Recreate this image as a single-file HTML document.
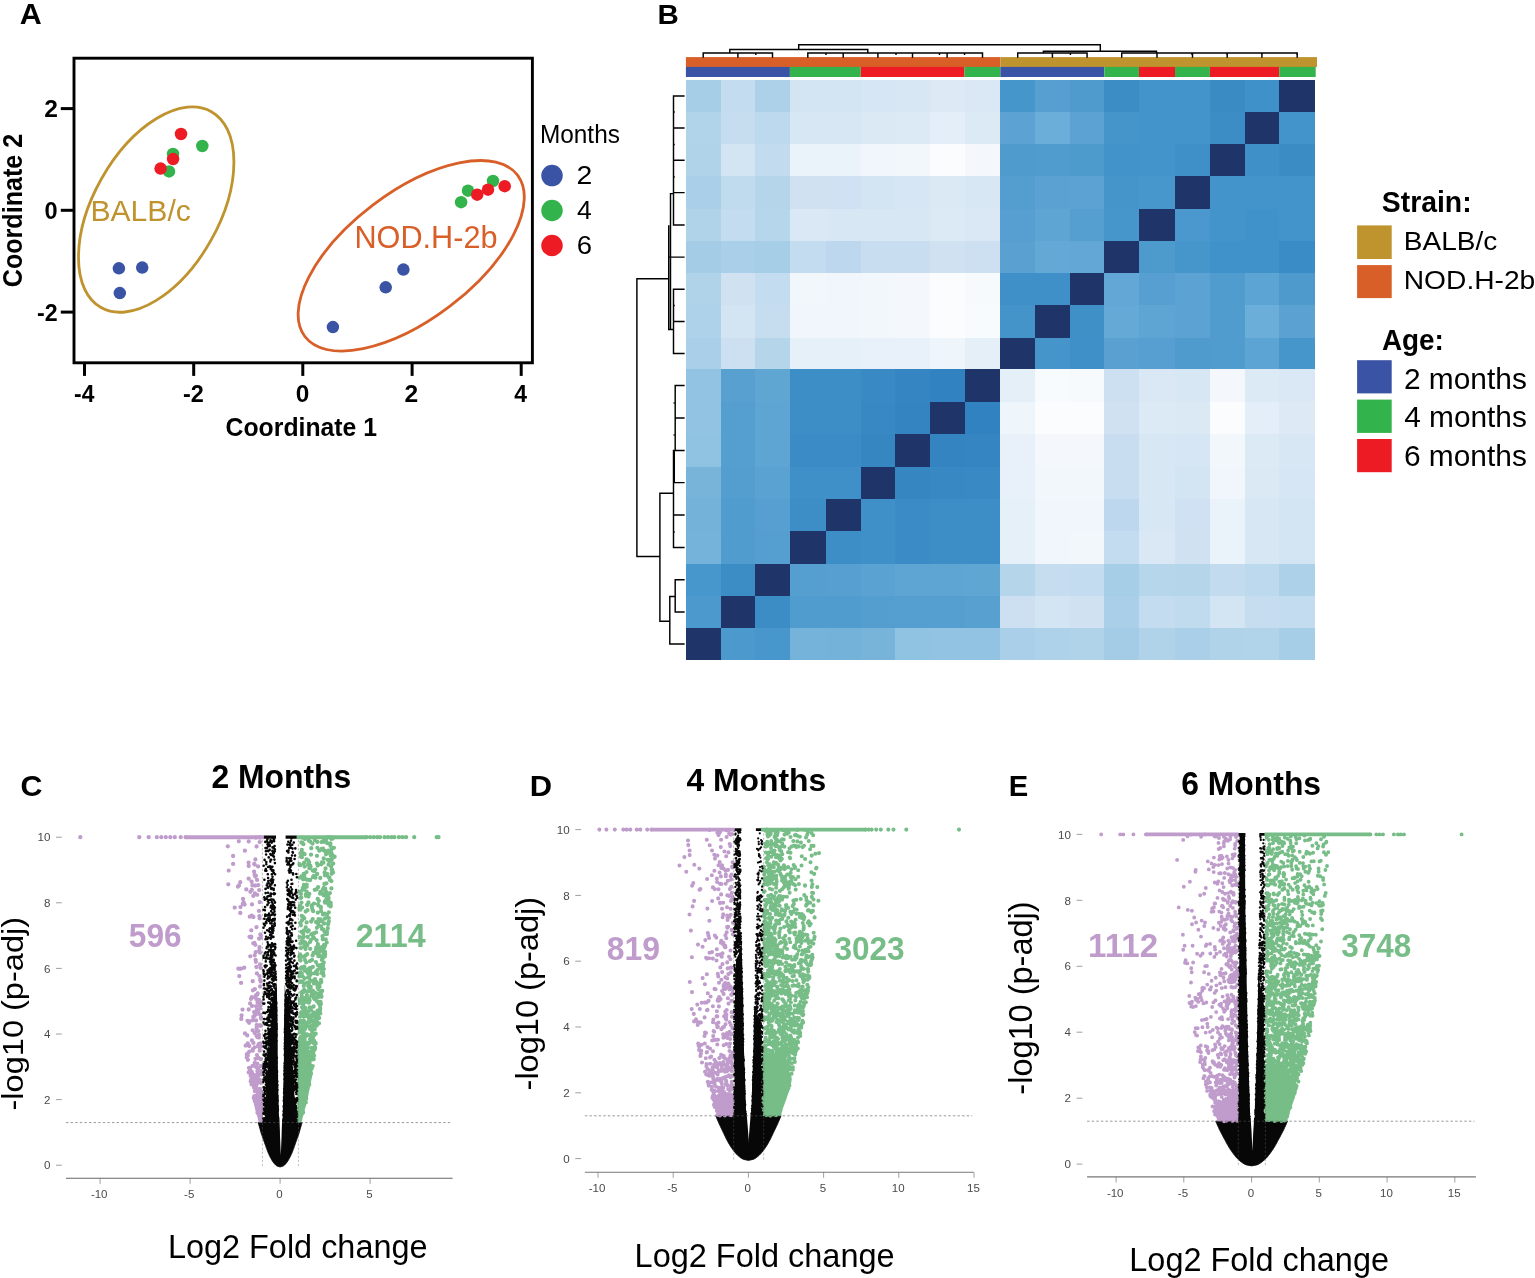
<!DOCTYPE html>
<html lang="en"><head><meta charset="utf-8"><title>Figure: MDS, sample distance heatmap and volcano plots</title>
<style>html,body{margin:0;padding:0;background:#fff}body{width:1535px;height:1278px;overflow:hidden}svg{display:block}text{font-family:"Liberation Sans",Arial,Helvetica,sans-serif;white-space:pre}</style></head><body>
<svg width="1535" height="1278" viewBox="0 0 1535 1278" role="img" aria-label="Five panel figure: MDS plot, sample distance heatmap and three volcano plots">
<rect width="1535" height="1278" fill="#fff"/>
<g id="panelA">
<text transform="translate(19.84 24.2) scale(1.0199 1)" font-size="29.86" font-weight="bold" fill="#000">A</text>
<rect x="74.0" y="58.2" width="458.4" height="304.6" fill="none" stroke="#000" stroke-width="2.9"/>
<line x1="60.8" x2="74.0" y1="108.6" y2="108.6" stroke="#000" stroke-width="3"/>
<line x1="60.8" x2="74.0" y1="210.3" y2="210.3" stroke="#000" stroke-width="3"/>
<line x1="60.8" x2="74.0" y1="312.1" y2="312.1" stroke="#000" stroke-width="3"/>
<line x1="84.5" x2="84.5" y1="362.8" y2="375.9" stroke="#000" stroke-width="3"/>
<line x1="193.7" x2="193.7" y1="362.8" y2="375.9" stroke="#000" stroke-width="3"/>
<line x1="302.8" x2="302.8" y1="362.8" y2="375.9" stroke="#000" stroke-width="3"/>
<line x1="412.1" x2="412.1" y1="362.8" y2="375.9" stroke="#000" stroke-width="3"/>
<line x1="521.2" x2="521.2" y1="362.8" y2="375.9" stroke="#000" stroke-width="3"/>
<text transform="translate(44.14 117.3) scale(1.0304 1)" font-size="23.86" font-weight="bold" fill="#000">2</text>
<text transform="translate(44.46 218.6) scale(1.0003 1)" font-size="23.57" font-weight="bold" fill="#000">0</text>
<text transform="translate(37.07 320.6) scale(0.9557 1)" font-size="24.29" font-weight="bold" fill="#000">-2</text>
<text transform="translate(74.09 401.6) scale(0.9494 1)" font-size="24.06" font-weight="bold" fill="#000">-4</text>
<text transform="translate(182.96 401.6) scale(0.9891 1)" font-size="23.71" font-weight="bold" fill="#000">-2</text>
<text transform="translate(295.82 401.6) scale(1.0298 1)" font-size="23.71" font-weight="bold" fill="#000">0</text>
<text transform="translate(404.54 401.6) scale(1.0366 1)" font-size="23.71" font-weight="bold" fill="#000">2</text>
<text transform="translate(514.36 401.6) scale(0.9556 1)" font-size="24.06" font-weight="bold" fill="#000">4</text>
<text transform="translate(225.61 435.8) scale(0.9637 1)" font-size="25.71" font-weight="bold" fill="#000">Coordinate 1</text>
<text transform="translate(22.1 287.2) rotate(-90) scale(0.9299 1)" font-size="27" font-weight="bold" fill="#000">Coordinate 2</text>
<ellipse cx="156.2" cy="209.6" rx="112.4" ry="62.8" transform="rotate(-60.6 156.2 209.6)" fill="none" stroke="#BF932E" stroke-width="2.8"/>
<ellipse cx="411.2" cy="255.8" rx="133.5" ry="63.6" transform="rotate(-37.2 411.2 255.8)" fill="none" stroke="#D95F28" stroke-width="2.8"/>
<text transform="translate(90.39 221.4) scale(1.029 1)" font-size="29.28" fill="#BF932E">BALB/c</text>
<text transform="translate(354.44 247.7) scale(0.999 1)" font-size="30.72" fill="#D95F28">NOD.H-2b</text>
<circle cx="118.9" cy="268.3" r="6.25" fill="#3A53A4"/>
<circle cx="142.2" cy="267.6" r="6.25" fill="#3A53A4"/>
<circle cx="119.8" cy="293.1" r="6.25" fill="#3A53A4"/>
<circle cx="403.4" cy="269.6" r="6.25" fill="#3A53A4"/>
<circle cx="385.7" cy="287.3" r="6.25" fill="#3A53A4"/>
<circle cx="332.9" cy="327.1" r="6.25" fill="#3A53A4"/>
<circle cx="202.3" cy="146.0" r="6.25" fill="#33B34B"/>
<circle cx="173.0" cy="153.9" r="6.25" fill="#33B34B"/>
<circle cx="169.0" cy="171.4" r="6.25" fill="#33B34B"/>
<circle cx="493.0" cy="181.0" r="6.25" fill="#33B34B"/>
<circle cx="468.0" cy="190.7" r="6.25" fill="#33B34B"/>
<circle cx="461.1" cy="202.2" r="6.25" fill="#33B34B"/>
<circle cx="181.0" cy="134.0" r="6.25" fill="#ED1C24"/>
<circle cx="173.1" cy="159.1" r="6.25" fill="#ED1C24"/>
<circle cx="160.6" cy="168.6" r="6.25" fill="#ED1C24"/>
<circle cx="504.7" cy="186.2" r="6.25" fill="#ED1C24"/>
<circle cx="488.0" cy="189.7" r="6.25" fill="#ED1C24"/>
<circle cx="477.2" cy="194.7" r="6.25" fill="#ED1C24"/>
<text transform="translate(539.95 142.5) scale(0.9509 1)" font-size="25.65" fill="#000">Months</text>
<circle cx="552" cy="175.6" r="10.75" fill="#3A53A4"/>
<circle cx="552" cy="210.5" r="10.75" fill="#33B34B"/>
<circle cx="552" cy="245.5" r="10.75" fill="#ED1C24"/>
<text transform="translate(576.38 183.8) scale(1.1087 1)" font-size="25.57" fill="#000">2</text>
<text transform="translate(577.07 218.6) scale(1.0462 1)" font-size="25.36" fill="#000">4</text>
<text transform="translate(576.82 253.7) scale(1.0765 1)" font-size="25.57" fill="#000">6</text>
</g>
<g id="panelB">
<text transform="translate(657.58 23.9) scale(1.0605 1)" font-size="27.83" font-weight="bold" fill="#000">B</text>
<g shape-rendering="crispEdges">
<rect x="685.9" y="80.2" width="34.9" height="31.7" fill="#A6CEE7"/>
<rect x="720.5" y="80.2" width="35" height="31.7" fill="#C3DCEF"/>
<rect x="755.2" y="80.2" width="35" height="31.7" fill="#ADD1E9"/>
<rect x="789.9" y="80.2" width="71.1" height="31.7" fill="#D3E4F3"/>
<rect x="860.7" y="80.2" width="34.7" height="31.7" fill="#D6E6F4"/>
<rect x="895.1" y="80.2" width="35" height="31.7" fill="#D8E7F4"/>
<rect x="929.8" y="80.2" width="35" height="31.7" fill="#DDEAF6"/>
<rect x="964.5" y="80.2" width="36.2" height="31.7" fill="#DAE8F5"/>
<rect x="1000.4" y="80.2" width="34.9" height="31.7" fill="#4596CB"/>
<rect x="1035" y="80.2" width="35.1" height="31.7" fill="#579FD0"/>
<rect x="1069.8" y="80.2" width="34.9" height="31.7" fill="#4F9BCD"/>
<rect x="1104.4" y="80.2" width="34.9" height="31.7" fill="#3C8DC6"/>
<rect x="1139" y="80.2" width="71.2" height="31.7" fill="#4294CB"/>
<rect x="1209.9" y="80.2" width="35" height="31.7" fill="#3A8BC4"/>
<rect x="1244.6" y="80.2" width="35" height="31.7" fill="#3F91C9"/>
<rect x="1279.3" y="80.2" width="36" height="31.7" fill="#1F3468"/>
<rect x="685.9" y="111.6" width="34.9" height="33.1" fill="#B2D4EA"/>
<rect x="720.5" y="111.6" width="35" height="33.1" fill="#C6DDF0"/>
<rect x="755.2" y="111.6" width="35" height="33.1" fill="#BDD9ED"/>
<rect x="789.9" y="111.6" width="71.1" height="33.1" fill="#D8E7F4"/>
<rect x="860.7" y="111.6" width="34.7" height="33.1" fill="#DBE9F5"/>
<rect x="895.1" y="111.6" width="35" height="33.1" fill="#DCEAF5"/>
<rect x="929.8" y="111.6" width="35" height="33.1" fill="#E3EEF8"/>
<rect x="964.5" y="111.6" width="36.2" height="33.1" fill="#DCEAF5"/>
<rect x="1000.4" y="111.6" width="34.9" height="33.1" fill="#5CA3D3"/>
<rect x="1035" y="111.6" width="35.1" height="33.1" fill="#6CAEDA"/>
<rect x="1069.8" y="111.6" width="34.9" height="33.1" fill="#5CA3D3"/>
<rect x="1104.4" y="111.6" width="34.9" height="33.1" fill="#4595CB"/>
<rect x="1139" y="111.6" width="71.2" height="33.1" fill="#4294CB"/>
<rect x="1209.9" y="111.6" width="35" height="33.1" fill="#3C8DC6"/>
<rect x="1244.6" y="111.6" width="35" height="33.1" fill="#1F3468"/>
<rect x="1279.3" y="111.6" width="36" height="33.1" fill="#4294CB"/>
<rect x="685.9" y="144.4" width="34.9" height="32.1" fill="#B0D3EA"/>
<rect x="720.5" y="144.4" width="35" height="32.1" fill="#D3E4F3"/>
<rect x="755.2" y="144.4" width="35" height="32.1" fill="#C2DBEF"/>
<rect x="789.9" y="144.4" width="71.1" height="32.1" fill="#EAF2FA"/>
<rect x="860.7" y="144.4" width="34.7" height="32.1" fill="#F0F6FB"/>
<rect x="895.1" y="144.4" width="35" height="32.1" fill="#F2F7FC"/>
<rect x="929.8" y="144.4" width="35" height="32.1" fill="#FAFCFE"/>
<rect x="964.5" y="144.4" width="36.2" height="32.1" fill="#F4F8FC"/>
<rect x="1000.4" y="144.4" width="34.9" height="32.1" fill="#4F9BCD"/>
<rect x="1035" y="144.4" width="35.1" height="32.1" fill="#509CCF"/>
<rect x="1069.8" y="144.4" width="34.9" height="32.1" fill="#4D9ACD"/>
<rect x="1104.4" y="144.4" width="34.9" height="32.1" fill="#4193CA"/>
<rect x="1139" y="144.4" width="36.3" height="32.1" fill="#4294CB"/>
<rect x="1175" y="144.4" width="35.2" height="32.1" fill="#3F90C8"/>
<rect x="1209.9" y="144.4" width="35" height="32.1" fill="#1F3468"/>
<rect x="1244.6" y="144.4" width="35" height="32.1" fill="#3F90C8"/>
<rect x="1279.3" y="144.4" width="36" height="32.1" fill="#3B8CC5"/>
<rect x="685.9" y="176.2" width="34.9" height="33" fill="#AACFE8"/>
<rect x="720.5" y="176.2" width="35" height="33" fill="#C0DAEE"/>
<rect x="755.2" y="176.2" width="35" height="33" fill="#B5D5EB"/>
<rect x="789.9" y="176.2" width="36" height="33" fill="#D0E2F2"/>
<rect x="825.6" y="176.2" width="35.4" height="33" fill="#CFE1F2"/>
<rect x="860.7" y="176.2" width="34.7" height="33" fill="#D3E4F3"/>
<rect x="895.1" y="176.2" width="35" height="33" fill="#D6E6F4"/>
<rect x="929.8" y="176.2" width="35" height="33" fill="#DBE9F5"/>
<rect x="964.5" y="176.2" width="36.2" height="33" fill="#D8E7F4"/>
<rect x="1000.4" y="176.2" width="34.9" height="33" fill="#539DCF"/>
<rect x="1035" y="176.2" width="35.1" height="33" fill="#5BA2D2"/>
<rect x="1069.8" y="176.2" width="34.9" height="33" fill="#5CA3D3"/>
<rect x="1104.4" y="176.2" width="34.9" height="33" fill="#4595CB"/>
<rect x="1139" y="176.2" width="36.3" height="33" fill="#4797CC"/>
<rect x="1175" y="176.2" width="35.2" height="33" fill="#1F3468"/>
<rect x="1209.9" y="176.2" width="105.4" height="33" fill="#4294CB"/>
<rect x="685.9" y="208.9" width="34.9" height="32.2" fill="#B0D3EA"/>
<rect x="720.5" y="208.9" width="35" height="32.2" fill="#C4DCEF"/>
<rect x="755.2" y="208.9" width="35" height="32.2" fill="#B6D6EC"/>
<rect x="789.9" y="208.9" width="36" height="32.2" fill="#DAE8F5"/>
<rect x="825.6" y="208.9" width="104.5" height="32.2" fill="#D8E7F4"/>
<rect x="929.8" y="208.9" width="35" height="32.2" fill="#DCEAF5"/>
<rect x="964.5" y="208.9" width="36.2" height="32.2" fill="#DAE8F5"/>
<rect x="1000.4" y="208.9" width="34.9" height="32.2" fill="#579FD0"/>
<rect x="1035" y="208.9" width="35.1" height="32.2" fill="#5EA5D4"/>
<rect x="1069.8" y="208.9" width="34.9" height="32.2" fill="#559ED0"/>
<rect x="1104.4" y="208.9" width="34.9" height="32.2" fill="#4796CB"/>
<rect x="1139" y="208.9" width="36.3" height="32.2" fill="#1F3468"/>
<rect x="1175" y="208.9" width="35.2" height="32.2" fill="#4A98CD"/>
<rect x="1209.9" y="208.9" width="35" height="32.2" fill="#4294CB"/>
<rect x="1244.6" y="208.9" width="35" height="32.2" fill="#4092CA"/>
<rect x="1279.3" y="208.9" width="36" height="32.2" fill="#4294CB"/>
<rect x="685.9" y="240.8" width="34.9" height="32.9" fill="#A4CCE6"/>
<rect x="720.5" y="240.8" width="35" height="32.9" fill="#AACFE8"/>
<rect x="755.2" y="240.8" width="35" height="32.9" fill="#A6CEE7"/>
<rect x="789.9" y="240.8" width="36" height="32.9" fill="#C4DCEF"/>
<rect x="825.6" y="240.8" width="35.4" height="32.9" fill="#BDD8EE"/>
<rect x="860.7" y="240.8" width="69.4" height="32.9" fill="#C8DEF0"/>
<rect x="929.8" y="240.8" width="35" height="32.9" fill="#D0E2F2"/>
<rect x="964.5" y="240.8" width="36.2" height="32.9" fill="#CCE0F1"/>
<rect x="1000.4" y="240.8" width="34.9" height="32.9" fill="#5AA1D1"/>
<rect x="1035" y="240.8" width="35.1" height="32.9" fill="#64A8D6"/>
<rect x="1069.8" y="240.8" width="34.9" height="32.9" fill="#62A7D5"/>
<rect x="1104.4" y="240.8" width="34.9" height="32.9" fill="#1F3468"/>
<rect x="1139" y="240.8" width="36.3" height="32.9" fill="#4D9ACD"/>
<rect x="1175" y="240.8" width="35.2" height="32.9" fill="#4696CB"/>
<rect x="1209.9" y="240.8" width="69.7" height="32.9" fill="#4092CA"/>
<rect x="1279.3" y="240.8" width="36" height="32.9" fill="#3A8CC6"/>
<rect x="685.9" y="273.4" width="34.9" height="32.1" fill="#B0D3EA"/>
<rect x="720.5" y="273.4" width="35" height="32.1" fill="#D0E2F2"/>
<rect x="755.2" y="273.4" width="35" height="32.1" fill="#C3DCEF"/>
<rect x="789.9" y="273.4" width="36" height="32.1" fill="#F2F7FC"/>
<rect x="825.6" y="273.4" width="35.4" height="32.1" fill="#F0F6FB"/>
<rect x="860.7" y="273.4" width="34.7" height="32.1" fill="#F2F7FC"/>
<rect x="895.1" y="273.4" width="35" height="32.1" fill="#F4F8FC"/>
<rect x="929.8" y="273.4" width="35" height="32.1" fill="#FAFCFE"/>
<rect x="964.5" y="273.4" width="36.2" height="32.1" fill="#F6FAFD"/>
<rect x="1000.4" y="273.4" width="69.7" height="32.1" fill="#3F90C8"/>
<rect x="1069.8" y="273.4" width="34.9" height="32.1" fill="#1F3468"/>
<rect x="1104.4" y="273.4" width="34.9" height="32.1" fill="#62A7D5"/>
<rect x="1139" y="273.4" width="36.3" height="32.1" fill="#579FD0"/>
<rect x="1175" y="273.4" width="35.2" height="32.1" fill="#5CA3D3"/>
<rect x="1209.9" y="273.4" width="35" height="32.1" fill="#519CCE"/>
<rect x="1244.6" y="273.4" width="35" height="32.1" fill="#5CA4D4"/>
<rect x="1279.3" y="273.4" width="36" height="32.1" fill="#4E9ACD"/>
<rect x="685.9" y="305.2" width="34.9" height="33" fill="#AED2E9"/>
<rect x="720.5" y="305.2" width="35" height="33" fill="#D3E4F3"/>
<rect x="755.2" y="305.2" width="35" height="33" fill="#C6DDF0"/>
<rect x="789.9" y="305.2" width="71.1" height="33" fill="#F0F6FB"/>
<rect x="860.7" y="305.2" width="34.7" height="33" fill="#F2F7FC"/>
<rect x="895.1" y="305.2" width="35" height="33" fill="#F4F8FC"/>
<rect x="929.8" y="305.2" width="35" height="33" fill="#FAFCFE"/>
<rect x="964.5" y="305.2" width="36.2" height="33" fill="#F8FBFD"/>
<rect x="1000.4" y="305.2" width="34.9" height="33" fill="#4494CA"/>
<rect x="1035" y="305.2" width="35.1" height="33" fill="#1F3468"/>
<rect x="1069.8" y="305.2" width="34.9" height="33" fill="#4090C8"/>
<rect x="1104.4" y="305.2" width="34.9" height="33" fill="#65A9D6"/>
<rect x="1139" y="305.2" width="36.3" height="33" fill="#5FA5D4"/>
<rect x="1175" y="305.2" width="35.2" height="33" fill="#5CA3D3"/>
<rect x="1209.9" y="305.2" width="35" height="33" fill="#519CCE"/>
<rect x="1244.6" y="305.2" width="35" height="33" fill="#6CAEDA"/>
<rect x="1279.3" y="305.2" width="36" height="33" fill="#5BA2D2"/>
<rect x="685.9" y="337.9" width="34.9" height="31.6" fill="#AACFE8"/>
<rect x="720.5" y="337.9" width="35" height="31.6" fill="#CCE0F1"/>
<rect x="755.2" y="337.9" width="35" height="31.6" fill="#B5D5EB"/>
<rect x="789.9" y="337.9" width="71.1" height="31.6" fill="#E6F0F9"/>
<rect x="860.7" y="337.9" width="69.4" height="31.6" fill="#E8F1F9"/>
<rect x="929.8" y="337.9" width="35" height="31.6" fill="#EEF5FB"/>
<rect x="964.5" y="337.9" width="36.2" height="31.6" fill="#E4EFF8"/>
<rect x="1000.4" y="337.9" width="34.9" height="31.6" fill="#1F3468"/>
<rect x="1035" y="337.9" width="35.1" height="31.6" fill="#4595CB"/>
<rect x="1069.8" y="337.9" width="34.9" height="31.6" fill="#3F90C8"/>
<rect x="1104.4" y="337.9" width="34.9" height="31.6" fill="#5AA1D1"/>
<rect x="1139" y="337.9" width="36.3" height="31.6" fill="#579FD0"/>
<rect x="1175" y="337.9" width="35.2" height="31.6" fill="#4F9BCD"/>
<rect x="1209.9" y="337.9" width="35" height="31.6" fill="#519CCE"/>
<rect x="1244.6" y="337.9" width="35" height="31.6" fill="#5CA4D4"/>
<rect x="1279.3" y="337.9" width="36" height="31.6" fill="#4696CB"/>
<rect x="685.9" y="369.2" width="34.9" height="32.6" fill="#92C3E2"/>
<rect x="720.5" y="369.2" width="35" height="32.6" fill="#57A0D0"/>
<rect x="755.2" y="369.2" width="35" height="32.6" fill="#60A6D3"/>
<rect x="789.9" y="369.2" width="71.1" height="32.6" fill="#3D8DC6"/>
<rect x="860.7" y="369.2" width="34.7" height="32.6" fill="#398AC4"/>
<rect x="895.1" y="369.2" width="35" height="32.6" fill="#3585C2"/>
<rect x="929.8" y="369.2" width="35" height="32.6" fill="#3182C1"/>
<rect x="964.5" y="369.2" width="36.2" height="32.6" fill="#1F3468"/>
<rect x="1000.4" y="369.2" width="34.9" height="32.6" fill="#E4EFF8"/>
<rect x="1035" y="369.2" width="35.1" height="32.6" fill="#F8FBFD"/>
<rect x="1069.8" y="369.2" width="34.9" height="32.6" fill="#F6FAFD"/>
<rect x="1104.4" y="369.2" width="34.9" height="32.6" fill="#CCE0F1"/>
<rect x="1139" y="369.2" width="36.3" height="32.6" fill="#DAE8F5"/>
<rect x="1175" y="369.2" width="35.2" height="32.6" fill="#D8E7F4"/>
<rect x="1209.9" y="369.2" width="35" height="32.6" fill="#F4F8FC"/>
<rect x="1244.6" y="369.2" width="35" height="32.6" fill="#DCEAF5"/>
<rect x="1279.3" y="369.2" width="36" height="32.6" fill="#DAE8F5"/>
<rect x="685.9" y="401.5" width="34.9" height="33.1" fill="#92C3E2"/>
<rect x="720.5" y="401.5" width="35" height="33.1" fill="#559ED0"/>
<rect x="755.2" y="401.5" width="35" height="33.1" fill="#5FA5D3"/>
<rect x="789.9" y="401.5" width="36" height="33.1" fill="#3D8DC6"/>
<rect x="825.6" y="401.5" width="35.4" height="33.1" fill="#3D8EC7"/>
<rect x="860.7" y="401.5" width="34.7" height="33.1" fill="#3888C3"/>
<rect x="895.1" y="401.5" width="35" height="33.1" fill="#3384C1"/>
<rect x="929.8" y="401.5" width="35" height="33.1" fill="#1F3468"/>
<rect x="964.5" y="401.5" width="36.2" height="33.1" fill="#3182C1"/>
<rect x="1000.4" y="401.5" width="34.9" height="33.1" fill="#EEF5FB"/>
<rect x="1035" y="401.5" width="69.7" height="33.1" fill="#FAFCFE"/>
<rect x="1104.4" y="401.5" width="34.9" height="33.1" fill="#D0E2F2"/>
<rect x="1139" y="401.5" width="36.3" height="33.1" fill="#DCEAF5"/>
<rect x="1175" y="401.5" width="35.2" height="33.1" fill="#DBE9F5"/>
<rect x="1209.9" y="401.5" width="35" height="33.1" fill="#FAFCFE"/>
<rect x="1244.6" y="401.5" width="35" height="33.1" fill="#E3EEF8"/>
<rect x="1279.3" y="401.5" width="36" height="33.1" fill="#DDEAF6"/>
<rect x="685.9" y="434.3" width="34.9" height="32.7" fill="#90C2E1"/>
<rect x="720.5" y="434.3" width="35" height="32.7" fill="#559ED0"/>
<rect x="755.2" y="434.3" width="35" height="32.7" fill="#5FA5D3"/>
<rect x="789.9" y="434.3" width="71.1" height="32.7" fill="#3B8CC6"/>
<rect x="860.7" y="434.3" width="34.7" height="32.7" fill="#3686C2"/>
<rect x="895.1" y="434.3" width="35" height="32.7" fill="#1F3468"/>
<rect x="929.8" y="434.3" width="35" height="32.7" fill="#3384C1"/>
<rect x="964.5" y="434.3" width="36.2" height="32.7" fill="#3585C2"/>
<rect x="1000.4" y="434.3" width="34.9" height="32.7" fill="#E8F1F9"/>
<rect x="1035" y="434.3" width="69.7" height="32.7" fill="#F4F8FC"/>
<rect x="1104.4" y="434.3" width="34.9" height="32.7" fill="#C8DEF0"/>
<rect x="1139" y="434.3" width="36.3" height="32.7" fill="#D8E7F4"/>
<rect x="1175" y="434.3" width="35.2" height="32.7" fill="#D6E6F4"/>
<rect x="1209.9" y="434.3" width="35" height="32.7" fill="#F2F7FC"/>
<rect x="1244.6" y="434.3" width="35" height="32.7" fill="#DCEAF5"/>
<rect x="1279.3" y="434.3" width="36" height="32.7" fill="#D8E7F4"/>
<rect x="685.9" y="466.7" width="34.9" height="32.1" fill="#78B4DA"/>
<rect x="720.5" y="466.7" width="35" height="32.1" fill="#539DCF"/>
<rect x="755.2" y="466.7" width="35" height="32.1" fill="#5AA2D1"/>
<rect x="789.9" y="466.7" width="36" height="32.1" fill="#3F90C8"/>
<rect x="825.6" y="466.7" width="35.4" height="32.1" fill="#3F8FC8"/>
<rect x="860.7" y="466.7" width="34.7" height="32.1" fill="#1F3468"/>
<rect x="895.1" y="466.7" width="35" height="32.1" fill="#3686C2"/>
<rect x="929.8" y="466.7" width="35" height="32.1" fill="#3888C3"/>
<rect x="964.5" y="466.7" width="36.2" height="32.1" fill="#398AC4"/>
<rect x="1000.4" y="466.7" width="34.9" height="32.1" fill="#E8F1F9"/>
<rect x="1035" y="466.7" width="69.7" height="32.1" fill="#F2F7FC"/>
<rect x="1104.4" y="466.7" width="34.9" height="32.1" fill="#C8DEF0"/>
<rect x="1139" y="466.7" width="36.3" height="32.1" fill="#D8E7F4"/>
<rect x="1175" y="466.7" width="35.2" height="32.1" fill="#D3E4F3"/>
<rect x="1209.9" y="466.7" width="35" height="32.1" fill="#F0F6FB"/>
<rect x="1244.6" y="466.7" width="35" height="32.1" fill="#DBE9F5"/>
<rect x="1279.3" y="466.7" width="36" height="32.1" fill="#D6E6F4"/>
<rect x="685.9" y="498.5" width="34.9" height="33" fill="#74B2D9"/>
<rect x="720.5" y="498.5" width="35" height="33" fill="#519CCE"/>
<rect x="755.2" y="498.5" width="35" height="33" fill="#579FD0"/>
<rect x="789.9" y="498.5" width="36" height="33" fill="#3D8DC6"/>
<rect x="825.6" y="498.5" width="35.4" height="33" fill="#1F3468"/>
<rect x="860.7" y="498.5" width="34.7" height="33" fill="#3F8FC8"/>
<rect x="895.1" y="498.5" width="35" height="33" fill="#3B8CC6"/>
<rect x="929.8" y="498.5" width="35" height="33" fill="#3D8EC7"/>
<rect x="964.5" y="498.5" width="36.2" height="33" fill="#3D8DC6"/>
<rect x="1000.4" y="498.5" width="34.9" height="33" fill="#E6F0F9"/>
<rect x="1035" y="498.5" width="69.7" height="33" fill="#F0F6FB"/>
<rect x="1104.4" y="498.5" width="34.9" height="33" fill="#BDD8EE"/>
<rect x="1139" y="498.5" width="36.3" height="33" fill="#D8E7F4"/>
<rect x="1175" y="498.5" width="35.2" height="33" fill="#CFE1F2"/>
<rect x="1209.9" y="498.5" width="35" height="33" fill="#EAF2FA"/>
<rect x="1244.6" y="498.5" width="35" height="33" fill="#D8E7F4"/>
<rect x="1279.3" y="498.5" width="36" height="33" fill="#D3E4F3"/>
<rect x="685.9" y="531.2" width="34.9" height="33" fill="#76B3DA"/>
<rect x="720.5" y="531.2" width="35" height="33" fill="#519CCE"/>
<rect x="755.2" y="531.2" width="35" height="33" fill="#559ED0"/>
<rect x="789.9" y="531.2" width="36" height="33" fill="#1F3468"/>
<rect x="825.6" y="531.2" width="35.4" height="33" fill="#3D8DC6"/>
<rect x="860.7" y="531.2" width="34.7" height="33" fill="#3F90C8"/>
<rect x="895.1" y="531.2" width="35" height="33" fill="#3B8CC6"/>
<rect x="929.8" y="531.2" width="70.9" height="33" fill="#3D8DC6"/>
<rect x="1000.4" y="531.2" width="34.9" height="33" fill="#E6F0F9"/>
<rect x="1035" y="531.2" width="35.1" height="33" fill="#F0F6FB"/>
<rect x="1069.8" y="531.2" width="34.9" height="33" fill="#F2F7FC"/>
<rect x="1104.4" y="531.2" width="34.9" height="33" fill="#C4DCEF"/>
<rect x="1139" y="531.2" width="36.3" height="33" fill="#DAE8F5"/>
<rect x="1175" y="531.2" width="35.2" height="33" fill="#D0E2F2"/>
<rect x="1209.9" y="531.2" width="35" height="33" fill="#EAF2FA"/>
<rect x="1244.6" y="531.2" width="35" height="33" fill="#D8E7F4"/>
<rect x="1279.3" y="531.2" width="36" height="33" fill="#D3E4F3"/>
<rect x="685.9" y="563.9" width="34.9" height="32.1" fill="#4897CC"/>
<rect x="720.5" y="563.9" width="35" height="32.1" fill="#3C8DC6"/>
<rect x="755.2" y="563.9" width="35" height="32.1" fill="#1F3468"/>
<rect x="789.9" y="563.9" width="36" height="32.1" fill="#559ED0"/>
<rect x="825.6" y="563.9" width="35.4" height="32.1" fill="#579FD0"/>
<rect x="860.7" y="563.9" width="34.7" height="32.1" fill="#5AA2D1"/>
<rect x="895.1" y="563.9" width="69.7" height="32.1" fill="#5FA5D3"/>
<rect x="964.5" y="563.9" width="36.2" height="32.1" fill="#60A6D3"/>
<rect x="1000.4" y="563.9" width="34.9" height="32.1" fill="#B5D5EB"/>
<rect x="1035" y="563.9" width="35.1" height="32.1" fill="#C6DDF0"/>
<rect x="1069.8" y="563.9" width="34.9" height="32.1" fill="#C3DCEF"/>
<rect x="1104.4" y="563.9" width="34.9" height="32.1" fill="#A6CEE7"/>
<rect x="1139" y="563.9" width="36.3" height="32.1" fill="#B6D6EC"/>
<rect x="1175" y="563.9" width="35.2" height="32.1" fill="#B5D5EB"/>
<rect x="1209.9" y="563.9" width="35" height="32.1" fill="#C2DBEF"/>
<rect x="1244.6" y="563.9" width="35" height="32.1" fill="#BDD9ED"/>
<rect x="1279.3" y="563.9" width="36" height="32.1" fill="#ADD1E9"/>
<rect x="685.9" y="595.7" width="34.9" height="32.9" fill="#4C9ACD"/>
<rect x="720.5" y="595.7" width="35" height="32.9" fill="#1F3468"/>
<rect x="755.2" y="595.7" width="35" height="32.9" fill="#3C8DC6"/>
<rect x="789.9" y="595.7" width="71.1" height="32.9" fill="#519CCE"/>
<rect x="860.7" y="595.7" width="34.7" height="32.9" fill="#539DCF"/>
<rect x="895.1" y="595.7" width="69.7" height="32.9" fill="#559ED0"/>
<rect x="964.5" y="595.7" width="36.2" height="32.9" fill="#57A0D0"/>
<rect x="1000.4" y="595.7" width="34.9" height="32.9" fill="#CCE0F1"/>
<rect x="1035" y="595.7" width="35.1" height="32.9" fill="#D3E4F3"/>
<rect x="1069.8" y="595.7" width="34.9" height="32.9" fill="#D0E2F2"/>
<rect x="1104.4" y="595.7" width="34.9" height="32.9" fill="#AACFE8"/>
<rect x="1139" y="595.7" width="36.3" height="32.9" fill="#C4DCEF"/>
<rect x="1175" y="595.7" width="35.2" height="32.9" fill="#C0DAEE"/>
<rect x="1209.9" y="595.7" width="35" height="32.9" fill="#D3E4F3"/>
<rect x="1244.6" y="595.7" width="35" height="32.9" fill="#C6DDF0"/>
<rect x="1279.3" y="595.7" width="36" height="32.9" fill="#C3DCEF"/>
<rect x="685.9" y="628.3" width="34.9" height="31.8" fill="#1F3468"/>
<rect x="720.5" y="628.3" width="35" height="31.8" fill="#4C9ACD"/>
<rect x="755.2" y="628.3" width="35" height="31.8" fill="#4897CC"/>
<rect x="789.9" y="628.3" width="36" height="31.8" fill="#76B3DA"/>
<rect x="825.6" y="628.3" width="35.4" height="31.8" fill="#74B2D9"/>
<rect x="860.7" y="628.3" width="34.7" height="31.8" fill="#78B4DA"/>
<rect x="895.1" y="628.3" width="35" height="31.8" fill="#90C2E1"/>
<rect x="929.8" y="628.3" width="70.9" height="31.8" fill="#92C3E2"/>
<rect x="1000.4" y="628.3" width="34.9" height="31.8" fill="#AACFE8"/>
<rect x="1035" y="628.3" width="35.1" height="31.8" fill="#AED2E9"/>
<rect x="1069.8" y="628.3" width="34.9" height="31.8" fill="#B0D3EA"/>
<rect x="1104.4" y="628.3" width="34.9" height="31.8" fill="#A4CCE6"/>
<rect x="1139" y="628.3" width="36.3" height="31.8" fill="#B0D3EA"/>
<rect x="1175" y="628.3" width="35.2" height="31.8" fill="#AACFE8"/>
<rect x="1209.9" y="628.3" width="35" height="31.8" fill="#B0D3EA"/>
<rect x="1244.6" y="628.3" width="35" height="31.8" fill="#B2D4EA"/>
<rect x="1279.3" y="628.3" width="36" height="31.8" fill="#A6CEE7"/>
</g>
<rect x="685.9" y="57.1" width="314.5" height="9.9" fill="#D95F28"/>
<rect x="1000.4" y="57.1" width="316.6" height="9.9" fill="#BF932E"/>
<rect x="685.9" y="66.9" width="104" height="10.1" fill="#3A53A4"/>
<rect x="789.9" y="66.9" width="70.8" height="10.1" fill="#33B34B"/>
<rect x="860.7" y="66.9" width="103.8" height="10.1" fill="#ED1C24"/>
<rect x="964.5" y="66.9" width="35.9" height="10.1" fill="#33B34B"/>
<rect x="1000.4" y="66.9" width="104" height="10.1" fill="#3A53A4"/>
<rect x="1104.4" y="66.9" width="34.6" height="10.1" fill="#33B34B"/>
<rect x="1139" y="66.9" width="36" height="10.1" fill="#ED1C24"/>
<rect x="1175" y="66.9" width="34.9" height="10.1" fill="#33B34B"/>
<rect x="1209.9" y="66.9" width="69.4" height="10.1" fill="#ED1C24"/>
<rect x="1279.3" y="66.9" width="36.4" height="10.1" fill="#33B34B"/>
<path d="M703.2 57.1V52.9M737.9 57.1V52.9M772.5 57.1V52.9M807.8 57.1V52.9M843.2 57.1V52.9M877.9 57.1V52.9M912.5 57.1V52.9M947.1 57.1V52.9M982.5 57.1V52.9M1017.7 57.1V52.9M1052.4 57.1V52.9M1087.1 57.1V52.9M1121.7 57.1V52.9M1157 57.1V52.9M1192.5 57.1V52.9M1227.2 57.1V52.9M1261.9 57.1V52.9M1297.2 57.1V52.9M703.2 52.9H772.5M807.8 52.9H982.5M1017.7 52.9H1087.1M1121.7 52.9H1297.2M755.8 52.9V54.2M826 52.9V54.2M896 52.9V54.2M939.5 52.9V54.2M964.5 52.9V54.2M1070.4 52.9V54.2M1192 52.9V54.2M1227 52.9V54.2M1262 52.9V54.2M1297 52.9V54.2M729.8 52.9V49.4M867.8 52.9V49.4M729.8 49.4H867.8M798.7 49.4V44.7M798.7 44.7H1100.3M1100.3 44.7V51.2M1043.4 51.2H1156.5M1043.4 51.2V52.9M1156.5 51.2V52.9" fill="none" stroke="#000" stroke-width="1.45" stroke-linejoin="round" stroke-linecap="square"/>
<path d="M673.5 95.9H683.9M673.5 128H683.9M673.5 160.3H683.9M673.5 192.6H683.9M673.5 224.9H683.9M673.5 95.9V224.9M668.7 257.1H683.9M673.5 289.3H683.9M673.5 321.5H683.9M673.5 353.5H683.9M673.5 289.3V353.5M670.5 193.6H673.5M670.5 193.6V329.5M670.5 329.5H673.5M668.7 225.9V329.5M668.7 329.5H670.5M636.9 278.8H668.7M636.9 278.8V556.5M636.9 556.5H659.9M659.9 493.2V621.2M659.9 493.2H673.5M675.2 385.4H683.9M675.2 417.9H683.9M675.2 450.5H683.9M675.2 385.4V450.5M673.5 482.6H683.9M673.5 514.9H683.9M673.5 547.5H683.9M673.5 450.5V547.5M674.3 450.5V482.6M659.9 621.2H669.8M669.8 596.5V644M669.8 644H683.9M669.8 596.5H675.2M675.2 579.8V612M675.2 579.8H683.9M675.2 612H683.9" fill="none" stroke="#000" stroke-width="1.45" stroke-linecap="square"/>
<path d="M673.5 112h1.2M673.5 144.5h1.2M673.5 177h1.2M673.5 305.5h1.2M673.5 403h1.2M673.5 435h1.2M673.5 532h1.2" fill="none" stroke="#000" stroke-width="1.3"/>
<text transform="translate(1381.75 212.3) scale(0.9554 1)" font-size="29.71" font-weight="bold" fill="#000">Strain:</text>
<rect x="1357.1" y="225.4" width="34.6" height="33.6" fill="#BF932E"/>
<rect x="1357.1" y="265.1" width="34.6" height="33.0" fill="#D95F28"/>
<text transform="translate(1403.76 250.1) scale(1.0634 1)" font-size="26.38" fill="#000">BALB/c</text>
<text transform="translate(1403.74 288.6) scale(1.0634 1)" font-size="26.52" fill="#000">NOD.H-2b</text>
<text transform="translate(1381.9 349.7) scale(0.9532 1)" font-size="29.28" font-weight="bold" fill="#000">Age:</text>
<rect x="1357.1" y="360.2" width="34.6" height="33.2" fill="#3A53A4"/>
<rect x="1357.1" y="399.6" width="34.6" height="33.3" fill="#33B34B"/>
<rect x="1357.1" y="439.0" width="34.6" height="33.2" fill="#ED1C24"/>
<text transform="translate(1403.9 388.8) scale(1.0063 1)" font-size="29.71" fill="#000">2 months</text>
<text transform="translate(1404.2 427.3) scale(0.9895 1)" font-size="30.14" fill="#000">4 months</text>
<text transform="translate(1403.9 465.7) scale(1.0063 1)" font-size="29.71" fill="#000">6 months</text>
</g>
<g id="panelC">
<path d="M66.0 1178.2H452.6" stroke="#666" stroke-width="1.1" fill="none"/>
<path d="M100.1 1178.2v5.6M190.1 1178.2v5.6M280.1 1178.2v5.6M370.1 1178.2v5.6M56 1165.2h5.8M56 1099.6h5.8M56 1034h5.8M56 968.4h5.8M56 902.8h5.8M56 837.2h5.8" stroke="#777" stroke-width="0.7" fill="none"/>
<text x="99.2" y="1198.1" font-size="11.5" fill="#4a4a4a" text-anchor="middle">-10</text>
<text x="189.2" y="1198.1" font-size="11.5" fill="#4a4a4a" text-anchor="middle">-5</text>
<text x="279.5" y="1198.1" font-size="11.5" fill="#4a4a4a" text-anchor="middle">0</text>
<text x="369.5" y="1198.1" font-size="11.5" fill="#4a4a4a" text-anchor="middle">5</text>
<text x="50.4" y="1169.4" font-size="11.6" fill="#4a4a4a" text-anchor="end">0</text>
<text x="50.4" y="1103.8" font-size="11.6" fill="#4a4a4a" text-anchor="end">2</text>
<text x="50.4" y="1038.2" font-size="11.6" fill="#4a4a4a" text-anchor="end">4</text>
<text x="50.4" y="972.6" font-size="11.6" fill="#4a4a4a" text-anchor="end">6</text>
<text x="50.4" y="907" font-size="11.6" fill="#4a4a4a" text-anchor="end">8</text>
<text x="50.4" y="841.4" font-size="11.6" fill="#4a4a4a" text-anchor="end">10</text>
<path d="M280.1 1167 283.3 1166 284.6 1165 285.6 1163.9 286.5 1162.9 287.2 1161.9 287.9 1160.9 288.6 1159.8 289.1 1158.8 289.7 1157.8 290.2 1156.8 290.7 1155.8 291.2 1154.7 291.6 1153.7 292.1 1152.7 292.5 1151.7 292.9 1150.6 293.3 1149.6 293.7 1148.6 294 1147.6 294.4 1146.5 294.7 1145.5 295.5 1143.4 296.2 1141.3 296.9 1139.3 297.7 1137.2 298.4 1135.1 299.1 1133 299.7 1130.9 300.3 1128.8 300.9 1126.7 301.5 1124.6 302.1 1122.6 258.1 1122.6 258.7 1124.6 259.3 1126.7 259.9 1128.8 260.5 1130.9 261.1 1133 261.8 1135.1 262.5 1137.2 263.3 1139.3 264 1141.3 264.7 1143.4 265.5 1145.5 265.8 1146.5 266.2 1147.6 266.5 1148.6 266.9 1149.6 267.3 1150.6 267.7 1151.7 268.1 1152.7 268.6 1153.7 269 1154.7 269.5 1155.8 270 1156.8 270.5 1157.8 271.1 1158.8 271.6 1159.8 272.3 1160.9 273 1161.9 273.7 1162.9 274.6 1163.9 275.6 1165 276.9 1166 280.1 1167Z" fill="#070707" stroke="#070707" stroke-width="0.8" stroke-linejoin="round"/>
<path d="M263 1122.6 263 1120.8 263 1119.1 263 1117.4 263 1115.7 263 1113.9 263 1112.2 263 1110.5 263 1108.7 263 1107 263 1105.3 263 1103.6 263 1101.8 263 1100.1 263 1098.4 263 1096.7 263 1094.9 263 1093.2 263 1091.5 263 1089.8 257.3 1089.8 256.6 1091.5 256 1093.2 255.4 1094.9 254.9 1096.7 254.5 1098.4 254.1 1100.1 253.7 1101.8 253.7 1103.6 254.2 1105.3 254.7 1107 255.1 1108.7 255.6 1110.5 256.1 1112.2 256.5 1113.9 257 1115.7 257.5 1117.4 257.9 1119.1 258.4 1120.8 258.9 1122.6Z" fill="#BF9CCB"/>
<path d="M238.8 841.3h0m9.9 0.1h0m7.3-3.8h0m3.7 4.5h0m0.2-4.6h0m-32.1 8.8h0m28.8 0.2h0m-11.7 4.2h0m-11.8 5.3h0m22.3 3.5h0m-22.3 4.4h0m15.5-1.3h0m0.1 3.4h0m5.5-2h0m0.4 0.6h0m3.5 1.8h0m-29.4 4.2h0m25.4 1.1h0m-5.5 7h0m6-3.7h0m0.7 1.6h0m0.6-0.9h0m-27.6 8.6h0m12-2.1h0m11.3-0.5h0m5.5-1.8h0m-19.2 6.8h0m1.1-1.3h0m7.3 4h0m5.5 0.5h0m0.6-4.5h0m2.9 0.1h0m3-0.4h0m0.9 5h0m-8.8 1.7h0m2.9 4.1h0m1.6-2.6h0m2.3 1.5h0m-14.2 4.1h0m0.7 3.6h0m16.1-0.3h0m-25.1 5.4h0m5.8-0.5h0m2.3-3.2h0m1.8 0.7h0m7.4-0.2h0m-11.7 8.6h0m18.7-2.1h0m-9.2 5.8h0m2-1.1h0m1.6 1.4h0m6-0.8h0m0.2 2.1h0m-8.3 12h0m5.2-3.1h0m-7 9.6h0m1.7-0.2h0m0 0.9h0m7.9 1.2h0m1.3-4.2h0m0.2 3.2h0m-7.3 5.6h0m1.1-0.5h0m0.9 2h0m4 5.4h0m0.2-3h0m-9.2 9.1h0m4.4-1h0m1-3.1h0m4.3 0.5h0m-4.4 7.1h0m0.3 2h0m-17.5 6.9h0m2.5 0h0m3.3-1h0m12.2-0.7h0m3.6-2.6h0m0.6 3.5h0m-3.7 5.5h0m-17.6 2.7h0m20.2 0h0m0.7 3.6h0m-19.1 3.2h0m11.6-1.7h0m7.4 5.3h0m0.5-4.9h0m-7.7 8.7h0m2-1.2h0m-3.9 9.8h0m0.8-1.7h0m2.8 0.1h0m1.5-2.2h0m1.2-0.4h0m0.4-1.3h0m-7.6 10.1h0m6.4-4.3h0m1 3h0m1.5-2.4h0m1.9 2.4h0m-18.4 7.4h0m6.2-0.1h0m3.3-3.5h0m4.1 0.2h0m0.7 3.5h0m2.7-4h0m0.5 2.9h0m0.2-2.4h0m-18.6 9.3h0m11.7 1.4h0m0.8-4.8h0m0.4 3.8h0m0.9-1.5h0m2.2-0.9h0m0.6-2.2h0m2.1 3.4h0m-19 4.2h0m6.2 1.9h0m1.3 0.3h0m0.3 1.7h0m3.5-2.5h0m3.5 0.2h0m4.9-2.8h0m0 0.9h0m-4.4 9.6h0m0.1-3.1h0m1.3 0.4h0m2.1-0.3h0m0.5 0.7h0m-15.6 7.5h0m7.6-3.1h0m2.2 2.9h0m2.2-2.4h0m0.1 0.1h0m1.3 0.2h0m0.5 3.9h0m-11.6 0.4h0m4.6 5h0m4.7-4.5h0m0.9 1.3h0m1.4 0.4h0m-13.3 8h0m2.2-2.3h0m1.4 2.7h0m4.2-3.1h0m4.6 3.1h0m0.6-1.5h0m0.3-0.5h0m0.3 3h0m0.2-1.2h0m0.8-2.4h0m0.6 3.3h0m-11.5 4.9h0m3.5-0.9h0m0-1.5h0m1.9-1.9h0m5 3.4h0m-13 6.9h0m0.1-3.1h0m1 0.9h0m0.3-2.3h0m7.4 5.7h0m1.5-3.6h0m1.6 2.8h0m-10.7 1.8h0m6.8 3h0m2.6 0.9h0m3.4-4.5h0m-11.7 8.7h0m1 0.2h0m0.1 1.9h0m2.4-4.1h0m3.6 1h0m2 2.2h0m0.1-1.2h0m1.1 2.6h0m1.2 0.3h0m0.5-4.9h0m-12.3 6.5h0m2 3.5h0m0.1-3.4h0m0.9-0.8h0m0.6 1.9h0m1.6 2h0m0.3-0.5h0m1.5 0.2h0m1.2-0.2h0m0.4-4h0m0.1 3h0m0.4 2.3h0m2.7-4.9h0m0.2 0.5h0m0.3 2.5h0m-10.3 6.9h0m0.4-1.6h0m1.1-2.7h0m0.9 4.3h0m0.3-2.1h0m0.3-0.7h0m2.7 2.4h0m0-2.4h0m0.5 3.9h0m1-2h0m1.8-0.6h0m0.9 2.9h0m-9 1.6h0m1.7 0.1h0m0.3-0.1h0m0.4 3.2h0m1.5 1.1h0m0.2-0.9h0m0.2-4h0m0.3 3.3h0m0.5-2.8h0m3.2 4.5h0m-5.1 2.3h0m0.4 0h0m0.6-1.5h0m0.9 1.1h0m0.5 0.4h0m1.8 0.8h0m0.4-1.4h0m1.3 2.3h0m-6.9 5.1h0m0.4-1.5h0m0.4 2.8h0m0.1 1.8h0m0-3h0m0.3 2.4h0m0.1-4.6h0m1.7 2.4h0m2 2h0m-2.3 0.9h0m0.3 2h0m0.4 2.9h0m3.3 0.1h0m0.3 0.6h0m-3.8 1.3h0m0.2-0.8h0m0.3 5.5h0m0.2-1.9h0m2.7-1.5h0m0.1-0.6h0m-0.3 8h0m0.1-2h0m0.1 4.5h0" stroke="#BF9CCB" stroke-width="4.3" stroke-linecap="round" fill="none"/>
<path d="M297.2 1122.6 297.2 1118.2 297.2 1113.9 297.2 1109.6 297.2 1105.3 297.2 1101 297.2 1096.7 297.2 1092.3 297.2 1088 297.2 1083.7 297.2 1079.4 297.2 1075.1 297.2 1070.8 297.2 1066.5 297.2 1062.1 297.2 1057.8 297.2 1053.5 297.2 1049.2 297.2 1044.9 297.2 1040.6 307.2 1040.6 308.2 1044.9 309.1 1049.2 310 1053.5 310.7 1057.8 311.4 1062.1 312 1066.5 312.5 1070.8 312.4 1075.1 311.5 1079.4 310.6 1083.7 309.8 1088 308.9 1092.3 308 1096.7 307.1 1101 306 1105.3 304.8 1109.6 303.7 1113.9 302.5 1118.2 301.3 1122.6Z" fill="#77BD87"/>
<path d="M301.4 842.5h0m0.8 0.2h0m0-5.1h0m2.6 1.4h0m4 1.5h0m1.4 1.2h0m4.6-1.7h0m2.4 1.9h0m4.3 0.2h0m2.3-1.9h0m0.2 1.7h0m2-1.8h0m1.6-2.8h0m2.7 0.1h0m0.8 1.4h0m1.6-0.3h0m-29.3 5.7h0m7.9 4h0m1.2-4.6h0m4.9 4.2h0m4.3 1.1h0m1.4-0.3h0m4.2-5.4h0m3.1 0.2h0m0 2.4h0m3.5 2h0m-33 5h0m0.3 1.9h0m0.6-4.9h0m1.1 3.4h0m1.7 1h0m6.4 0.5h0m8.3-4h0m4-0.5h0m1.5 0.8h0m1.2 3.3h0m1.8-3h0m0.3 0.6h0m0.2-1.2h0m2 3.5h0m0.8-2h0m0.3-2.6h0m0.4 4.5h0m-30.8 2.6h0m0.9 0.5h0m4.6 2.3h0m1.9 1.2h0m8.6-4.9h0m6.7 2.7h0m3.9 1.3h0m1.6 0.1h0m0.6 0.4h0m1-4.5h0m0 0h0m0.9 3.9h0m1.3-3.9h0m1 1.4h0m0.1-0.5h0m0.5 0h0m-35.2 7.4h0m0.9 1.1h0m3.5-1.7h0m0.4-0.8h0m0.4 3.9h0m3.5-2.1h0m1.1-1.9h0m1.2 3.3h0m6.6-2.6h0m0.7 2.2h0m3.5-1.2h0m0.7-2h0m1.5 0.4h0m5.2 2h0m1-2.9h0m1.6 4.6h0m2-2.8h0m-26.7 8.5h0m2.8-3.9h0m1.2-1.2h0m2.2 3.6h0m1.7 0.4h0m0.8-1.3h0m9.4 2.8h0m0.9-4h0m6.2 1.4h0m0.6 0h0m0.8 2.7h0m-33.3 5.1h0m2.1-1.6h0m1.8-2.2h0m0.5 0.8h0m0.1 1.4h0m8.7 0.9h0m0.9-1h0m1.5 1.7h0m1.8-3.7h0m3.1 4h0m4.6-2.7h0m2.2-1.5h0m1.4 3.3h0m0.8 0.6h0m2.3-3.9h0m0.4-0.8h0m-28.8 6.3h0m0.7 5.5h0m2.5-5.3h0m0.2 5.2h0m2.3-4.7h0m1.2 0h0m14.3 4h0m2-0.7h0m3.7-3.1h0m1.3 0.9h0m-28.8 8.7h0m0.3-1.9h0m1 1.5h0m2.8-2.6h0m8.1 3h0m1.8-0.5h0m1.5-2.1h0m4.8 2.5h0m0.8-1.8h0m1.5 0.8h0m6.2-0.3h0m-31.7 3.2h0m1.2 2.2h0m5 0.7h0m0 1.3h0m0.2-0.4h0m0.5-3.8h0m0.7 3.5h0m1.1 1.4h0m0.9-2.5h0m10.8-0.3h0m0.3-1.7h0m1.8 1.8h0m1.5 1.5h0m1.6-1.7h0m0.6-2.1h0m0.1 2.5h0m1.9 0h0m0.2 2h0m1.8-2.9h0m-29.2 4.9h0m0.5-0.5h0m0.3 5.1h0m6.9-0.1h0m9.3-3.6h0m1.2 1.9h0m5.9 0.9h0m0.3 1h0m1-2.8h0m0.6-1.9h0m0.1 3.3h0m1.8-3.2h0m0.1 4.8h0m0.1-1.8h0m0 0.7h0m1.9 1h0m-31.3 6.1h0m0.6-3.3h0m2.2 2h0m4.9-2.6h0m4.5 1.1h0m0.1-0.6h0m0.4 2.7h0m1.9-4.6h0m3.9 0.7h0m0.5 1.1h0m2.3 1.6h0m0.2 0.8h0m7.1-4.8h0m0.7 2.1h0m1.9 1.3h0m0.2-0.9h0m-30.5 4.2h0m5.4 1.8h0m1.8-1.3h0m5.2 0.1h0m0.5 0.9h0m4.6 1.5h0m3.3-1.5h0m1.8 3.2h0m1.8-0.7h0m2.4 1.1h0m1.7-2.5h0m-27 3.6h0m0.1 4.6h0m1.2-3.5h0m1.2 1.3h0m8.4 0.8h0m5.8 0.1h0m2.1 0.1h0m4.4-0.8h0m2.7-0.9h0m1.1 0.5h0m-28.4 4.7h0m0.5 2.5h0m5.7-2.9h0m4.6-0.9h0m4.8 0.6h0m2.3 2.5h0m0.7-3.3h0m2 5.2h0m1.2-5.1h0m1.9 2.1h0m4 0.8h0m0.2-1.1h0m0.5-1.6h0m-27.5 10.2h0m1.6-0.2h0m1-1.2h0m1.8-2.9h0m1.8 4.1h0m1.2-1.1h0m7.4 1.8h0m0.8-4.5h0m5.1 1.3h0m1.2 0.2h0m1.3 2.2h0m2.5 0h0m0.8-3.3h0m-28.1 8.9h0m3.4 0.6h0m0.2-4h0m0.3 2.8h0m4.1 0.5h0m3.5-2.6h0m1.8-0.8h0m0.2 3.8h0m0.7-4h0m0.1 4.7h0m8.5-1.9h0m2.9-2.4h0m1.6 0.3h0m-26.3 9.6h0m0.7-2.6h0m2.3 0.5h0m1.2 2.4h0m0.5-1.3h0m2.1 1.9h0m2.6-2.7h0m0.7-1.8h0m5.8 0.2h0m1.3 3.9h0m4.9-4.9h0m2.9 0.2h0m1 3.1h0m-25.8 5.5h0m3.3-1.4h0m1.3 2.3h0m1.5-3.3h0m3.2 3.1h0m5.8 0.8h0m0 0.5h0m0.3-2.8h0m1.7-0.4h0m1.5 0.5h0m0.2 1.6h0m0.4 0.3h0m2.3 1.3h0m0.2-3.6h0m1.5-2h0m0.1 2.8h0m0.4-1h0m0.5-1.4h0m-25 9h0m2.9 2.3h0m1.7-0.4h0m1.1-1h0m1.4-1.1h0m5.4 1.2h0m0.9-2.5h0m3.4 0.5h0m1.5 2.8h0m0.8-1h0m0.3 1h0m0.6-4.9h0m1.9 5h0m1.2-0.4h0m0.5-2.1h0m1-0.7h0m0.1 3.4h0m0.2-4.5h0m0.1 2.6h0m-25.7 2.4h0m1 3.1h0m0.1 0.4h0m4.5-0.4h0m1.2 2.3h0m3.8-1.3h0m2.1-1.2h0m3.9 2.2h0m5.9-2.2h0m0.6-1.5h0m0.5-0.9h0m0.7 4.9h0m-22.8 6h0m0.5-0.9h0m2.9-0.9h0m5.6 1.3h0m0.6 0.3h0m2.3-1.3h0m4.9-1.8h0m1.9 0.3h0m0.1 2.4h0m0.3-1.5h0m0.2 0.6h0m0.2-0.3h0m0.3 2.2h0m0.8-4h0m0.6 0.1h0m0.7 1.3h0m0.2-1.3h0m0.2 4.1h0m-23.4 5.4h0m0.8-2.1h0m0.6 1.7h0m0.6-0.6h0m2.8-3.4h0m1.1 0.1h0m0.1 0.9h0m1.7-0.5h0m0.6-1.4h0m0 4.3h0m0.5 0h0m0.2-0.4h0m0.1-3.6h0m1.5 3h0m0.1-3.4h0m0.4 5h0m3.4-0.7h0m1.8-1.7h0m1.2 2.4h0m0.1-3.8h0m4.1 2.7h0m1.2-0.1h0m0.5 0h0m0.6-3.7h0m-24.3 7.3h0m3-0.1h0m2.2 2.2h0m3.6-1.3h0m0.9 0.8h0m0.8-2.7h0m0.4 5.4h0m1.9 0.2h0m2.7-1.8h0m6 0.8h0m2.6-4.2h0m-23.7 6.4h0m0.6-0.8h0m0.9 0.1h0m0.7 0.3h0m0.5 0.5h0m1.2 3.7h0m0.5-2.5h0m3.1-0.8h0m0.8 3.4h0m0.2-1.6h0m0.4 2.4h0m0.1-2.9h0m1.8 3.1h0m3.2-3.6h0m1-2h0m0.2-0.1h0m1.2 2.5h0m0.1-2h0m3.2 4.9h0m0.2-3.3h0m1.5-1.4h0m-20 10.4h0m1.4-0.9h0m0.5 0.8h0m1-2.5h0m0.7 1h0m2.3 0.8h0m0 0h0m1.8-1.1h0m1.8 1.1h0m2-0.9h0m0.3 1.9h0m1.9 0.1h0m2.6-5.3h0m0 0.3h0m0.9 1.9h0m2.3 3.2h0m1.4-1.9h0m-21.1 7.8h0m0.6-2.9h0m0.2-2.5h0m1.2 5.1h0m0.7 0.2h0m1.1 0h0m0-0.4h0m0.7 0.6h0m1.3-3.7h0m2.4 3.3h0m2.1-2.9h0m0.9-1.7h0m1.6-0.1h0m0.1 4.6h0m0.3-0.6h0m0.8-0.3h0m2.4-3.4h0m0.5 3.2h0m0.4-0.2h0m2-1.4h0m0.5-1.8h0m0.4 2.6h0m0.2 0.4h0m-21.9 2.8h0m0.1 3.5h0m0.5-3.2h0m0.8 2.7h0m0.7-2.8h0m0.7 1.2h0m0.9 3.7h0m1.9-5.6h0m0 2.8h0m0.2-1.7h0m1.7 0.7h0m1.1 1.1h0m0.6 0.7h0m0.3-1.3h0m0.5-1h0m5.2-1.1h0m2.4 2.2h0m1.6 1.9h0m0.2 0.1h0m0-1.5h0m1.5 0h0m0.4 2h0m-18.9 3.3h0m0.8 0.9h0m2.3-0.3h0m4.3 0.1h0m0.4-0.5h0m0.8 2.6h0m0.3-1h0m2.7-2.6h0m4 4.2h0m1.6-0.4h0m0.8-4.5h0m0.1 4.5h0m0.1-2h0m-19.8 8.2h0m0.6-3.4h0m0.4-0.9h0m2.3 4h0m0.1-3h0m0.7-1.4h0m1 4.2h0m1.6-4.6h0m0.2 1h0m0.6 2.8h0m0.3 1.5h0m0.4-5.1h0m3 3.7h0m0.5-0.6h0m0 2.2h0m0.8-1.1h0m0.7-3.5h0m0.5 3.7h0m1.1-2.3h0m0 1.4h0m0.1 1.4h0m0.6-3.7h0m0.8 0.2h0m1.4 2.1h0m0.2-0.9h0m0.6-3h0m1.4 2.2h0m-19.8 7.5h0m1.2 1.1h0m1.6 0.7h0m0.4-2.2h0m3.7 2h0m1.6-4.1h0m0 2.9h0m0.6 0.5h0m0.1-2.1h0m0.1 1.4h0m0.2-3.1h0m0.1 3.3h0m0.5-2.6h0m0.2 2.3h0m1.8-0.1h0m3.1-1.4h0m0-2.2h0m0.7 3.2h0m0.3 1h0m0.5 0.9h0m1.9-4.4h0m-19.9 5.2h0m0.7 4h0m0.7 0h0m2.1-3.4h0m0 3.5h0m1.4 0.8h0m1.2 0.7h0m0.2-5.5h0m0.1 3.4h0m1.7-0.8h0m2.3 0.5h0m0.1 0.7h0m0.4 1.9h0m1.6-3.5h0m0 0.2h0m0.7 3h0m0.3 0.1h0m1.4-3.6h0m0.2-1.9h0m0.5 1.1h0m1.6 0.2h0m0.3 1h0m1-1.6h0m1.3-0.7h0m-19.4 8.9h0m0.2-3h0m1.1 0.8h0m1.9 2.9h0m0.8-1.3h0m0.5 2h0m2.5 0.7h0m1.1 0.4h0m4.5-2.6h0m0.3-2.5h0m1.6 4.1h0m0.2 1.2h0m0.4-5.7h0m1 4.5h0m-15.6 6.3h0m0.4-2.2h0m0.6-1.4h0m0 0.8h0m1.3-1.1h0m0.1 4.1h0m0.4-0.1h0m1.4-1.9h0m0.3 1h0m0.5-3.2h0m0.4-0.4h0m1 0.2h0m3.6-0.3h0m0 3.8h0m0.7-1h0m0.1-0.9h0m2 0.3h0m0.3 2.5h0m-13.9 6.7h0m1.4-0.4h0m0.7-0.2h0m1-0.6h0m2.4 0.9h0m1.2-3.1h0m0.2-0.2h0m1.2 3.4h0m0.4-3.1h0m0.9-1h0m0.5 1h0m3.3-1.6h0m1.5 1.5h0m0.2-2.5h0m0.8 2.3h0m0.5-0.5h0m0.2 0.6h0m-16.4 5.2h0m0.4 4.3h0m0.1-2.9h0m0.2-1.2h0m1.1-0.7h0m0.6-0.6h0m0.5 5.1h0m5.6-5.2h0m0.1 0.2h0m0.1 3.8h0m0.6 1.5h0m0.2 0h0m2.4-1h0m0.5-3.9h0m0.4 3.4h0m0.1-0.7h0m0.6 1.5h0m0.4-1.5h0m0.2-0.4h0m0.1 1.3h0m0.2-0.8h0m0.2-2.4h0m0.1 0.4h0m0.8-1.5h0m0.2 0h0m0 1.8h0m-15.6 8.2h0m0.4 1.1h0m0.4-3.8h0m0.2 4.4h0m0-0.7h0m0.1-2.8h0m0.4-1.1h0m0.2 0.3h0m0.6 2.5h0m0.8 1.8h0m0.5-0.2h0m0.1-5.1h0m1.4 0h0m0.1 0.1h0m0.3 3.7h0m0.8-0.4h0m0.1 1.1h0m2.1-4.7h0m1.6 4.7h0m1.3-1.3h0m1.4-3.4h0m1.1 1h0m0.7 1.2h0m-14.2 8.8h0m1.5-0.1h0m0.3-1.2h0m1.5 0.9h0m0-3.6h0m5.6 0.7h0m0.7 0.3h0m1.7-2.5h0m1.4 0.4h0m1.2-0.2h0m-14.5 6.9h0m0.7-1h0m0.5 1.5h0m2.9 0.6h0m4.7 1.8h0m1.9-1h0m1.1-0.8h0m0.7 1.4h0m1-2.5h0m-12.9 7.1h0m0.2-1.1h0m0.8-0.3h0m0.9 3.2h0m0.1 1.9h0m1.1-5.7h0m0 4.9h0m0.7-1.1h0m2.8 2h0m0.5-0.5h0m0.6 0.2h0m0.9-4.7h0m0.3-0.6h0m2.3 2.2h0m-10.4 4.8h0m2.9 4h0m0.1-4.4h0m0.9 0.7h0m0.5 2.1h0m0.8 2.1h0m1.3-5.2h0m1.5 4.8h0m-9.1 5.1h0m0.2-3.9h0m0.5 3.6h0m1.5-0.4h0m0.6-2.1h0m1.3 3.5h0m0.8-1.9h0m0.3 0.7h0m0.4-0.2h0m4.1-2.2h0m-8.7 6.3h0m1.7 3.5h0m1-0.8h0m0.1-2h0m0 3.1h0m0-5.2h0m0.7 4.5h0m0.1-1.9h0m0.3 1.5h0m0.5-2.5h0m-2.9 6.8h0m1 2.6h0m0.1-0.8h0m0.7-0.6h0m0.6-3.3h0m0.1 4.4h0m1.7-1.9h0m-6.7 3.4h0m0.3 0.9h0m0.7 2.8h0m2.9-0.1h0m1.9-3.1h0m0.5 0.1h0m-6.6 8.1h0m0.7-2.1h0m0.3 3.7h0m1.7 0.6h0m0.4-5.7h0m0.8 5.5h0m-3.3 1.9h0m1.4 0.1h0m-1.1 4.9h0" stroke="#77BD87" stroke-width="4.3" stroke-linecap="round" fill="none"/>
<path d="M262.7 1132.4 262.7 1128 262.7 1123.7 262.7 1119.3 296.6 1119.3 296.6 1123.7 296.6 1128 296.6 1132.4Z" fill="#070707"/>
<path d="M279.2 1122.6 279 1117.2 278.8 1111.9 278.7 1106.6 278.5 1101.3 278.4 1096 278.3 1090.7 278.2 1085.3 278.1 1080 278 1074.7 277.9 1069.4 277.8 1064.1 277.7 1058.8 277.7 1053.5 277.7 1048.1 277.7 1042.8 277.6 1037.5 277.6 1032.2 277.6 1026.9 277.5 1021.6 277.4 1016.2 277.3 1010.9 277.2 1005.6 277.1 1000.3 277 995 276.9 989.7 276.8 984.3 276.7 979 276.7 973.7 276.6 968.4 276.6 968.4 276.7 973.7 276.7 979 276.5 984.3 275.2 989.7 274 995 272.8 1000.3 272.3 1005.6 272 1010.9 271.7 1016.2 271.4 1021.6 271 1026.9 270.7 1032.2 270.4 1037.5 270.1 1042.8 269.7 1048.1 269.3 1053.5 268.8 1058.8 268.3 1064.1 267.9 1069.4 267.4 1074.7 266.9 1080 266.5 1085.3 266.2 1090.7 266 1096 265.7 1101.3 265.4 1106.6 265.1 1111.9 264.9 1117.2 264.6 1122.6Z" fill="#070707"/>
<path d="M282.4 1122.6 282.6 1117.2 282.8 1111.9 282.9 1106.6 283.1 1101.3 283.2 1096 283.3 1090.7 283.4 1085.3 283.5 1080 283.6 1074.7 283.7 1069.4 283.8 1064.1 283.9 1058.8 283.9 1053.5 283.9 1048.1 283.9 1042.8 284 1037.5 284 1032.2 284 1026.9 284.1 1021.6 284.2 1016.2 284.3 1010.9 284.4 1005.6 284.5 1000.3 284.6 995 284.7 989.7 284.8 984.3 284.9 979 284.9 973.7 285 968.4 285 968.4 284.9 973.7 284.9 979 284.8 984.3 285.3 989.7 286.6 995 287.9 1000.3 288.4 1005.6 288.8 1010.9 289.2 1016.2 289.5 1021.6 289.9 1026.9 290.3 1032.2 290.7 1037.5 291.1 1042.8 291.4 1048.1 291.8 1053.5 292.2 1058.8 292.6 1064.1 293 1069.4 293.5 1074.7 293.9 1080 294.2 1085.3 294.3 1090.7 294.4 1096 294.6 1101.3 294.7 1106.6 294.8 1111.9 295 1117.2 295.1 1122.6Z" fill="#070707"/>
<path d="M280.8 1155.4 280.6 1150.4 280.4 1145.5 280.2 1140.6 280 1135.7 279.9 1130.8 279.7 1125.8 279.5 1120.9 279.4 1116 282.2 1116 282.1 1120.9 281.9 1125.8 281.7 1130.8 281.6 1135.7 281.4 1140.6 281.2 1145.5 281 1150.4 280.8 1155.4Z" fill="#fff"/>
<path d="M265.3 841.9h0m1.7-0.5h0m0.4-2.1h0m1.2 3.6h0m1.8-1.2h0m0.1-1.5h0m1.2 2.4h0m0.3-1h0m0.7-3.8h0m1 2.2h0m0.3-0.4h0m0.1 1.7h0m14.2 0.4h0m2.7-1h0m0.5-2.5h0m2.3 4.3h0m-28.3 5.6h0m1.6-0.4h0m0.4-3.3h0m0.6-0.9h0m0.2 2.5h0m0-2h0m1.3 0.7h0m0.2 1.2h0m2.7 1.5h0m1.3 0.9h0m0.8-2.3h0m12.9-1.4h0m1.7 3.5h0m0.5-3.3h0m0.4-1.7h0m0.4 2.5h0m0.6 2.1h0m1.2-3h0m0.2 3.9h0m2.8-0.2h0m-29.4 2.9h0m0.2 3.2h0m0.9-3.7h0m0.8-0.1h0m0.6 0.4h0m1.3-1.2h0m0.7 4.2h0m0.6 0.8h0m1.4-4h0m0.6 2.2h0m0.3-1.5h0m0.5 1.6h0m1-2h0m0.1-1.9h0m12.2 1.8h0m1.3 1.4h0m0.1-1.9h0m4.1 1.4h0m0.3 0.8h0m-28.3 7.1h0m4.1-2.5h0m1.9 2.5h0m0.6-0.1h0m1.3-4.6h0m0.8 0.9h0m0.6 0.6h0m0.5 2.9h0m12.3 0.8h0m0-2.3h0m2.5 0.1h0m1.3 1.6h0m0.4-1.4h0m0.4 2.4h0m0.7-5.3h0m2.6 3.5h0m0.4-3.4h0m-31.3 10.2h0m2.6-1.6h0m0-2.1h0m3.5 4.3h0m0.5 0.6h0m0-5.4h0m0.2 4.9h0m1.9 0.3h0m2.5-3.7h0m11.7-1.7h0m0.7 3.1h0m0.9-1.5h0m0.6-0.2h0m0.4 1.7h0m0.2-3.1h0m1 5.5h0m0.8-1.6h0m1.4-1.1h0m0.7-0.8h0m-28.1 7.2h0m0.6-1.6h0m0.6 1.7h0m1.7-3.7h0m2.6 1.9h0m1.1 0.7h0m0.1 1h0m1.3 1.1h0m0.2-1.3h0m15.4 0.1h0m0.6 2.1h0m0.2-3.8h0m0.9 2.8h0m0.1 0.6h0m0.1-0.4h0m0.3-1.3h0m-23.2 3.7h0m0.3 3.8h0m3.6 1h0m0.1-4.8h0m0.7 2.5h0m1.4-3.6h0m1.2 1.1h0m17.8-0.8h0m0.2 1.1h0m0.1-0.7h0m3.1 0.2h0m0.6 3.2h0m-32.5 2.5h0m3.1 3.9h0m0.2-0.2h0m0.6-2.4h0m0.8 2.3h0m1.6-3.1h0m0.5 1h0m0.2 3.3h0m0.3-3.8h0m0.1 2.8h0m0 0h0m1-1h0m0-1.4h0m0.5-1.4h0m13.6 2.9h0m1-1.8h0m3.6-1.1h0m0 4.3h0m0.8-0.3h0m-26.8 5.2h0m0.1 0.1h0m1.2-3.8h0m0.9 2.2h0m0.5 0.4h0m1.5-1.9h0m1.5 3.1h0m0.1-1.1h0m0.8 0.5h0m1.6 0.4h0m0 1.1h0m1.2-4.7h0m12 2.1h0m0.6 3.1h0m0.1-5.4h0m0.1 5.8h0m1-1.4h0m0.4 1.2h0m1.7-3.3h0m1.2 2.2h0m4.1 0.6h0m-30.5 3h0m1.7 3.6h0m0.7-4h0m0.6 3.4h0m1.6-0.3h0m0.4-0.9h0m0.1-1.3h0m0 2.7h0m0.6-2.4h0m0.3-0.1h0m2.4 0.5h0m0.2-1.1h0m0.7 0.6h0m12.8 0.5h0m0.5 0.6h0m0.4-3.6h0m0.7 1.5h0m0.1 0.3h0m0.4 1h0m0.3-3h0m0 5.2h0m1.3-4.3h0m0.2 0.9h0m1.3 2.2h0m1.9-1.2h0m1.2-2.2h0m0.5 0.8h0m0.1 3.4h0m-32.3 1.4h0m0.4 1h0m0 1.4h0m1-0.9h0m1 0h0m1.1 2.4h0m0.9 1.5h0m0.1-2.6h0m1.8-0.3h0m0.4-0.3h0m0.7 2.7h0m0.2 0.1h0m0.1-2.7h0m1.5 0.2h0m1.1 2h0m0.2 0.6h0m0.2 0.2h0m12.2-3.5h0m0.8 1.4h0m0.2-0.8h0m0.8 2.1h0m0.8 0.3h0m1.8 0.1h0m0.2-4.7h0m0.7 4.5h0m0.6-4.1h0m1.1 4.6h0m1.5-2.9h0m1.5-2h0m-32.1 9.5h0m2.3-2.2h0m0.2-0.4h0m3.1 3h0m0.1-0.5h0m0.2-1.2h0m1 1.4h0m0.3 0.3h0m0.5-3.3h0m0.5 2.2h0m0.3 1.2h0m0.4-1.2h0m0 2.1h0m0.9-0.9h0m13 1h0m0.2-1.8h0m0.1-2.6h0m1 0.3h0m0.4 4.2h0m0.5-3.7h0m0.1-1.8h0m0.3 4.6h0m0.4 0.3h0m0.3-0.6h0m0.3-2.6h0m1.7 0.3h0m1 0.1h0m1 2.4h0m-31.7 2.1h0m1.4 0.5h0m0.4 4.2h0m3.5 0.1h0m0.2-1h0m2.1-2.4h0m0.6 3.6h0m0.5-5.7h0m0.4 3.9h0m0.4 1.1h0m1.2-4.5h0m0.3 2h0m0.5 2.9h0m12.9-5.5h0m2.1 1.5h0m0.1 3.7h0m0.2-4h0m0.9 2h0m0.2-1.3h0m1.5 3.8h0m0.3-3.3h0m0 0.5h0m1.2 2.6h0m0-1.9h0m-30.1 6.1h0m0.9-2.8h0m1.6 3.6h0m0.5-4.1h0m0.3 4.9h0m0.6-2h0m0.4 0.3h0m0 1.3h0m0.1-4.4h0m0.4 5.4h0m0.6-2.8h0m0.4-2.3h0m0.2 4.1h0m1.2 0.7h0m0.8-0.6h0m0.2 0.8h0m0.6-1.8h0m1.4-3.7h0m0 5.1h0m0.3-1.5h0m12.3-2.2h0m0-0.2h0m2.1-1.3h0m0.6 0.8h0m0.2 3.9h0m0.4-1.1h0m1 0.4h0m1 1h0m2.5-4.8h0m-30.9 8.5h0m0.8 1.5h0m1.2-3.5h0m0.4 1.2h0m3.9 0.1h0m1.4 0h0m0.5 2.7h0m1 0.3h0m1.1-2.2h0m0.1 1.8h0m0.3-2.4h0m0.1 2.1h0m11.9-2.8h0m1.3 0.7h0m0.1 0.3h0m0.2-0.4h0m0.2-1.6h0m0 2.8h0m1.1-1.3h0m1.3 3.7h0m0.6-3.7h0m1.1 2.7h0m2.8-3.1h0m-31.9 4.9h0m1.5 5h0m2.2-2.5h0m1.7 0.9h0m0.6-2.3h0m0.4 3.3h0m0.1-3.7h0m0.4 4.1h0m1.5-2.6h0m0.1 2.3h0m0.1-5h0m0.1 3.1h0m0.1-0.8h0m0.4 3.4h0m0.7-2.3h0m0-2.3h0m13.3-0.3h0m0.2 1.6h0m0.1 1.7h0m0.3 0h0m0.2-0.1h0m2 1.1h0m0-0.1h0m0.1-1.2h0m2.6-1.7h0m2.8-0.5h0m-28.9 8h0m2.3 0.7h0m1.7-2.5h0m0.2 3h0m0.4 0.7h0m0.6-1.5h0m0-2.2h0m0.1 2.3h0m0.1-1.5h0m1.9 1.1h0m13.3-3.9h0m0.5 5.5h0m0.1-4.5h0m0.6 0.3h0m0.5 2.5h0m1.9 1.6h0m0.4-2.8h0m0.8-2.4h0m0.3 2.4h0m0.1-0.6h0m-26.4 4.3h0m1.9-0.3h0m0.2 3.3h0m0.5 1.9h0m3.9-0.9h0m0.9 1.1h0m2-0.3h0m0.3 0.3h0m11.5-2.7h0m0.1-0.5h0m0 3h0m0.3 0.2h0m0.9-1h0m0.2-1.6h0m0.1 2.1h0m0.1-4.2h0m0.5-0.5h0m0.3 0.9h0m0.2 2.1h0m0.7 2.7h0m0-5h0m0.3 0.2h0m0-0.3h0m0.2 2h0m1.2 0.2h0m0.7-0.4h0m3.6-0.8h0m-29.5 7.5h0m0.4-1.4h0m1.1-1.7h0m0.2 1.2h0m0.2-0.6h0m0.4 3.9h0m0.8 0.5h0m0.7-5.2h0m0.6 4.5h0m0-2.2h0m0.7-0.6h0m0.9 3.9h0m0.4-0.3h0m0.2-4.7h0m1.6 1.6h0m0.1 2.1h0m0.5-1.9h0m10.7 0.4h0m0.2 3h0m0.2-2.8h0m1.7 1.3h0m0.1 0.6h0m0-4.4h0m0.2 4.8h0m0.6-1.7h0m1.7-1.8h0m0.1 1.5h0m0.1 2.4h0m0.8-2.9h0m0.1-1h0m0.7 2.7h0m1-0.7h0m0-0.5h0m0.3-2.8h0m0.3 1.5h0m2.2 1.1h0m-32.8 7.7h0m1.3-2.4h0m0.8-1h0m1.2 3.1h0m0.4-0.3h0m0.5-0.8h0m0.3 0.9h0m0-3.2h0m2.7 3.8h0m0-4.5h0m0.2 3.4h0m0.1-2h0m0.4 3.8h0m0.8 0.1h0m0.4-4.7h0m0.3 2.5h0m0.6-2.8h0m0.2 2.3h0m0.5-0.7h0m0.3 1.5h0m1 0.7h0m10.4 0h0m1-2.2h0m0.6 3.6h0m0.2-2.6h0m0.9-1.7h0m1.8 2.5h0m0.6-2.2h0m0.3 1h0m0.3-2.5h0m0.4 0.8h0m0.2 0.8h0m1.3 0.2h0m0.5 3.4h0m0.5-0.8h0m-31.1 2h0m2.3 3.6h0m0-2.9h0m0.1-1h0m0.4 0.1h0m1.5 0.9h0m1.8-0.1h0m0.4 0.6h0m0 2.7h0m0.3-3.9h0m0.4 2h0m0.4 0.8h0m0.1-1.3h0m0 3.4h0m0.3-5.1h0m0.5 5.2h0m0.4-1.9h0m0.3 0.9h0m0.1-2.1h0m0.2 1.5h0m0.4-0.3h0m0.4-1h0m12.2 0.7h0m1.8-2.3h0m0.4 1.1h0m0.8 3.2h0m0.7-3.5h0m0.3 0.4h0m0.5 2.4h0m0.5-0.3h0m0.6-3.1h0m1.2 4.4h0m1.6-2.3h0m-29.7 5.4h0m0.6-0.5h0m0.1 1.7h0m1.3-1.5h0m3.4 2.6h0m0.7-4.2h0m0.1 4.3h0m0.3-0.2h0m0.4-0.6h0m0.3-2.2h0m0.8 1.5h0m0.6-1.8h0m0.5 1.8h0m0.5 0.4h0m0.2-3.3h0m0 1.7h0m0-1h0m0.2 3.1h0m0-4.7h0m0.1 3.2h0m0.7-0.9h0m10.6 2.8h0m0.1-3.3h0m0.3 2.9h0m1.6 0.1h0m0-4h0m0.4 3.1h0m0.1 1.2h0m0.1-0.3h0m0.5 0.3h0m0.3-4h0m0.8 1.6h0m0.7 1.3h0m2.9-1.1h0m0.6 0h0m0.4 0.1h0m0.8-0.6h0m0.6 2.7h0m0.1-1.4h0m0.1 0.9h0m0.5-4.2h0m0.2 5.1h0m-33.8 1.8h0m0.3 0.8h0m0 2.4h0m0.2 0.6h0m2.6-0.3h0m0.4 0h0m0.6-3.3h0m0.3 2.2h0m1.1 0.4h0m0.1-4h0m0.7 2.5h0m0.6 1.2h0m0-2h0m0.2 2.1h0m0.4 1.1h0m0 0.8h0m0.7-4.4h0m0.2 4.4h0m0.6-5.8h0m0.1 3.1h0m0.8 0.4h0m0.6-2.9h0m0.8-0.4h0m0 5.4h0m0.8-0.4h0m0-2.7h0m0.1 2.1h0m10.5-1.9h0m0.8-0.8h0m0.1 2.1h0m0.8-1.1h0m0.2-0.6h0m0.2 2.6h0m0.1-4.3h0m0.3 0.7h0m0.1-0.2h0m1.1 1.2h0m0.2-1.9h0m0.1 1.4h0m0.8 0.2h0m0.4 1.4h0m0.1 1.5h0m0.1-2h0m0.4 2.3h0m1.3-3h0m0.1 2.2h0m0.9-2.6h0m0.6-0.3h0m1.4 2.6h0m1-0.5h0m-32.8 7.9h0m0-3.9h0m0.6-1.7h0m2.6 3.6h0m0.6-2.2h0m0.9 1h0m1.4-1h0m1.4 3h0m0.2-0.4h0m0.4-3.4h0m0.3 0.2h0m0.1 0.4h0m0.2 3.8h0m0.4-1.9h0m0 2.7h0m0.1-4.8h0m0.2 0h0m0.4 0.7h0m0.1 2.8h0m0.8-0.9h0m0.3-2h0m0.4 0.9h0m0.1-0.3h0m0.1 2.6h0m10-1.6h0m0.1 0h0m0.1-2.7h0m0.4 5h0m0-4.1h0m0.3 0.8h0m0.2-1.7h0m0.8 1.9h0m0-1.8h0m0.3 4.9h0m0.1 0h0m0.1-0.7h0m0.3-1.5h0m0.2-0.3h0m0-0.3h0m0.7 2.2h0m0.2-1.3h0m0.1-0.5h0m0.2-0.5h0m0.1 3h0m0.4-5.4h0m0.3 0.2h0m0.2 3.9h0m0.3-1.9h0m0.5 0.6h0m1.4-1.4h0m0 0.4h0m1.3-0.4h0m0.1 1.6h0m2 2.4h0m-32.7 3.5h0m0 1.2h0m3.1-1.7h0m0.5 1.8h0m0.9 0.6h0m0.6-3.1h0m0.6-0.7h0m0.4 3.7h0m0.4 0.8h0m0.7-0.2h0m0.8-3.8h0m1.4 1.9h0m0.3 1.3h0m0.1-1.7h0m0.1 0.6h0m0.8-0.7h0m0.3 1.5h0m0.3-1.1h0m0.1 0.3h0m10.7-1.1h0m0.2 0.4h0m0.6 1.5h0m0.4-3.4h0m0 3.6h0m0.7 1.1h0m0.6-5.2h0m0.4 2.9h0m0.1-2.7h0m0.3 3.2h0m0.8-0.2h0m0.5-3h0m0.3 4h0m1.2-2.7h0m0.3 3.7h0m1.3-1.6h0m2.1 0.8h0m0.8-4.9h0m0.2 5.2h0m-32.7 2.1h0m0.5 3.5h0m1.1-3.1h0m0.4 0.4h0m0.3 0.1h0m0.7 1.2h0m0.7-2.3h0m1 2.7h0m0.4 0.6h0m0.2-3.6h0m1.5 2h0m0 0.1h0m0.9-0.7h0m0.2 3.3h0m0.9-1.1h0m0.2 0h0m0.7 1h0m0.5-5h0m0.3 0.4h0m0.5 3.9h0m0.5-2.6h0m0.1 1.9h0m11.3 0.2h0m0.1-1h0m0.2-0.3h0m0.3 1.7h0m0.3-1.5h0m1.4 2h0m0-5.2h0m0.1 1h0m0.6 3.6h0m0.6-3.2h0m2.7 0.6h0m0.1 0.5h0m0.4-1.3h0m0.9 2.1h0m0.6-1.2h0m0.2 0.4h0m0.4-1.3h0m-32.6 8.5h0m0.8-2.4h0m2.2-0.4h0m0.1-0.4h0m0.3 0.5h0m0.3 2h0m0.1 0.8h0m0.2-2.1h0m0.8-1.4h0m1 4.1h0m0.2 1.3h0m0.2-3h0m0.1-2.1h0m0.5 0.5h0m0.9 0.8h0m0.3-1.2h0m0.6 0.8h0m0.1 3.2h0m0.3-4.8h0m1.4 5.4h0m0-5.2h0m0.2 2h0m0.2-1.3h0m0.1 2.5h0m1.3-0.9h0m0.1 1.3h0m10-2.1h0m0.1 1h0m0.5 3h0m0.7-0.9h0m0.3-0.3h0m0.6 1h0m0.1-4.4h0m0.7 3.9h0m0.1-4.3h0m0.3 2.5h0m0.1-0.2h0m0-2.9h0m0.4 1.3h0m0.5-0.3h0m0.3 3.5h0m0.6-3.5h0m1.4 1.4h0m0.1 0.2h0m1.8-1.2h0m1.1 3.9h0m0.8-0.9h0m0.8-2.5h0m-33.7 8.6h0m0.3-4.2h0m0.7 4.2h0m3.9-1h0m1.6 0.3h0m0.2 0.7h0m0.1-0.7h0m1.2 1.5h0m0.3-5.2h0m0 5.6h0m0-4.8h0m0.1 0.5h0m0.6-0.2h0m0 4h0m0.9-2.2h0m0.5 2.4h0m0.1-4.8h0m1.1 5h0m1.2-0.6h0m0.2-1.2h0m9.1 1.3h0m0.2-3.3h0m0.1 3.1h0m0-4h0m0.2 3.9h0m0.4-3.5h0m0 2.9h0m0.1-1h0m0.3-1.1h0m0.1 2.1h0m0-4.1h0m0.5 2.4h0m0.5 3.1h0m0.5-2.7h0m0 0.7h0m0.2-2.3h0m1.1-1.2h0m0.3 1.1h0m0.1 2.4h0m0.3 0.4h0m0.5 1.3h0m0-3h0m1.8 1.3h0m0-1h0m1.2 2.4h0m0.1-2.5h0m0.2 2.6h0m0.3 0.1h0m1-4.9h0m0.5 4.4h0m-27.9 7.1h0m0.2-1.2h0m0-0.1h0m0.1 1.1h0m0.2-3.6h0m1.3 3.4h0m0-0.1h0m0.9-2.6h0m0.2 2h0m0.2-3.5h0m0.5 2.6h0m0.1-1.4h0m0.8-0.9h0m0.7 0.4h0m0.4 3.2h0m0.6-4.5h0m0.2 1.1h0m0 3.6h0m0.2-2.9h0m0.4 0.5h0m0.3-1.5h0m0-0.7h0m0.2 4.9h0m0.1 0h0m0.1-5.4h0m0.3 3.4h0m0.2 0.8h0m0-2h0m0.1 3.2h0m9.2-0.4h0m0.2-4.3h0m0.1 3.8h0m0.9-1.1h0m0.1-1.5h0m0.1-1.4h0m0.5 3.1h0m0.1-1.9h0m0-0.9h0m0.6 1.1h0m0.5 3.1h0m0-0.9h0m0.2 0.6h0m0.2-1.2h0m0-2.1h0m0.9 1.9h0m0.3-3.2h0m0.2 4.2h0m0.1-0.5h0m0.1-2.3h0m0.3 0.5h0m0.6-0.7h0m0.8 1.3h0m0.3 0.4h0m1.5-2.9h0m0.6 3.4h0m0.6-2.6h0m0.6 1.2h0m0.7 1.9h0m0.3-3.2h0m-33.6 6.7h0m0.7-0.1h0m1.2 0.4h0m1.7-1.1h0m1.8 3h0m0.6-3.4h0m0.7 1.3h0m0.9 2.4h0m0.2-3.5h0m0.3-0.4h0m0.5 1.5h0m0.5 2.8h0m0-3.5h0m0 0.9h0m0.9 1.2h0m1.1 1.9h0m0-4.7h0m0.4 1.2h0m0.3 2.2h0m0.3-3.3h0m0.2 0.3h0m0 3.4h0m0.3-1.8h0m0.1-0.7h0m0.3 2.6h0m8.9 0h0m0.4 1.6h0m0.1-4.4h0m0.1 4.1h0m0-4.4h0m0.1 1.9h0m0 2.2h0m0.7-3h0m0 1.7h0m0.2 1.6h0m0.3-4.5h0m0.4 3.8h0m0.2 0.1h0m0.1-4.1h0m0.2 4.6h0m0.2-3.1h0m0.1 1.6h0m0.2 0.1h0m0.6 0h0m0 1.3h0m0.1-2.1h0m0.2-2.6h0m0 3.5h0m0-2.6h0m1.3-0.2h0m0.2 4.5h0m1.5-5.9h0m0.1 2h0m0.8 0.2h0m0.2 0.4h0m2 1h0m0.2 1.8h0m0-3.1h0m1.3 1.1h0m0-2.2h0m-33.5 10.3h0m0.7-3.5h0m2.4 0h0m0.2 0h0m0.1 3.6h0m0.7-3.9h0m0.2-1.5h0m0.5 3.2h0m0.2-1.8h0m0.2 3.1h0m0.7-2.1h0m0.3-2.4h0m0.9 4.3h0m0.1-4.4h0m0.5 4.1h0m0.2 1.5h0m1.2-4.6h0m1.9 3.7h0m0.3-3.3h0m0.2 2.6h0m0.3-3.1h0m0.1 0.5h0m0.2 0.5h0m0.1 1.2h0m0 0.3h0m0-1.4h0m0.2-1.3h0m0.2 2.3h0m0-2.5h0m0 1.4h0m9.1-0.3h0m0 0.9h0m0.3 1.8h0m0.2-1.3h0m0.9-0.7h0m0.2 3h0m0-3h0m0.1 3.1h0m0.7-4.6h0m0.5-0.4h0m1.1 0.6h0m0.8 1.8h0m0.2-1.3h0m0.3 1.8h0m0.1-0.9h0m0 0.8h0m0.1 0.8h0m0.6-2.2h0m0-0.3h0m0.1 0.7h0m0.1-0.5h0m0.1 1.1h0m0.1 1.2h0m0.3 0.3h0m0-0.7h0m0-1.2h0m0.3-0.8h0m0.1 3.2h0m0.5 0.4h0m0.1-2.9h0m0.1-2h0m0.4 0.8h0m2 2.6h0m0.3 1.6h0m0.3-1.2h0m0.2 1.6h0m0.6-1.9h0m0.3 1.6h0m-32.6 1.7h0m1.6 0.3h0m0-1.5h0m0.5 0.7h0m0.3-0.6h0m0.1 1.2h0m0.3 0.6h0m0.7 3.6h0m0.4-3.1h0m1.8-0.1h0m1.3 3h0m0.5-3.3h0m0.1-0.3h0m0.2 2.4h0m0.8-0.9h0m0 1.3h0m0.1-1.5h0m0.2 2.4h0m0.3-5.2h0m0.1 3.8h0m0-3.3h0m0.7-0.1h0m0.3-0.4h0m0.2 2.6h0m0-1.1h0m0.2-1.2h0m0.5 0.7h0m0 2h0m0.6 0.5h0m0.2-2.7h0m0 2.2h0m0.1 2.6h0m8.4-1.1h0m0.2-2.2h0m0.2 2.9h0m0.6-4.2h0m0.5 1.6h0m0-0.6h0m0.3 3.3h0m0.1-0.5h0m0.7 0.9h0m0.5-5h0m0.1 0.1h0m0.1 4.8h0m0.2-1h0m0.2-2.4h0m0.3-0.8h0m0.1-0.3h0m0.2 0.6h0m0.3 1.3h0m0.2-2.5h0m0.3 0.6h0m0.4-0.3h0m0.3 2.4h0m0.5-0.5h0m0.8-0.9h0m0 2.9h0m0.2-2.7h0m0.3-0.1h0m0.5-0.3h0m1.5 1.2h0m0.5 1.1h0m0.5 1.8h0m0.4-0.6h0m0.8-1.7h0m0.2 1.9h0m0.1-0.5h0m-31.8 5.8h0m0.1-3.1h0m0.9 3.5h0m1.7-1h0m0.4-2.5h0m0.3 0.4h0m0 3.6h0m0.3-3h0m0.2-1.9h0m0.2 4.7h0m0.4-4h0m0.4 3.5h0m0-4.7h0m0.2 0.6h0m0 1.6h0m0.3 3.3h0m1-1.4h0m0.4 0.9h0m0-4.9h0m0.4 5.2h0m0.1-1.7h0m0.1 0.7h0m0.1-3.7h0m0.1 3.7h0m0.4-4.2h0m0.1 3.7h0m0.2-3.1h0m0.1 0.9h0m0.1 1.6h0m0.2-2h0m0.5-0.7h0m0.1 2.8h0m0.1-3.4h0m0 3h0m1 0.4h0m0.2 1.2h0m0.1-2.2h0m0.2 3.1h0m0.1-0.5h0m8.4-2h0m0.1-0.4h0m0-2.6h0m0.5 3.5h0m0.3-1.2h0m0.3-1.3h0m0.2-0.8h0m0 1.8h0m0.3 0.3h0m0.5 0.5h0m0.2 0.3h0m0 0.2h0m0.6-2.1h0m0 3.6h0m0.3 0.4h0m0.4-2.1h0m0.1-2.1h0m0.1 3.1h0m0.4 0h0m0.1-3.3h0m0.1 2.8h0m0-1.4h0m0.1 2.8h0m0.3-3.8h0m0.5 3.4h0m0.2-3.3h0m0.4 0.6h0m0.5 3.7h0m0.4-4.1h0m0.6-0.7h0m0.6 4.5h0m0.8-0.1h0m0.6-0.8h0m0.8 0.3h0m0 0.1h0m1.4 0.4h0m-32.5 1h0m0.4 0.5h0m0.7 2.3h0m0.7 0.5h0m0-0.2h0m0.8-0.7h0m1.4 0.3h0m0.3-0.1h0m0.1-1.1h0m0.4 0.9h0m0.4 0.1h0m0.3 2.1h0m0-0.4h0m0.3 0h0m0 0.1h0m0.5-4.7h0m0.4 0.8h0m0-0.4h0m0.1 3.1h0m0.1 2h0m0.1-2.9h0m0.1 0.1h0m0.3 2h0m0.1-4.3h0m0.1 3.5h0m0.4 1.2h0m0.1-1.2h0m0.3-3.5h0m0.1 3.7h0m0.3-3.9h0m0.1 4h0m0.5-2.9h0m0.1 3.3h0m0.1-2.9h0m0.3 0.3h0m0.2 2.7h0m0.8-2.5h0m0.1 1.8h0m0.3 0h0m0 0.1h0m0.1 0.9h0m0.1-0.1h0m0.5-2.6h0m0.3-1.1h0m0.2-0.6h0m8.5 4.1h0m0-2.1h0m0.4 1.8h0m0-4h0m0 4.1h0m0.2-3.6h0m0.2 4.1h0m0.6-0.4h0m0.2-4.2h0m0.6 2.4h0m0.3-0.9h0m0.7 2.3h0m0.9-4.1h0m0.3 5.4h0m0.2-0.8h0m0.3-0.7h0m0.3-1.7h0m0.2 1.4h0m0.2-2.5h0m0.4 1.3h0m0-0.3h0m0.6-0.5h0m0.1 2.7h0m0.1 1.1h0m0.4-3.8h0m0.3-0.6h0m0 0.4h0m0.1 3.3h0m0.4-2.3h0m0.9 1.2h0m1.3 1.4h0m0.3-3h0m0.1-0.5h0m0.5 4h0m-32.8 1.2h0m0.4 0.8h0m0 3.8h0m0-3.2h0m0.6 3.3h0m1.2-3.8h0m0.6-1.2h0m0 4.4h0m0.1-2.3h0m1.3-0.1h0m0.3-2h0m0-0.5h0m0.2 1.8h0m0.3 0.9h0m0.3 1.4h0m0.1-2.6h0m0.2 2.6h0m0-0.8h0m0.2-2h0m0-0.9h0m0 0h0m0 4.1h0m0.5-1h0m0.3-2.1h0m0.7 0.2h0m0.1-0.4h0m0.2-1.1h0m0.1 3h0m0.3-2.9h0m0.6 5.5h0m0.3-3.9h0m0.5 3.7h0m0.6-2.8h0m0.2-1h0m0.4 2.4h0m0.2-1.7h0m0.4 1.1h0m0.2-2.3h0m0.2-0.1h0m0.1 1.8h0m0.1-1.4h0m0.1 1.2h0m0 2.4h0m0.3-2.5h0m0-1.8h0m0.1 1.7h0m0.1-2.3h0m0 5.7h0m0.3-0.7h0m0.4-5.2h0m8.5 5.1h0m0-2.9h0m0.5-0.1h0m0.2 0.6h0m0.2 2.2h0m0.4-3.5h0m0.8 0.2h0m0 1.9h0m0.1-3.4h0m0.4 2.4h0m0.2-0.5h0m0.9 1.4h0m0.2-1.5h0m0.4-1h0m0.1-0.7h0m0.6 5.5h0m0.1-2.9h0m0.3-1.4h0m0 2.2h0m0.2-1.9h0m0.3 1.4h0m0.3-1h0m0.4-1.5h0m0 1.9h0m0.2-1.5h0m0.8 1.4h0m0.3-1.3h0m0.5-0.6h0m0.1 0.8h0m0.3 4.4h0m0.6-3.4h0m0 1.1h0m1.7-1.9h0m0.6 3.2h0m0-1.8h0m0.2 0.4h0m0.2-2.5h0m-32.9 9.7h0m0.6-4h0m1.7 0.8h0m1.4 3.6h0m0-2h0m0.6 0.7h0m0.1-0.5h0m0 1.3h0m0-0.9h0m0.1 2.3h0m0.3-4.6h0m0.7 1h0m0.3 1.3h0m0.3 1.2h0m0.1 0.9h0m0.3-2.5h0m1 0.8h0m0.1 1.8h0m0-0.6h0m0.7-1.9h0m0.3 1.9h0m0-2.7h0m0.5 2.6h0m0.2-3.4h0m0.4 2h0m0.2-2.5h0m0.1 3.8h0m0-4.7h0m0 3.6h0m0.2 1.9h0m0.4-1.3h0m0-1h0m0.7 0.6h0m0-3.2h0m0.1 2.8h0m0 1h0m0.3-0.9h0m0.2-1.6h0m8.8-0.4h0m0.7-0.5h0m0.1-0.2h0m0 2.3h0m0.4 1.6h0m0-2.6h0m0.2-0.2h0m0-1.4h0m0.1 4.3h0m0.2-2.5h0m0.1-0.5h0m0.5 3.2h0m0-0.9h0m0.5-3.9h0m0.3 1.4h0m0.1 2.4h0m0.4-1h0m0.1 1.5h0m0-3.9h0m1.1 2.1h0m1.4-0.5h0m0.5-0.9h0m0-0.9h0m0.6 4.2h0m0.1-1.5h0m0.3-2.1h0m0 4.6h0m0.1-1.5h0m0.6 1.3h0m0.1-1.5h0m0.9 0.4h0m0.2-2.4h0m0.1-1.1h0m0.5-0.4h0m0.9 0.6h0m0.4 2.7h0m0.3 1.5h0m0.1-5.1h0m-33 7.6h0m0.2-0.4h0m0.9 1.4h0m0.4-0.7h0m0.1-0.2h0m0.6-1h0m0.1 4.1h0m1.6-1.8h0m0.2-1.5h0m0.3 3.2h0m0.4-2.4h0m0.4-1.1h0m0.1 2.5h0m0.2-3.1h0m0.2 0.6h0m0.2 1.8h0m0.5-2.9h0m0.2 4.7h0m0.5-4.1h0m0.1 4h0m0.2 0.7h0m0.5 0h0m0.5-0.2h0m0-3.6h0m0.1 3.3h0m0-1h0m0.1 1.7h0m0-1.2h0m0.2-1.1h0m0.4-3.4h0m0.1 2h0m0.1 0.4h0m0.1 0.2h0m0.2 0.4h0m0.5-1h0m0 3.1h0m0.1 0h0m0.3 0.1h0m0.9-1.2h0m0.4-1.5h0m0.2-0.7h0m0.3 0.9h0m0.8 1.7h0m7.9-2.6h0m0.4-1.3h0m0 5.1h0m0.1-3.7h0m0.1 3.1h0m0.3 0.2h0m0-0.6h0m0.2-3.5h0m0.2 1.3h0m0.4-2h0m0.6 1.9h0m0.1 2.1h0m0.4 0.6h0m0.1-2.7h0m0-1.4h0m0 3.3h0m0.3-2.9h0m1.2 2.8h0m0.3-3h0m0.1 3.5h0m0.1-4.3h0m0.1 2.5h0m0.5-1.8h0m0.7 4.1h0m0.6-1.2h0m0.8-3.6h0m0.7 2.2h0m0-1h0m0.2 3.2h0m0.3-4.7h0m0.6 2.1h0m1.3 1.1h0m0.7 0.6h0m0.5-1.3h0m-33 8.3h0m0.9-2h0m0.9 1.9h0m0.1-4.1h0m0.1-0.5h0m0.5 3.4h0m0.4-2.4h0m1 3.1h0m0.5 0.4h0m0-4.4h0m0.1 4.2h0m0.7-3.3h0m0-0.9h0m0.3 4.1h0m0.1-3.3h0m0.3-0.6h0m0.1 4.4h0m0-2.6h0m0-2h0m0.6 4.8h0m0.5 0.4h0m0.2-0.8h0m0-1.8h0m0.6 1.5h0m0.3-1.9h0m0.7-0.4h0m0.3-1.9h0m0.1 4.6h0m0.2-1.3h0m0.3 2h0m0.1-0.3h0m0.7-3.7h0m0.3 2h0m0.1 1.7h0m0.2 0.4h0m0.3-3.1h0m0.1 1h0m0.1-2.6h0m0.2 2.3h0m0.1-0.4h0m0.4 0.8h0m0.2-3.4h0m0.1 2.3h0m0.1 1.5h0m8.2 0.2h0m0.5-2.5h0m0 1.9h0m0.1-3.5h0m0 1.9h0m0.8 3.5h0m0.1-0.8h0m0.1-0.6h0m0.2 0.9h0m0.6-4.9h0m0.2 4.7h0m0-0.1h0m0.3-2h0m0.2-2h0m0 4.3h0m0.3-4.9h0m0.1 5.3h0m0-4.1h0m0.6 1.6h0m0.4 1.7h0m0.1-3.3h0m0.2 2.5h0m0.1 0.5h0m0 1.4h0m1.2-1.8h0m0.1 0.1h0m0.8 0.8h0m0.2 0h0m0.3-2.9h0m0.8 0.8h0m0.6-1.6h0m0.4 1.9h0m0.2 2.6h0m0.3-0.9h0m1.3 0.3h0m0.4 0.5h0m0.1-2.6h0m0.3-3h0m0 2.9h0m0 0.9h0m0.1-1.4h0m0.1 0.1h0m0.1-1.7h0m-33.6 8.5h0m0.1-1.3h0m0-0.4h0m0.2-0.9h0m0.7 2.4h0m0.6-2.9h0m0.1 3.2h0m0.1 1h0m0.1-0.2h0m0.4-2.6h0m1 4.1h0m0.1-5h0m1 1.5h0m0-0.2h0m1.1 1.1h0m0.4-2.3h0m0.2 3.8h0m0.7-1.6h0m0.4 2h0m0.3-0.4h0m0.3 0.9h0m0.3-4.7h0m0.1-0.3h0m0.4-0.4h0m0.2 0.8h0m0.2 5h0m0.3-2h0m0.1-0.8h0m0.4-3h0m0 4.2h0m0.6-3.8h0m0.1 3.2h0m0.2 0h0m0.9-3.2h0m0.5 3.7h0m0.7-2.9h0m0 1.2h0m8.4 3h0m0.2-4.6h0m0 1.9h0m0.3 2.5h0m0.1 0.4h0m0.1-2.6h0m0.2-1.7h0m0.3-0.6h0m0.2 3.9h0m0 0.3h0m0.5-0.6h0m0.3-0.3h0m0.1-0.5h0m0.2-0.7h0m0.1 2.5h0m0-3.1h0m0.9-1.4h0m0.2 0h0m0.3 2h0m0.2 1.8h0m0.6-2.2h0m0.3 1.4h0m0-2.1h0m0.4 0.3h0m0-0.3h0m0.9-1.2h0m0.5 2.2h0m0.6 2.4h0m0.1-2.3h0m2.1 2.7h0m0.5-4.5h0m0.1-0.5h0m0.2 1.6h0m0 3.1h0m0.1-0.6h0m0.3-0.3h0m0.5-2.3h0m0 2.3h0m0.3-2.9h0m0.6 3.2h0m0-3.7h0m-33.4 6.3h0m0.2-0.2h0m0 2.7h0m0-0.2h0m0.4-3.3h0m1.9 5.1h0m0.1-3.3h0m1 1.4h0m0.1-2h0m0.7 2.3h0m0.4 0.8h0m0.3-2.5h0m0.3-0.1h0m0.2 2.9h0m0.1-4.7h0m0.2 2.2h0m0.8-0.2h0m0.9-0.8h0m0.1 3.2h0m0-0.3h0m0.9 0.7h0m0.5-2.4h0m0-2.1h0m0.4 5.2h0m0 0.2h0m0.5-4.3h0m0.1 3.5h0m0.3-3.1h0m0.1 1.6h0m0.1 0.9h0m0.1-3.3h0m0.3-0.8h0m0 2.9h0m0.1 0.7h0m0.4-0.7h0m0.2-1.9h0m0.1 0h0m0.6-0.6h0m0 4.4h0m0.9-0.9h0m0.1 1.5h0m0.2-5.9h0m0 1.3h0m0 3.3h0m7.4-1.6h0m0.3 1.6h0m0.1-1.9h0m0-2.4h0m0.1 0.1h0m0 0h0m0.2 2h0m0.5-0.1h0m0.5-1h0m0.1 4.1h0m0.1 0h0m0.5-1.2h0m0.4 0.6h0m0-4.6h0m0.2 3.7h0m0.5-3.1h0m0.1 2h0m0.3 0h0m0.8 0.5h0m0.2-1.1h0m0.2-0.3h0m0.3 2.1h0m0 1.8h0m0.3-3.3h0m0.9-1.6h0m0.1 4.8h0m0.2-2.7h0m0.5 1.5h0m0.1 1.4h0m0.5-3.3h0m0.3 3h0m0.1-5.5h0m0 4.9h0m0.9-0.3h0m0.7 1.3h0m0.1-4.3h0m0.2 3h0m0.2 0.5h0m0.8-1.3h0m0-1h0m0.2-2.4h0m0.4 0.3h0m0.1 3.7h0m0.1-1.2h0m0.4-0.8h0m0.1 3.2h0m-33.7 5.4h0m0.1-2.3h0m0.7 0.8h0m0.3-3h0m0.3 0.6h0m0.5-0.3h0m0.4 2h0m0.2-1.9h0m0.3 0.9h0m0.1 3.4h0m0.1-2.5h0m0.9 0.2h0m0.1-2.2h0m0.2 4.2h0m0.7-2.8h0m0-1.2h0m0.1 3.9h0m0.3-3.9h0m0 1.1h0m0.3-1.6h0m0.5 3.5h0m0.1-1.6h0m0.1 1.8h0m0.1-0.4h0m0.3-1.1h0m1.3 1h0m0.3-2.5h0m0.3-1.1h0m0.2 1.1h0m0.7 2.2h0m0.3 0.3h0m0.8 0h0m0.1-3.2h0m0.5-0.4h0m0.8 2.4h0m0-1.8h0m0.1 1.2h0m0.1 0.1h0m0 0.7h0m0.1-0.3h0m0.1-1.8h0m0.6 0.4h0m0.2 3.4h0m0.2-1.7h0m0.1 1.5h0m0-1.6h0m0.1-1.7h0m0.3 3.5h0m7.3-2.2h0m0.3 0h0m0.6 0.5h0m0.2 3.1h0m0.2-2.4h0m0.2-0.3h0m0.1-0.2h0m0.3-1h0m0.5-1.8h0m0.2 1.1h0m0.1 4.5h0m0-2.2h0m0 0.9h0m0.3 0.6h0m0.2-4.1h0m0.2 3.3h0m0.4 0.3h0m0.6-3.7h0m0.8 0.7h0m0.5 1h0m0-0.2h0m0 0.1h0m0-1.9h0m0.1 4.1h0m0.7 0.5h0m0.1 0.7h0m0.7-5.8h0m0.2 2.8h0m0.1 2.8h0m0-4h0m0.8 1.4h0m0.3-2.6h0m0.5 1.9h0m0.5-2.2h0m0.6 4.3h0m0.1 0.3h0m0 0.8h0m1-2.9h0m-32.2 7.9h0m0.2-0.2h0m1.8 0.4h0m0 0h0m0.2-3h0m0.5-0.4h0m0.1 0.9h0m0-1.7h0m0.1 4.4h0m0.5-3.8h0m0.3 2.4h0m0.1 1.7h0m1-2.8h0m0.4-1.3h0m0.5 0.2h0m0.2 0.7h0m0.5-1.1h0m0.3 2.7h0m0.2-2.8h0m0.4 4.6h0m0.3-2.7h0m0.1 1.7h0m0.1-3.7h0m0.2 5.3h0m0.2-5.5h0m0.1 2h0m0.5-0.6h0m0 2.2h0m0 1.4h0m0.5-2h0m0.1-0.3h0m0.1 1.2h0m0.1 1.4h0m0.1-2.9h0m0.3-2.7h0m0.4 5h0m0.1-5.2h0m0 5.4h0m0-3.2h0m0.3 0.1h0m0.1-1.4h0m0.3 3.5h0m0.1 1.1h0m0.2-0.4h0m0.5-4h0m0.3 2.5h0m0.4-1.5h0m0.1 2.2h0m0.4-0.2h0m0.1 0.6h0m0.4-2.4h0m6.8 3.5h0m0.5-3h0m0.1-2.2h0m0 1.8h0m0 1.2h0m0.5-3h0m0.3 2h0m0 3.1h0m0.4-1.7h0m0.5-0.7h0m0.2-0.3h0m0-0.3h0m0.1-1.9h0m0 3.5h0m0.3-3.8h0m0.2 2.4h0m0.1 2.1h0m0.3-3.8h0m0.3 1.8h0m0-0.5h0m0.6 2.6h0m0.4-2h0m0-0.6h0m0 0.4h0m0.3-1h0m0.2 0.3h0m0.5 1.6h0m0.3 0h0m0-1.4h0m0.1 3.1h0m0.1-0.4h0m0.6-3.7h0m0.5 2.9h0m0.6 1.6h0m0.3-2.6h0m1.1-0.3h0m0.3 0h0m0.2 1h0m0.6 1.5h0m0.5-1.7h0m0.1-3.6h0m0.2 0h0m0.2 3.1h0m0.1-2.4h0m0 0.9h0m0.3 0.4h0m0.2 3.3h0m0-4.6h0m0.1-0.8h0m0.2 0.6h0m0.2 4.5h0m0.2-3.1h0m0.2 2.1h0m-33.8 7.6h0m0.8-4.9h0m0.1 4.8h0m0.3-2.2h0m0.4 1.5h0m0.2-3.2h0m0-0.5h0m0.5 0.6h0m0.3 0.2h0m0.5-0.9h0m0.8-0.3h0m0.7 1h0m0.1 3.6h0m0.1-0.2h0m0-1.8h0m0-1.1h0m0.2 0.8h0m0.2-2.4h0m0.1 0.9h0m0.1 1.4h0m0.1-1.5h0m0-0.8h0m0.8 1h0m0.1 2.5h0m0.3-1.5h0m0.1-0.2h0m0-2h0m0.4-0.3h0m0.5 0.4h0m0.3-0.6h0m0.2 0h0m0.3 0.7h0m0 5.1h0m0.3-0.3h0m0.2-1.4h0m0.1-1.4h0m0.2 1.8h0m0.1-0.6h0m0.5-3.5h0m0 5.4h0m0.2-4.1h0m0.2 2.1h0m0 1h0m0.9-3.8h0m0.7 4.5h0m0.4-1.8h0m0 0.1h0m0.1-1h0m0.1-2.6h0m0.4 4.3h0m0 0.9h0m0.1-5.4h0m0.4 5.1h0m0-2.4h0m0.6-1.8h0m6.7 2.9h0m0.3-1.5h0m0.4-1h0m0.1 2h0m0.2-1h0m0.1 3.4h0m0.2-3.8h0m0.1 1.6h0m0.2 1h0m0-0.4h0m0.2 1h0m0.2-4.7h0m0 2.7h0m0.2 1.4h0m0.1-2.5h0m0.2 1.5h0m0.5 0.2h0m0.1-0.8h0m0.2 0.1h0m0.2 2.8h0m0.2-2.6h0m0 2.6h0m0.1-0.8h0m0.3-0.2h0m0.2-2.9h0m0.2 2.4h0m0.3 1.3h0m0 0h0m0.1-5.3h0m1 5.2h0m0.2-4.3h0m0.6 0.5h0m0.2-1.5h0m0.2 3.1h0m0.5-1.7h0m0.1-1.4h0m0.1 3.1h0m2.2-2.1h0m2.1 2.2h0m0.2 1.4h0m0.1-4.3h0m0.3 1.4h0m-33.5 5.3h0m0.1 3.5h0m0.8 1.2h0m0-0.5h0m0.6-1.2h0m0.1-1.6h0m0.2 1.1h0m1.2-1h0m0.1 2.5h0m0.1-2.6h0m0.4 2.3h0m0-1.9h0m0.5-1.4h0m0.2-0.7h0m0.1 4.3h0m1.2-0.3h0m0.6-3.8h0m0 3.9h0m0.5-3.9h0m0.2-0.9h0m0.1 0.9h0m0.5 2.7h0m0-1h0m0.1 2.8h0m0.1-5.4h0m0.9 3.6h0m0.2 0h0m0-3.8h0m0 3.1h0m0-2.1h0m0.3 4h0m0-2.6h0m0.4 2.2h0m0.1-2.3h0m0.1 0.7h0m0.1-2.6h0m0.1 4.8h0m0.1-3h0m0.8 2.2h0m0.1-0.9h0m0.1 1.6h0m0.4-4.2h0m0.1-0.4h0m0 0.4h0m0.4-0.1h0m0.4 0.1h0m0-0.4h0m0.4 2.1h0m0.2-0.1h0m0.2 1.8h0m0.3 1.1h0m0-3.4h0m0-1.5h0m0.3 4.9h0m0.4-4.4h0m0 1.6h0m0.3 2.7h0m6.2 0.5h0m0-0.8h0m0.1-2.7h0m0.5 0.5h0m0.4-0.7h0m0.1-0.1h0m0.9 2.4h0m0.1-2.1h0m0.2 1.8h0m0.1-3.1h0m0.2-0.1h0m0.1-1h0m0.2 5.6h0m0.2-4.5h0m0.7 2.5h0m0.2-1.1h0m0.4 2.4h0m0.1-4.1h0m0 4.1h0m0.2-1.1h0m0.1-2.4h0m0 4.1h0m0.4-4.3h0m0.3 4.2h0m0.3-2.1h0m0.8-1.9h0m1.1 1.8h0m0.6-2.5h0m0.3-0.1h0m0.6 0.6h0m0.1 3.3h0m0.5-1.8h0m0.1 2.2h0m0.2-1.1h0m0.6 0.4h0m0.4 1.7h0m0.8-1h0m0.2-1h0m0.4 1.8h0m0.4-1.5h0m0.3 0h0m0 1.6h0m0-2.4h0m-33.1 5.5h0m0.2 1.3h0m0.6-2.1h0m0.2 2.7h0m0.3-2.8h0m0-1.3h0m0.1 4.1h0m0.3-4.2h0m0 2.9h0m0.9-0.4h0m0.2 2.9h0m0.1-0.2h0m0.1-0.4h0m0.1-5h0m0.5 4.4h0m0.1-1h0m0-1.8h0m0.3 4h0m0.2-2.1h0m0.1 1.3h0m0.1-0.8h0m0.5-0.9h0m0.5-3.5h0m0.1 0.7h0m0 1.6h0m0.3 0.5h0m0.1 0.7h0m0.6 0.9h0m0.1-0.8h0m0.4-3.3h0m0.1 1.8h0m0.5-1.2h0m0.4 5h0m0-5.8h0m0.1 5.5h0m0.3-1.2h0m0.2-3h0m0.2 3.1h0m0.2 0.4h0m0.1-3.5h0m0.1 4.3h0m0.4 0.2h0m0.7-5.4h0m0 0.6h0m0.5-0.4h0m0 2.4h0m0.3 2.6h0m0.1-5.5h0m0.2 3.9h0m0-2.5h0m0.1 1.3h0m0.3 1.7h0m0.2-1.4h0m0.2 0.9h0m0-2.2h0m0.1 3.7h0m0-5h0m0.1 0.5h0m0.2 4.1h0m0 0.1h0m0.3-4.3h0m0.1-0.7h0m0 1.3h0m0.1-0.2h0m0.4 3.6h0m0.2 0.4h0m6-0.1h0m0.3 0.5h0m0.2-2.1h0m0.3-2.1h0m0 0h0m0.1 2.9h0m0-4.1h0m0.1 0h0m1.2 1.7h0m0.3-1.1h0m0.1-0.3h0m0.1 4.4h0m0.2-1h0m0.4-3h0m0.2 2.4h0m0.7 0.8h0m0.1-2.4h0m0.2-0.7h0m0.4 2.9h0m0.2 0.5h0m0.1-0.9h0m0-0.9h0m0.1-2.1h0m0.4 3.7h0m0-3h0m0.9-0.6h0m0.1 3.2h0m0.1-2.4h0m0.5 2h0m0.3-1.5h0m0-1.8h0m0.2-0.3h0m0.1 5.8h0m0.1-5.7h0m0.1 3.7h0m0.7-1.2h0m0.8-1.6h0m0.1 0.7h0m0.3-1.6h0m0 3.9h0m0.3-2.4h0m0.2 2.5h0m0.4 1.5h0m0.3-3.3h0m0 0.9h0m0.3-3h0m0.5 1.6h0m0.1 2.9h0m-32 7h0m0.2-3h0m0-1.2h0m0.6 3.5h0m0.1-2.4h0m0.5 1.9h0m0-1.3h0m0.3 1.3h0m0.4-4.2h0m0.2 0.6h0m0.2 0h0m1 3.1h0m0.3 1.2h0m1-0.4h0m0.4-3.7h0m0 3.3h0m0.1-0.7h0m0.1-3.6h0m0 3.4h0m0.3-0.1h0m0.9-3.2h0m0.1 2.2h0m0.1 0.2h0m0.3-1.8h0m0.2 4.1h0m0.6 0.8h0m0.1-4.2h0m0.1 3.9h0m0.4-5.2h0m0.8 2.5h0m0.3-1.2h0m0.3 0.9h0m0.1-1.7h0m0.2 3.4h0m0.1-2.6h0m0-1.4h0m0.1 1.4h0m0.1 2h0m0.2-2.3h0m0.1 2h0m0.3 2h0m0.4-4.9h0m0.4 1.1h0m0.2-1.3h0m0 3.6h0m0.7-0.4h0m0.2-0.3h0m0.4 0.6h0m0.2-1.8h0m0.2-0.4h0m0.2 2.3h0m0.1-1.1h0m5.8 1.6h0m0.1 0.4h0m0.3-3.5h0m0.1 2.3h0m0-2.8h0m0.2 1.7h0m0.4 0.2h0m0 3.3h0m0.2-0.4h0m0.1-2.7h0m0.1-1.9h0m0.1 4.9h0m0.3-5.6h0m0.2 3.6h0m0-2.5h0m0.5 1.4h0m0.4-1.4h0m0 3.7h0m0.3-2.5h0m0.6-0.7h0m1 3.5h0m0.2-3h0m0 0.1h0m0.4-0.9h0m0.5 3.7h0m0.1-4.9h0m0.1 3.8h0m0.5 0.5h0m0.7-2.3h0m0.1 0.7h0m0.5-0.3h0m0 0.8h0m0.1 1.8h0m0.2-0.9h0m0.1-3.4h0m0.3 3.6h0m0.5-2h0m0.4 1.6h0m0.9 0h0m0.2-1.4h0m0.4-2h0m0.4 4.5h0m0.2-4.8h0m0 4.6h0m0.6-1.7h0m0.1-2.4h0m0.5 4.1h0m-33.3 6.5h0m0.1-4.9h0m0.4 5h0m0.3-5.2h0m0.4 0.2h0m0.2-0.5h0m0 5.2h0m0.1-4.1h0m0.8-1.1h0m0.3 0.5h0m0.2 4.2h0m0.2-1.8h0m0 2.5h0m0.1-5.2h0m0.1 1.2h0m0.2-1.2h0m0.4 3.9h0m0-0.6h0m0.2 2.1h0m0-3.3h0m0.3 3.1h0m0.4-0.4h0m0.2-3.8h0m0.4 2.5h0m0.5 0.6h0m0.2-2.1h0m0.3-1.5h0m0.5 4.4h0m0.1-4.5h0m0.1 2.9h0m0.5-2.5h0m0.1 4.1h0m0.1-1.5h0m0.1-2.2h0m0 2.5h0m0.2-2.5h0m0.2 2.8h0m0.1 0.4h0m1.2-0.2h0m0 1.4h0m0.2-2.4h0m0 2.1h0m0.1-2.9h0m0.2-2.2h0m0 3.7h0m0.1-1.1h0m0.3 0.8h0m0.3-1h0m0.1 1.4h0m0.2-2.9h0m0.3-1.1h0m0.1 2.2h0m0.1-0.7h0m0.1-0.9h0m0.1 1.3h0m0-1.8h0m0.1 1.5h0m0.4-0.3h0m0.2-1.6h0m0.1 2.7h0m0.3-1.1h0m0.3 4.2h0m0.1-5.5h0m0.2 5h0m0-0.7h0m0.1-1.5h0m0.1 1.1h0m0.1-3.1h0m0 3.5h0m0-1.2h0m0.4-1.2h0m0.2 2.2h0m0.4 1h0m0.2-0.5h0m5.3-3h0m0.4 3.7h0m0.1-2.5h0m0.2 1.7h0m0.9-4.1h0m0.3 2.3h0m0.2 2.4h0m0.2-2.2h0m0.3 1.5h0m0-2.2h0m0.4 0.7h0m0.4 2h0m0.1-4.5h0m0.2 3.2h0m0.2 1.2h0m0.3-3.9h0m0.4 0.3h0m0.5 4.2h0m0.4-2.2h0m0.4 1.6h0m0.2 0.2h0m0.1-1.5h0m0.1-3.5h0m0.2 1.8h0m0.2 1.3h0m0.3 0h0m0.5 1.2h0m1.4-1.6h0m0.3 0.3h0m0.2-1.9h0m0 0.8h0m0.5 2h0m0.3-0.3h0m0.7 2h0m0.1-1h0m0.8-1h0m0.2-2.1h0m0 3.4h0m0.2-4.9h0m0.8 4.2h0m0.1-3.1h0m0.3 2.3h0m0.1-2.5h0m-33.3 8h0m0.6-3.2h0m0.4 2.3h0m0.2-1.4h0m0.1-0.6h0m0.2 1.9h0m0.2-1.1h0m0.6 1h0m0.2 0h0m0.6 0.9h0m0.1-2.9h0m0.4 3.1h0m0.3 0.3h0m0.4-0.3h0m0.8-1.2h0m1.2-1.8h0m0.2 1.3h0m0.1 2h0m0.6-2h0m0.2 0.8h0m0.2-2.3h0m0.1 1.9h0m0 0.2h0m1.5-1.8h0m0.9-0.1h0m0.7 2.9h0m0.1-0.2h0m0.5-0.8h0m0.1 0.5h0m0.3-2.1h0m0.5 1.8h0m0.2 0.7h0m0.1-2.5h0m0.1 0h0m1-0.2h0m0.5 1.3h0m0.1-1.4h0m5.6 1h0m0.2 0.8h0m2-1.7h0m0.1 2.8h0m0.2-2h0m0.1 0.2h0m0.3 0.7h0m0.7-1.4h0m0.1 1h0m0.4-1.1h0m0.2-0.1h0m0 3h0m0.3-0.9h0m0.4 0.3h0m0.7-0.2h0m0 0.6h0m0.5-2.9h0m0 0.7h0m0.2 1.9h0m0.1-0.8h0m0.1-1.2h0m0.4 1.6h0m0.1-0.3h0m0.1-1.6h0m0.2 0h0m0 0.8h0m0.4-0.9h0m0.3 1.9h0m0.1-2.4h0m0.2 3.4h0m0.4-2.9h0m0.3 1.8h0m1.4-1.6h0m0.3 1h0m0.5-1.6h0m0.2 2.8h0m0.8 0.5h0m0.6-2.3h0m0.2 2.3h0" stroke="#070707" stroke-width="2.6" stroke-linecap="round" fill="none"/>
<path d="M66.0 1122.6H451.1" stroke="#555" stroke-opacity="0.6" stroke-width="1" stroke-dasharray="2.4 2.2" fill="none"/>
<path d="M262.4 1166.2V837.2M298.4 1166.2V837.2" stroke="#666" stroke-opacity="0.6" stroke-width="0.7" stroke-dasharray="2.3 1.8" fill="none"/>
<path d="M185.6 837.2H263.9" stroke="#BF9CCB" stroke-width="3.9" fill="none"/>
<path d="M296.7 837.2H366.5" stroke="#77BD87" stroke-width="3.9" fill="none"/>
<path d="M80.3 837.2h0m59 0h0m9.4 0h0m8.1 0h0m4.5 0h0m4.5 0h0m4.5 0h0m4.5 0h0m5.9 0h0m4.9 0h0" stroke="#BF9CCB" stroke-width="4.3" stroke-linecap="round" fill="none"/>
<path d="M366.5 837.2h0m3.6 0h0m3.6 0h0m3.6 0h0m2.7 0h0m4.5 0h0m3.6 0h0m3.6 0h0m2.7 0h0m4.5 0h0m3.6 0h0m3.6 0h0m8.1 0h0m22.5 0h0m1.8 0h0" stroke="#77BD87" stroke-width="4.3" stroke-linecap="round" fill="none"/>
<path d="M263.9 837.2H276M285.6 837.2H296.7" stroke="#070707" stroke-width="3.2" fill="none"/>
<text transform="translate(211.38 788.1) scale(0.9823 1)" font-size="32.46" font-weight="bold" fill="#000">2 Months</text>
<text transform="translate(20.38 796.2) scale(1.0032 1)" font-size="30.29" font-weight="bold" fill="#000">C</text>
<text transform="translate(128.85 947.1) scale(0.9698 1)" font-size="32.61" font-weight="bold" fill="#BF9CCB">596</text>
<text transform="translate(355.67 947.1) scale(0.9905 1)" font-size="32.61" font-weight="bold" fill="#77BD87">2114</text>
<text transform="translate(167.91 1258.4) scale(0.9524 1)" font-size="34.06" fill="#000">Log2 Fold change</text>
<text transform="translate(23.4 1110.46) rotate(-90) scale(1.0727 1)" font-size="30.34" fill="#000">-log10 (p-adj)</text>
</g>
<g id="panelD">
<path d="M584.9 1172.2H973.7" stroke="#777" stroke-width="1.1" fill="none"/>
<path d="M598 1172.2v5.6M673.2 1172.2v5.6M748.4 1172.2v5.6M823.6 1172.2v5.6M898.8 1172.2v5.6M974 1172.2v5.6M575.3 1158.6h5.8M575.3 1092.8h5.8M575.3 1027h5.8M575.3 961.2h5.8M575.3 895.4h5.8M575.3 829.6h5.8" stroke="#777" stroke-width="0.7" fill="none"/>
<text x="597.1" y="1192.1" font-size="11.5" fill="#4a4a4a" text-anchor="middle">-10</text>
<text x="672.3" y="1192.1" font-size="11.5" fill="#4a4a4a" text-anchor="middle">-5</text>
<text x="747.8" y="1192.1" font-size="11.5" fill="#4a4a4a" text-anchor="middle">0</text>
<text x="823" y="1192.1" font-size="11.5" fill="#4a4a4a" text-anchor="middle">5</text>
<text x="898.2" y="1192.1" font-size="11.5" fill="#4a4a4a" text-anchor="middle">10</text>
<text x="973.4" y="1192.1" font-size="11.5" fill="#4a4a4a" text-anchor="middle">15</text>
<text x="569.7" y="1162.8" font-size="11.6" fill="#4a4a4a" text-anchor="end">0</text>
<text x="569.7" y="1097" font-size="11.6" fill="#4a4a4a" text-anchor="end">2</text>
<text x="569.7" y="1031.2" font-size="11.6" fill="#4a4a4a" text-anchor="end">4</text>
<text x="569.7" y="965.4" font-size="11.6" fill="#4a4a4a" text-anchor="end">6</text>
<text x="569.7" y="899.6" font-size="11.6" fill="#4a4a4a" text-anchor="end">8</text>
<text x="569.7" y="833.8" font-size="11.6" fill="#4a4a4a" text-anchor="end">10</text>
<path d="M748.4 1160.4 753.2 1159.4 755.2 1158.4 756.8 1157.3 758 1156.3 759.2 1155.3 760.2 1154.3 761.2 1153.2 762 1152.2 762.9 1151.2 763.7 1150.1 764.4 1149.1 765.1 1148.1 765.8 1147.1 766.5 1146 767.1 1145 767.7 1144 768.3 1143 768.9 1141.9 769.4 1140.9 770 1139.9 770.5 1138.9 771.5 1136.8 772.5 1134.7 773.5 1132.6 774.5 1130.5 775.5 1128.4 776.5 1126.3 777.5 1124.2 778.4 1122.1 779.3 1120 780.2 1117.9 781 1115.8 715.8 1115.8 716.6 1117.9 717.5 1120 718.4 1122.1 719.3 1124.2 720.3 1126.3 721.3 1128.4 722.3 1130.5 723.3 1132.6 724.3 1134.7 725.3 1136.8 726.3 1138.9 726.8 1139.9 727.4 1140.9 727.9 1141.9 728.5 1143 729.1 1144 729.7 1145 730.3 1146 731 1147.1 731.7 1148.1 732.4 1149.1 733.1 1150.1 733.9 1151.2 734.8 1152.2 735.6 1153.2 736.6 1154.3 737.6 1155.3 738.8 1156.3 740 1157.3 741.6 1158.4 743.6 1159.4 748.4 1160.4Z" fill="#070707" stroke="#070707" stroke-width="0.8" stroke-linejoin="round"/>
<path d="M734.7 1115.8 734.7 1114.6 734.7 1113.4 734.7 1112.2 734.7 1111 734.7 1109.8 734.7 1108.6 734.7 1107.3 734.7 1106.1 734.7 1104.9 734.7 1103.7 734.7 1102.5 734.7 1101.3 734.7 1100.1 734.7 1098.9 734.7 1097.6 734.7 1096.4 734.7 1095.2 734.7 1094 734.7 1092.8 722.9 1092.8 721.4 1094 719.9 1095.2 718.5 1096.4 717.1 1097.6 715.8 1098.9 714.5 1100.1 713.3 1101.3 712.8 1102.5 713.2 1103.7 713.7 1104.9 714.1 1106.1 714.5 1107.3 715 1108.6 715.4 1109.8 715.8 1111 716.3 1112.2 716.7 1113.4 717.1 1114.6 717.6 1115.8Z" fill="#BF9CCB"/>
<path d="M709.5 829.9h0m16.9 0.3h0m2.2 0.5h0m-11.2 2h0m1.1 2.4h0m0.9-2h0m0.8-1.4h0m9 2h0m1.6 0.9h0m1.2-0.6h0m-44 6.5h0m18.8-0.7h0m14.3 0h0m5.5-2.8h0m-38.3 8.1h0m21.4 0.2h0m11.1 1.8h0m8.9-3.1h0m0.5 2.1h0m-40.6 4.4h0m22.4 0h0m2.3 4.2h0m10.1-3.2h0m4 0.9h0m-44 4.7h0m5.3-2h0m25.3 3.5h0m2.4-3.1h0m8.8 0.7h0m-46.7 9.3h0m14.8-0.7h0m24.2 0.4h0m1.2-3.2h0m2.4 3.4h0m10 1.2h0m0.5-4.3h0m-46.3 9.5h0m13-3.2h0m15.1 2.1h0m5.2 1.8h0m1.7-4.6h0m2.5 0.8h0m1.8 1.8h0m2.4-0.6h0m4.3-2.5h0m-20.5 7.9h0m5.1 3.3h0m4-2.2h0m4.9-2h0m0 1.8h0m4.8 0h0m0.9-1.7h0m-38.2 8.6h0m13.8-4.1h0m10 3h0m3.1 1.9h0m1.2 0.1h0m4.3-0.3h0m2.1-3h0m3.4-1.2h0m-39.1 6.2h0m7.4 4.1h0m0.9-0.7h0m12.5-1.7h0m1.8 1.7h0m3.8 0.1h0m11.4-0.1h0m1.4-2.2h0m-10.2 7.5h0m6.2 0.9h0m1.6 0.6h0m2.7-2.8h0m0.9 3.9h0m-38.4 3.9h0m18 0.1h0m6.1-2.6h0m1.8 4.5h0m3.2-0.1h0m7.8-1.8h0m0.6-1.3h0m-39 6.7h0m14.8 2.2h0m12.6-5.5h0m2 5.6h0m5-1.5h0m3.6 1.6h0m-41.1 5.7h0m33.7-0.1h0m7.5 0.3h0m-21.3 6h0m13.2-3.4h0m4.6-1.7h0m0.3 1.3h0m0.1 3h0m1.6-2.9h0m-2 9.9h0m1-0.2h0m4.6-4h0m-41.9 7.9h0m35.8 1.8h0m0.6-4.6h0m4.4 2.1h0m-23.9 3.1h0m0.6 2.3h0m0.7 2.7h0m5.8-2.4h0m1.4 2h0m9.1-2.4h0m0.9 3h0m6.5-3.9h0m-34.8 10.3h0m7.3-4.5h0m15.5 2.6h0m0.5-1.8h0m1.9 3.7h0m0.2-1.9h0m-20.8 4h0m14.2 2.5h0m8-2.1h0m0.3-1.5h0m0.4 1.6h0m5 3.3h0m-21 2.3h0m2.5-0.7h0m5.2 2.8h0m2.9-0.4h0m1.6 2.3h0m0.8-3.6h0m6.5 3.6h0m-37.1 0.5h0m14.2 0.4h0m0.6 0.9h0m2.4-0.3h0m3.7 0.3h0m3.7 1.9h0m10.7 1.9h0m3.2-3.1h0m-10 8.1h0m2.1-3.4h0m5.2 4.4h0m2.6-0.7h0m1.4-0.1h0m-24.8 6.6h0m10.9-0.3h0m4.3-1.8h0m6.3 2h0m2.4-1.7h0m-28.2 5.7h0m15.7-1.6h0m3.1 3.3h0m4-2.4h0m1.8 1h0m-37.4 3.6h0m15.1 2.2h0m14.1-1.5h0m4.6 2.9h0m0.8-1.7h0m0.8-0.8h0m2.1 1.9h0m1.1-1.4h0m1.5 2.5h0m-37.9 6h0m22.5-3.2h0m1.1 0.3h0m6.5 1.8h0m1.6-3.9h0m0.2 1.5h0m1.2 0.5h0m2.1-1.4h0m2.3 1.7h0m1.4-2.2h0m1.8 2.1h0m0 3.5h0m-24.9 0.5h0m2.8 3.2h0m8.6 0.6h0m4.4-3.2h0m4.3 4.3h0m3.3-3.4h0m0.8-0.1h0m0.6-1.4h0m-35.3 11.3h0m4.4-1.9h0m3.2-0.1h0m1.7-0.1h0m2-1.6h0m9.1-0.2h0m0.3-1.4h0m0.9 1.5h0m1.7-1.7h0m7.9 4.5h0m3-2.8h0m-39.8 8.3h0m8.1-0.1h0m7.2 1.2h0m0.5-0.3h0m5.4-3.6h0m6 0.1h0m7.8 3.6h0m-32.9 3.9h0m22.8 2.5h0m0.3-5.2h0m0.4 5.2h0m6.8-0.1h0m1.2-4.8h0m0 3.2h0m0.9 2.2h0m0.3-2.4h0m5-2.3h0m0.4 4.5h0m0.5-4.5h0m-38.3 9.2h0m1.9-2.2h0m1.6 2.9h0m2 0.3h0m1.3 0.1h0m3.7-5.1h0m8.4 4.8h0m0.4-2.6h0m5.1 3h0m7.2-3.8h0m0.6 0.8h0m3.3 2.6h0m-31.9 2.7h0m18.9-1h0m0.7 3.3h0m0.6-0.3h0m4.6 0.8h0m1.4-0.8h0m1.6-2.6h0m5.3 0.7h0m1.6 3.1h0m0.4 0.1h0m-27.8 4.3h0m1 0.5h0m7.6-2h0m0.6 0.7h0m7.2-2.4h0m1.8 5.1h0m1.7 0.1h0m2.3-1.5h0m2.4-1.1h0m0.8 2.8h0m0.7-0.6h0m1.2 0.1h0m-27.8 1.7h0m7.7 4.6h0m1-4.4h0m0.4 3.9h0m1.8-0.1h0m2.6-0.2h0m5.4-2h0m2.9-0.5h0m0.2-2.2h0m0.2 1.9h0m0.5-1h0m0.2 2h0m2.8 1.1h0m-32 4.6h0m0.4 1.8h0m0.6 1.2h0m2.5-1.8h0m3.1-1.3h0m2.7 3.5h0m9.8-2.5h0m6.4 0.8h0m2.7-1.3h0m2.9 2.7h0m0.7-3.2h0m-30.9 6.4h0m2.2 0.9h0m5.4 1.7h0m0.3-0.5h0m3-3.5h0m3 2.8h0m16.5-0.3h0m3.2 1.6h0m-32.3 3.3h0m0.5-2.5h0m4.9 4.9h0m4.3-0.9h0m1.1-0.9h0m8.1 1.6h0m1.8-3.4h0m2 1.1h0m0.2 0.5h0m0 0.9h0m0.5-1.1h0m1.1 2.2h0m4 0.5h0m1.2-1.6h0m0.4-1.8h0m1.9 2.3h0m0.2-0.7h0m-30.6 5.5h0m4.5 1.6h0m3.6-0.4h0m3.9 0.9h0m0.4-4.8h0m1.4 1.9h0m0.2 1.1h0m0.7 2h0m1.1 0h0m2-1.7h0m2.4 0.9h0m0.2-0.3h0m1-1.7h0m0 2.4h0m3.6 0.1h0m0.2 0.2h0m0.3-4h0m0.2 1.5h0m0.1 0.4h0m0.1-0.8h0m0.8-1.8h0m2.4 1.5h0m0.4 2h0m-25.1 2.7h0m1 2.9h0m1.5 0.9h0m3.6-2.5h0m0.3 2.5h0m3.2-3.2h0m1.3 0.3h0m0 0.4h0m1.6 2.8h0m2.1 0.6h0m0.5-5.4h0m0.5 2.8h0m1.1 2.2h0m2.7-1.2h0m0.4-2.6h0m0.7 2.8h0m0.4-1.2h0m0.3 2.1h0m0.2-4.1h0m2.7 2.3h0m0.8-0.3h0m0.3 2.6h0m0.2-0.5h0m0.6-4.5h0m-27.4 5.8h0m1.2 2.5h0m1.4 0.7h0m1.8-2.8h0m0.2 3.7h0m0.5-3.4h0m1.5 3.3h0m0.8-1.8h0m0.8 3h0m1.9-4.1h0m2.5 1.8h0m0.8-2.9h0m6.5-0.1h0m1.3-0.1h0m0.5-0.5h0m0.4 0.1h0m0.6 5.2h0m1.4-1h0m1.1 1.4h0m2.2-1.1h0m-24.6 6.3h0m1.6 0.6h0m2.5-0.2h0m1.3-3.8h0m0.2 3h0m1.5-0.6h0m2.3-1.8h0m0.3 0.9h0m1.6-0.1h0m0.9-1h0m0.5 2.1h0m0.8 0.1h0m0.2 0.9h0m1-3.6h0m1.7-0.5h0m1.1-0.8h0m0.7 3.4h0m0.3 0.9h0m4.1-4.2h0m1.4 4.6h0m-23.1 3h0m0 0.8h0m3.2 1.2h0m2.7-3h0m1.3 2.8h0m2.9 1.3h0m3-4.3h0m0.3 3.1h0m1.2 1h0m2.5-3.3h0m1-0.3h0m0.6 1.5h0m3 3.2h0m0.4-2.8h0m0.6-1.1h0m0.5 1.5h0m0.2 0.7h0m0.2 0.8h0m-20.6 2h0m1.8 3h0m0.7-2.3h0m0.9 0.6h0m3.5-0.1h0m0.2-1.9h0m0.8 1.8h0m0.4 1.8h0m1.9-2.3h0m0.5-1.1h0m0.2 3.9h0m1.5-1.3h0m0.7 1.6h0m1.5 0.5h0m0.7 0.2h0m1.2-5.1h0m0.9 5h0m0.8 0.7h0m0-4.2h0m1.3-1h0m-18.8 8h0m0.4-0.9h0m0-0.8h0m0.7 3.6h0m0.6-1.2h0m0.1-3.4h0m0.1 3.5h0m0.2-1h0m1 2.4h0m1.1-2.7h0m0.7-0.4h0m1-0.7h0m0.2 3.5h0m0.5-3.3h0m1.1-1.1h0m0.1 0h0m0 1.6h0m0.2 0.4h0m1 1.5h0m1.8-1.6h0m2.5 1.5h0m0.2-1.1h0m0.7 1.3h0m0.4 1.2h0m2.1-3.3h0m1.2 1h0m-16.3 7.2h0m0.8-1.1h0m0-0.9h0m0 4h0m0.5-5.9h0m0.4 3.4h0m0.1 1.4h0m0.2 0.3h0m3.8-1.9h0m1.3-2h0m1.1 3.7h0m0-0.8h0m3.7-0.2h0m1.3-2.9h0m0.6 0.8h0m2.9 1.2h0m0 2.3h0m1.5-2.1h0m0.4 1.1h0m-15.7 5.4h0m0.9-1.1h0m3.2-0.2h0m1-0.3h0m1.6 0.7h0m5.5-0.6h0m1.3-0.3h0m0.5 1.3h0m0.1 0.2h0m0.9-1.6h0m0.3 2.3h0m-14.7 3.6h0m0.7-1h0m1.5-0.2h0m0.2 2h0m1.5-1.5h0m2.6-0.9h0m0.4 1.5h0m0.4 0.8h0m4.7-0.8h0m1.5 0.6h0m0.9-1.3h0" stroke="#BF9CCB" stroke-width="4.1" stroke-linecap="round" fill="none"/>
<path d="M761.9 1115.8 761.9 1112.5 761.9 1109.2 761.9 1106 761.9 1102.7 761.9 1099.4 761.9 1096.1 761.9 1092.8 761.9 1089.5 761.9 1086.2 761.9 1082.9 761.9 1079.6 761.9 1076.3 761.9 1073.1 761.9 1069.8 761.9 1066.5 761.9 1063.2 761.9 1059.9 761.9 1056.6 761.9 1053.3 779.5 1053.3 781.5 1056.6 783.4 1059.9 785.2 1063.2 786.8 1066.5 788.4 1069.8 789.9 1073.1 791.3 1076.3 791.8 1079.6 791.1 1082.9 790.3 1086.2 789.6 1089.5 788.5 1092.8 787.3 1096.1 786.2 1099.4 785 1102.7 783.8 1106 782.6 1109.2 781.5 1112.5 780.3 1115.8Z" fill="#77BD87"/>
<path d="M765.6 830.4h0m0.1 0.4h0m1-1.2h0m0 0.7h0m7.2 0.2h0m9.2-0.3h0m14.2-0.3h0m7.4-0.2h0m-37.2 4.9h0m0.1 0.6h0m0-2.1h0m0.1-0.5h0m0.3 3.8h0m0.2-1.8h0m0.3 0.5h0m0.5 0.7h0m0.3-2.2h0m1.4-1.9h0m0 2.4h0m3.9 2.8h0m1-3h0m1.5 1.4h0m0.5-2.4h0m0-1h0m6.9 2.7h0m1.6-1.7h0m1.2 0.8h0m1.5-1.1h0m6.1 2.7h0m0.6-0.6h0m1.8 1.1h0m2.5 1h0m7.4-2h0m0.7-2.8h0m3.7 1.1h0m1.6 2.2h0m-45.9 6.4h0m0.2 1.3h0m3.8-1.9h0m4.1-3.5h0m0.3 0.9h0m0.4 3.1h0m0.1 0.4h0m0.8-2.1h0m2.5 1.4h0m2.6-2.1h0m1.6 0.3h0m6.8-2.5h0m2.8 4h0m4 0.4h0m3.6 1.2h0m5.1-5.2h0m2.8 3.6h0m-43.4 2.7h0m0.3 3h0m1.5-0.8h0m3.2-1.7h0m0.6 3.9h0m0-3.4h0m2.4-0.3h0m0.3-0.4h0m1 0h0m0.4 0.5h0m0.4 1.4h0m1.3 0.1h0m0.1-0.7h0m2 1.9h0m1.8-0.3h0m1.5-3.4h0m2.1 3.1h0m5.2 2h0m2.1-2.1h0m2.4-0.9h0m2 0.4h0m0.3 1.1h0m2.4-0.7h0m3.9 0.7h0m1.4-1.4h0m7.5 0.2h0m2 0h0m-47.6 6.6h0m3.1 0.1h0m1.6-0.6h0m2.1-0.4h0m0 0.5h0m0.6 2h0m0.7-0.1h0m0.2-0.4h0m0.4-3.1h0m5.1-0.6h0m1.6 1.5h0m1 2.9h0m5.7-2.1h0m2.5 0.6h0m19.6-3.6h0m5.3 4.6h0m3.6-0.7h0m-52.9 5.1h0m1.9 0.9h0m0.1-3.8h0m3.2 1.4h0m4.7 0.6h0m1-2.2h0m2.2 3.3h0m0.3-2.8h0m0.4 0.6h0m0.5 4.2h0m1.4-1.3h0m0-0.3h0m8-1.2h0m0.3 0.6h0m11.7-1.9h0m3.3 2.7h0m6.6-3.4h0m-47.7 11.1h0m2.9-4.5h0m1.3 3h0m1.5-0.9h0m2.3 1.7h0m1.9-3.6h0m0.2 1.8h0m0.7-1.5h0m1.4 0.3h0m1.7 1.6h0m0.1 0h0m5.9 0.8h0m0.4 1.1h0m9.4-1.4h0m7.8 0.4h0m9-3.2h0m-46.6 8.1h0m0.1-1.5h0m0.3 1.6h0m1 0.6h0m0.8 0.3h0m2-0.3h0m0.2 1.2h0m0.1-2.9h0m2.1-1.8h0m0.2 3.8h0m1.7 0.4h0m1.4-4.5h0m0.6 4.5h0m2.9-1.4h0m1.7-3h0m0.2 4.1h0m1.4-2.3h0m0.5-1.3h0m3.2 0.3h0m0.2 0.9h0m1.3-1.1h0m2.3-0.9h0m2.6 5.7h0m0.7-3.5h0m3.4-1.3h0m0.2-1h0m3.2 3.3h0m13.2 1.9h0m4.7-3.7h0m0.4-0.7h0m-52.2 6.5h0m0.2 4.6h0m0.5-0.7h0m2.1-0.6h0m1.8-3.8h0m0.3 2.2h0m0.3 2.9h0m0.1-3.5h0m1.6 1.7h0m1.1-2.3h0m0.3 0.3h0m0.2 2.6h0m3.5-1.8h0m4.1-2.1h0m0.2 0.5h0m0.9 1.6h0m0.5 1.9h0m3.1-1h0m2.1-2.3h0m2.1-0.2h0m1.3 2.2h0m0.6 1.6h0m1.6-1.1h0m5.5-0.3h0m15.9-2.8h0m-50.4 10.9h0m1-4.4h0m0.2 3.3h0m2.5 1.1h0m0-3h0m0.2 1.3h0m0.4-3h0m0.9 3.3h0m1 0.2h0m0.7-3.6h0m0.7 0.8h0m1.1-1.5h0m1.4 4.6h0m2.4 0.5h0m0.1-5h0m0.3 2.4h0m5.3-1.2h0m0.4-1h0m1.1 0.6h0m0.5 2.5h0m0.7 1.2h0m0.6-3.8h0m1 2.3h0m0.6-0.1h0m1.8 2.3h0m0.7 0.1h0m0.6-2.9h0m1.5-1h0m1.8 3.2h0m2.2-4.7h0m3.4 4.7h0m12.7-3.5h0m0.8 3.8h0m-42.6 4.4h0m2.4 0.8h0m3.9-1.8h0m3.8 3.2h0m2.2-1.7h0m1.6-1.6h0m0.2-0.5h0m2.3-1.4h0m2.4 3.1h0m0.3-0.8h0m6.2-2.8h0m0.6 4.4h0m9.3-3.8h0m0-0.6h0m6.8 1.7h0m5.5 0.2h0m-53.4 4.8h0m0.7-0.7h0m3.6 4.5h0m2.9-0.9h0m3.1 1.5h0m1.7-3.7h0m3.3 3.4h0m0.5 0.6h0m1-0.2h0m3 0.4h0m3.2-0.1h0m2.7-3.9h0m14.7 2.3h0m7.5 1.8h0m0.3-4.2h0m1 0.3h0m-48.4 7.1h0m1.4 1.2h0m1.1-1.5h0m0.8 2.6h0m0 0h0m1.7 0.1h0m0.8-3.8h0m0.2 3.6h0m0.4-0.5h0m1.2-4.2h0m0.1 0.1h0m1.3-0.5h0m1.5 2.5h0m0.8 1.2h0m1.1 1.6h0m0.6-2h0m0.1 1.2h0m0.2-3.9h0m0.1 0h0m0.9 4h0m0.3-3.5h0m0.8-1.2h0m2 2.5h0m11.3 1h0m1.3-0.4h0m1.6-0.5h0m4.5-0.7h0m5.4-1.7h0m0.2 2.8h0m2.2 2.3h0m1.6 0.3h0m3.3-3.2h0m4.9 1.3h0m-52.9 5.3h0m0.6-1.5h0m0.5-0.8h0m4 4.8h0m0.1-2.1h0m0.5-3.5h0m2.8 1.2h0m0.2 4.1h0m0.2-2.8h0m1.5 0.4h0m3.7-0.2h0m6.3-0.4h0m0.3 2.5h0m0.1-2.8h0m1.8 2.9h0m4.5-1.8h0m1.3-2h0m12.2 1.5h0m0.5-1.2h0m0.5-0.3h0m6.4 1.3h0m-49 7.7h0m0.5-0.5h0m0.2 1.9h0m0.5-4.5h0m0.5 1.2h0m0.9-0.5h0m1 2.8h0m2 0.5h0m2.1-4.1h0m3 1.1h0m0.6 3.4h0m0.8-4.4h0m0.8 0.3h0m0.1 0.6h0m0.8 2.5h0m0.9 0.2h0m1.5 1.1h0m1.1-4.1h0m0.1-1.4h0m2.7 5h0m0.5-3.3h0m5.3 0.8h0m0.9 2.4h0m1.9-2.2h0m1.5-2.7h0m1.8 4.6h0m0.2-4h0m2.3 4h0m2.8 0.3h0m6.1-3.6h0m0.5-0.4h0m1.9 0.9h0m1 1.3h0m1.6-1.4h0m-49.1 4.7h0m0.2 0.9h0m1.2 1.5h0m3.8-0.1h0m0 0.8h0m1-0.6h0m0.8 1.4h0m1.4-1.8h0m3.9 2.9h0m0.4 0.3h0m2.5 0h0m0.1-5.6h0m1.9 4h0m0.6-0.3h0m0.6 0h0m0.4-2.9h0m1.2-0.5h0m0.1 0.1h0m4.4 2.1h0m7.3 1.9h0m4.3-2.4h0m1.9 0.7h0m1.3-2.7h0m0.7 4h0m0.5-2.3h0m10.3 0.4h0m-50.4 4.6h0m0.2 3.8h0m0.1-4h0m0.1 0.2h0m0.3-0.7h0m0.7 5h0m0.4-4h0m1.6 0.9h0m1.2 2.5h0m0.8 0.5h0m0.4-3.5h0m0.2-0.7h0m0.2 1.6h0m4.2 2.5h0m0.5-1.3h0m0 2h0m0.5-1.9h0m0.7-0.8h0m1.4-3.1h0m0.1 2h0m1.4 0.4h0m7.2-2h0m1.2 3.1h0m0.1 1.6h0m3.2-0.4h0m0.3-4.1h0m1.9 2.7h0m0 1.8h0m1-3.7h0m0.8 1.4h0m7.9-0.8h0m0.9 3h0m4.1-3.3h0m1-1.4h0m0.8 4.1h0m1.1-1.6h0m-46.4 4.4h0m0.8 3.8h0m0.6-1.6h0m0.7-2.7h0m0.6-0.4h0m0.2 3.6h0m0.3 0.2h0m0.3-3.4h0m0.9 2.2h0m3.5-2.4h0m2.1 2.2h0m0.2-2.4h0m0 1.6h0m0.1 3.7h0m0.2-3.5h0m0.1 3.9h0m4.2-0.3h0m0.3-0.5h0m0.2-0.3h0m0.8-3.4h0m3.7-1.5h0m4.8 3.4h0m0.6-0.8h0m0.4 2.9h0m1.5-5.3h0m2.7 5.5h0m1.1-0.2h0m0.1-5.5h0m4.5 4.7h0m3.7-2.3h0m0.3-1.5h0m9.9 4.9h0m-48.8 2h0m2.7 4h0m0.4-4.6h0m0.7 2.9h0m1.8-0.9h0m0.2-2.6h0m0.4 4.2h0m0.5-2.6h0m2.6 3h0m4.9-3.3h0m0.3 2.4h0m3.9 1h0m2-2.6h0m4 3.1h0m5-5.4h0m0.5 1.2h0m1.7 4.2h0m1.4-1.9h0m1.3-1.8h0m0.3-2h0m0.7 4.5h0m1.1-3.1h0m0.2-1.3h0m0.3-0.1h0m0.7 4.2h0m1.1-2.3h0m1.6-0.4h0m2.1 0.4h0m0.4 3.3h0m6.5 0.6h0m0.4-2.2h0m-50.6 2.3h0m0.2 4.1h0m1.4 0h0m1.6-4h0m0.1 3.8h0m0.1-1.3h0m0.4 2h0m0.9 0.3h0m0.3-3.1h0m1.3 3.7h0m0.4-2.9h0m0.5 2.5h0m0.4-1.3h0m0.1-2.3h0m0 4h0m0.3-1.4h0m0.6 1.4h0m0.4 0.3h0m0.5-2.6h0m0.2-2.1h0m0.8 4.5h0m0.4-2.4h0m0.7-2.1h0m4.5 2.9h0m0.8-1h0m0.7 0.5h0m3.1-2.1h0m0.1 1h0m0.6 3.4h0m0.3-2.6h0m0.3 1.7h0m4.2-1.7h0m6.5-0.3h0m2-1.8h0m0.8 0h0m0.5 1.4h0m1.4-0.5h0m0 1.9h0m3.7-2.1h0m1.7-1h0m0.9 0.2h0m0.7 1.3h0m0.2 1.8h0m2-1.7h0m0.5-0.1h0m1.2 1.8h0m1.1 0.5h0m-48.7 3.8h0m0.8-2h0m0.5 5.4h0m1.2-4.2h0m0.8 0.9h0m0.7 0.7h0m0.2 0.6h0m0.1-1.7h0m1.3 3.3h0m1.6-3.5h0m1.9-1.4h0m0.5 4.2h0m0.5-3.9h0m1 3.1h0m0.4 1.2h0m0-3.5h0m0.9 2h0m0.1-2.3h0m0.3-1.1h0m1.6 4.8h0m2.6 0.2h0m0.6 0.8h0m2.2-3.6h0m2.5 1.6h0m6.7-1.7h0m0.9-1.7h0m0.5-0.3h0m0.6 3h0m3 2.3h0m1.2-4.1h0m2.8 4h0m2.8-0.6h0m3.2-2.3h0m1.8-0.9h0m-46.6 4.4h0m0.2 1.6h0m0.3 4.2h0m0.8-0.3h0m1.1-4.9h0m2.7 2.9h0m0.1-2.1h0m0.3 1.9h0m0.7-0.3h0m2.4-2h0m0.2 2.2h0m1.2-2.6h0m0 2.5h0m0.6-0.2h0m0.7 2.3h0m0.4-4h0m0.6 4.3h0m0.7-3.8h0m0.2-1.5h0m1.1 3.8h0m1.1 0.9h0m0.4-4h0m2.3 1h0m0-1.7h0m0.3 2h0m1.3 3.5h0m0.2-0.8h0m2.9-0.3h0m4 1h0m4.4 0.2h0m2.2-2.5h0m4.5 0h0m0.8-0.3h0m1.9-2.2h0m1.3-0.7h0m0.8 4.4h0m1.8 1.3h0m0.2-5.7h0m2.1 5.2h0m1.6-1.7h0m-48.4 4.2h0m0.1 1.5h0m2.4-2.8h0m0.3 0h0m0.1 3.7h0m2.2-0.3h0m0.3 1h0m0.2-1.2h0m0.7 2.2h0m0.4-1.5h0m0.2 1.1h0m1.4-0.6h0m1.1-1.8h0m1.3 0.7h0m0.1-1.9h0m0.9 2.9h0m0.3 0.4h0m2.2-1h0m2.3 0.4h0m2.2-4.3h0m3.4 0.9h0m0.1 4.3h0m2.1-4.5h0m0.5-1.1h0m3.4 2.8h0m3.1-0.2h0m0.6-1h0m0.8-1.1h0m3.7 5.3h0m0.2-2.3h0m0.5-0.1h0m0.3-0.6h0m0.2 1.4h0m0.3-1.1h0m1.6 0.6h0m1.8-0.1h0m0.5 0.2h0m0.3 1.7h0m0.1-4.9h0m4.8 4.1h0m0.5-0.9h0m0.7-1.9h0m0.5-1.4h0m-47.6 6h0m0.7 2.6h0m0.6-1.5h0m0.8-1.5h0m0.3 2.7h0m3.3 1.1h0m1.5 0.7h0m0.9-3.6h0m5.6 0.2h0m3.4-0.2h0m3.3 2.7h0m3.5-1.7h0m1.3 0.2h0m2.1 2.5h0m1.5-2.1h0m0.3 0.9h0m0.3-1.4h0m4.4-1.9h0m1.9 0.1h0m0.5 3.2h0m0.1 1.1h0m2.2 1.3h0m3.6-5.1h0m0.2 0.6h0m1.4 0.9h0m1.6-0.8h0m0 0.8h0m0.9-1h0m-46.9 9.6h0m2.9 0h0m0.3 0.5h0m0.5-3.9h0m0.6 2h0m0.8-2h0m0.2-1.3h0m2.2 1h0m0.2 3.3h0m1.5-1.2h0m0.2-1.3h0m0.1 2.7h0m0.2-1h0m1.9 1.9h0m1.5-3.4h0m1.6 3.3h0m0.5-2h0m0.3-3.5h0m1.1 4h0m1.7 1.7h0m2.8-3.5h0m0-0.8h0m1.8 0.3h0m1-1.3h0m2 3.2h0m0.8-3.5h0m1.1 2.8h0m2-0.9h0m0.3 1h0m1.4-0.5h0m1.4-0.3h0m1.9 1.5h0m1-2h0m2.7 3.7h0m4.6-5.4h0m0.7 2.1h0m0-2h0m0.1 2.3h0m-44.2 6.7h0m0.1-0.5h0m0.1-1.3h0m0.1 1.3h0m0-0.8h0m0.9-0.7h0m0.1 1.4h0m1-1.3h0m0.2 4.4h0m1.1-5.4h0m1.1 1.2h0m0.7-0.4h0m0.1 0.3h0m3.6 3.7h0m0.1-2.5h0m5.9-0.2h0m0.6 3.5h0m0.6-5.4h0m2.1 0.3h0m0.1 4.6h0m0.7-5h0m0.3 2.5h0m2.8 0.3h0m0.3-0.2h0m2.1 2.7h0m0.4-0.5h0m3.4-3.9h0m1.5-0.3h0m2.5 4.3h0m3.8-4.3h0m0.8 0.1h0m1.7 2.6h0m0.3 1h0m0.2-3.1h0m0.8 4.5h0m0.7-5.7h0m0.1 4.1h0m1.1 0h0m1.5-4h0m0.2 4.3h0m1.6-3.4h0m0.1 1.6h0m-44.2 8.6h0m0.9-1.6h0m2 1.7h0m0-4.5h0m0.3 4.5h0m0.3-0.7h0m2.2 1.1h0m0-3.4h0m1.3-2.2h0m0.7 3.7h0m1.2-3.9h0m0.5 3.8h0m1.2-2.7h0m1.5 4.6h0m3.8-1.9h0m1.2 0h0m0.3-2.8h0m0.6 0.5h0m0.3-1.3h0m1.2 5h0m1.9-4.4h0m0.3 2.4h0m1.1 1.9h0m4.4-0.6h0m0.2-4.6h0m1.3 4.3h0m2.7 0.3h0m1.9-1.7h0m0.5 2.5h0m3.7 0h0m0.7-4.4h0m3.9 2.6h0m-41.1 5.2h0m1.9-1.8h0m1.5 3.8h0m0.2-0.4h0m0.6-1.4h0m0.8 0.1h0m0.1-2.9h0m0.9 3.4h0m2.4 0.6h0m2.8-3.4h0m0.3 0.9h0m0 4.1h0m0.2-3.8h0m1.1 3.4h0m2.4-2.8h0m0.6-0.4h0m0.4 0.1h0m0.6 2.5h0m0.2-0.2h0m0.2-1.1h0m3.1 0.3h0m2.3-2.2h0m0.1 0.9h0m0.2 0.7h0m0.3-0.9h0m0.3 3.3h0m6.6 0h0m2.5-0.7h0m0.5-0.6h0m1.5-1h0m0.7-0.7h0m0.4 1.3h0m2.7-0.6h0m2.7-1h0m0.1 3.5h0m0.3-3.3h0m0.3 1.2h0m0.4-3.5h0m-44.2 6.6h0m0.2 1.6h0m0.2 3.3h0m1.7-4.1h0m0.4 0.9h0m0.3 3h0m0.2-5h0m1.3 5.3h0m0.2-1.1h0m0.9 0.8h0m0.6-4.2h0m1.5 1.3h0m0.3-2h0m1.9 1.3h0m0.3 0.4h0m2 1.1h0m0 0.9h0m0.5-2.7h0m0.1 3.2h0m0.1-2.5h0m1.5 2.9h0m3.1-4.8h0m3.8 0.5h0m1.9-0.4h0m1.6 2.6h0m0.4-0.6h0m0.1-1h0m0.7 4.3h0m1.5-3.2h0m3.6 0.4h0m0.9 1h0m3-3.8h0m0.8 2.1h0m0.3-2.1h0m1.3 0.7h0m0.1 3.5h0m0.5 1h0m0.4-1.9h0m1.1 0.8h0m0.6 0.6h0m0.1-3.4h0m0.3 3.7h0m0.7-2h0m0-2h0m0.8 0.9h0m0.5 0.8h0m0.2-2.4h0m0.4 3.7h0m-43.1 6.3h0m0.8-3.4h0m1.8 1.7h0m1.7-2.8h0m0.4 5h0m0.2-2.4h0m2.3 2.9h0m0.5-0.8h0m2.5-3h0m0.2-0.5h0m3.2 3.2h0m4.7-4.3h0m0.7 0.7h0m0.9 1.5h0m1.4 2.5h0m0.1 0.5h0m0.4-1.2h0m2.9-3h0m2.2 2.3h0m4.5-2.1h0m3.7 4h0m0.1 0h0m0.5 0.3h0m0.9-3h0m3.1 0.8h0m0.5 1.6h0m0.2-2h0m1.5 0.1h0m-41.5 4.2h0m0.3 2.8h0m0.2 1h0m0.4-4.8h0m0.3 0.4h0m0.6 2.2h0m0.5-0.2h0m0.3-0.4h0m0.3 1.6h0m1-1.5h0m2.2 0.4h0m0.6-1.2h0m1.1 2.4h0m0.3 0.6h0m0.3-1.5h0m0.3 0h0m0.1 1.6h0m0.1-4h0m1.8 0.6h0m0.1 4.6h0m0.1-1h0m0.4-0.1h0m0.9-3.9h0m2 2.9h0m1.6-1.2h0m1.3 0.8h0m0.4 1h0m0.5-3h0m0.1 3.3h0m0.7-1.3h0m0.7 2.2h0m1.5-4.6h0m0.2-0.8h0m0.8 1.2h0m1 3.6h0m1.8-4h0m0.9 3h0m0-2.5h0m0.6 2.2h0m4-3.3h0m0.2 4.8h0m0 0.6h0m2.6-4.8h0m0.6 2.8h0m0.4 0.1h0m1.6-3.4h0m0.8 1.9h0m1.1-0.2h0m0.9 0.3h0m0.9-1.7h0m-37.9 5.3h0m0.4-0.1h0m0.4 0.6h0m0.1-0.2h0m1.7 5.4h0m0.8-1.6h0m0.7-1.6h0m0.3-0.2h0m1.5-2.4h0m1.5 1.3h0m0.5 3.8h0m0.3-1.1h0m0.5-3.4h0m1.2-0.3h0m0.7 2.9h0m1-1.9h0m0.1 0.7h0m0.5 2.1h0m2.1-1.7h0m0.6 3.4h0m1.3-3.8h0m0.7 1.4h0m0.8 2h0m2.9-3.2h0m1 2.7h0m1.4-1h0m0.9-2.1h0m2.9 0.9h0m2-1.6h0m3.1 0.4h0m1.9 0h0m0.3-0.6h0m0-0.4h0m1.7-0.1h0m0.4 3h0m0.5-3.1h0m0.2 3.8h0m0.1-4.2h0m0.4 3.5h0m-39.4 5.4h0m0 0.2h0m1.2-2.9h0m1.8 2h0m1.7-1.1h0m0.1 4.3h0m1.9-2.2h0m0.2 0.9h0m1.5-0.5h0m0-2h0m1.4-0.5h0m2-0.7h0m0.7 4.5h0m1.2-2h0m2.7 1.2h0m1.1-3.8h0m0.6 4.1h0m0.5 0.5h0m0.1-3.7h0m0.1-0.1h0m0.2 1.6h0m0.6 2h0m0.3-2.1h0m0.6-0.5h0m0.1-2h0m0.5 2.6h0m3 2.1h0m0.4 0.6h0m1.8-0.8h0m0.1-3.1h0m1.2 3.8h0m0.2-0.4h0m1 0.1h0m0.5-2.5h0m1-2.1h0m1.1 4.2h0m0 0h0m2.3-3.9h0m0.3 1.9h0m0.5 0.4h0m0.6-2h0m3.4 2.8h0m0.7 1.6h0m-38.9 6h0m0.6 0.1h0m2.5-1.8h0m0 2.2h0m1.9-3.6h0m1.9 0.2h0m0.4 3.1h0m0.1-2.5h0m7.3-1.8h0m0.4 1.3h0m1.2 2.1h0m2.9-1.2h0m0.4-1.2h0m1.7-0.5h0m0.6 1.8h0m0.6 1.7h0m2.1-5.1h0m0.3-0.2h0m0.7 1.1h0m0.5 3.7h0m0.6-4.6h0m0.1 3.8h0m1.1-2.6h0m1.1 0.1h0m0.7-0.7h0m0.1 1.1h0m0-1.2h0m0.6 1.8h0m0.3 0h0m0.3-0.5h0m1.2 0.2h0m0.8-1.2h0m0.8 1.7h0m0.9 0.6h0m1.9 1.5h0m0.1-2.8h0m0.4 2.6h0m0.3-3.9h0m0 0.8h0m-35.4 8.8h0m1-1h0m0.7-2.3h0m0.6 0.8h0m0.3-0.8h0m0 0.5h0m1.2 4h0m0.3-3h0m0.3 0.5h0m0.3 1.5h0m0.4-2.1h0m0.3 3h0m0-3.1h0m0.8-0.5h0m0.2 0.4h0m0.6 0.5h0m0.1 2.6h0m0.7-3.4h0m0.8 4h0m1.3-2.4h0m2.7-2.4h0m0.4-0.7h0m0.8 3h0m0.4 1.6h0m1.2-2.9h0m0.5 3h0m0-4.2h0m1.9-0.8h0m0.6 3.5h0m1.8 1.6h0m2-4.8h0m3 1.2h0m1.2 1h0m1.1-0.7h0m0.4-0.5h0m0.1 2.3h0m2.5 0.1h0m1.5-3.1h0m0.1 0.7h0m0.1 2.8h0m0.3-2h0m1 0.5h0m0.3 2h0m0.1-1h0m-34.4 5.2h0m0.4 2.7h0m0.3-0.3h0m3.5-2.2h0m0.5-2.3h0m0.7 1.2h0m0.5-1.4h0m0.7 0.9h0m0.1 0.5h0m0.9-0.5h0m0.3-1.1h0m0.3 1.2h0m0.2-1.4h0m1.4 2.8h0m0 0.6h0m1.3 0.1h0m0.1 0.9h0m0.1 0.4h0m0.2-1.9h0m0.2 0.7h0m0.7 0.2h0m4.2-1.6h0m0.5 2.1h0m0.5-2h0m2-0.9h0m0.3 1h0m0.8 2.1h0m0.6-1.3h0m0.6-1.6h0m0.8 2.8h0m0.3-2.2h0m0.8 0.6h0m0.1 2.7h0m0.3 0.3h0m0.2-4.6h0m0.3-0.9h0m0.7 1.8h0m0.1 2.3h0m0.4 0.3h0m2.6-0.2h0m3.8-2.2h0m2.2-1.6h0m-36.4 11h0m0.9-5.2h0m0.9 4.1h0m0.3-4.8h0m2.4 0.6h0m0 2.7h0m0.6-0.8h0m0.4-2.4h0m0.8 1.3h0m0.3 1.8h0m0.4-0.8h0m0.7 0.8h0m1.1 1.1h0m0-2.9h0m0.4 1.1h0m0.3 0.6h0m0.2-0.1h0m0.2 2.1h0m0.1-5h0m0.1 5.8h0m1.5-3.9h0m1 2h0m0.2 1.1h0m0.2-0.1h0m0.7-1.3h0m1.2-1.3h0m0.4 0.5h0m2.4-1.5h0m0.7 2.6h0m0.4 0.4h0m0.7 1.6h0m0.6-1.3h0m0.4-0.1h0m0.5-0.6h0m0.2-3.7h0m0.5 3.3h0m2.1 0.3h0m1.7-1.6h0m0.3 1.6h0m0.1-3.5h0m1.4 1.4h0m0 2.1h0m0.8-3h0m1.8-0.3h0m0.9 2.4h0m0.3-2.9h0m1.3 3.9h0m1.4-3.7h0m0.5 0.9h0m-33.7 9.4h0m1.5-0.4h0m0.1-2.1h0m2.6 1h0m1.2 1.2h0m2.4-0.5h0m3.6-1.8h0m0.6 2.8h0m1.3-0.1h0m1-2.4h0m1.7 2.7h0m0.7-0.8h0m0.1 0.7h0m0.1-3.5h0m0.3 3.6h0m0.4-3.6h0m1.2 0h0m0 3.8h0m0.2-4.9h0m1.3 4.3h0m0.6-4h0m0.6 1.1h0m1.2 2.9h0m0.3-2.6h0m0.3 3.7h0m0-1.9h0m0.2-1.2h0m0.1 2.4h0m0 0.3h0m0.5 0.5h0m0.6-4.1h0m0.1 2.8h0m0.6-0.4h0m0.5 1.2h0m0.3-4.6h0m1.9 1.9h0m0.8 1h0m0.4-2.7h0m0.1 2h0m0-1.3h0m1-1.5h0m0.7 0.8h0m0.5 3.1h0m0.1-1.5h0m1.7-0.9h0m-33.6 9.2h0m1-2.3h0m1-2h0m1.6 4.7h0m0.3-1.1h0m0.6-2.3h0m1.2 1.2h0m0.4 0.9h0m2.3-3.5h0m0.7 2.7h0m0.2 2.2h0m0-2.3h0m0.3 1.8h0m1-1.4h0m2.3-2.1h0m0-0.4h0m0.4 0h0m0.3 4.2h0m0.8-1h0m1.5-2.5h0m0.8 0.8h0m0.6-1.3h0m0.1-1h0m0.2 1.8h0m0.8-1.6h0m0.3 1.1h0m0.2 2.9h0m1.8-0.8h0m0.1-1.3h0m0 1.7h0m0.2-3.1h0m0.1 0.7h0m0.9-0.1h0m0.2 0h0m2.5 4.3h0m0.1-2.6h0m2.6 2.6h0m1.1-5.6h0m1.2-0.1h0m0.5 5.6h0m0.6-3.8h0m0.2-1h0m-30.8 7h0m1.9 4.1h0m0.6-2.2h0m2.8 1.3h0m1.7-0.6h0m0.3-2.4h0m0.3-0.8h0m1.9 1.3h0m0.3 3.1h0m0.2-0.7h0m1.8 0.8h0m1.2-3.3h0m0.2-1.4h0m1 4.4h0m0.4-3.4h0m1.1 1.9h0m0.2 1.1h0m0.1-3.3h0m2.1-0.8h0m1.4 2.9h0m0.4 0.8h0m0.1-0.6h0m0 1.8h0m0.5-4.6h0m1.1 1.3h0m1.2 0.3h0m0 1.7h0m1.1-2.6h0m0 0.4h0m0.3 1.6h0m0.4-1.7h0m2.8 2h0m3-1.3h0m-30.4 5.7h0m2.7-2.3h0m0 5.3h0m1.6-5h0m0.3-0.3h0m1.1 1.2h0m0.6 3.8h0m0.1-2.8h0m0.3-1.8h0m0.2 2.1h0m1.8 1.8h0m0.6 1h0m0.6-4h0m0.1 0.2h0m0.3 0.7h0m0.7-1.4h0m3.5 0.4h0m0.9 1.8h0m2.6-0.7h0m0.2 0.8h0m1.2-0.2h0m0.8 0.4h0m0.9-3.2h0m1.9 0.5h0m1.3 3.8h0m1-2.8h0m2.1 2.6h0m1 0.2h0m0.1-2.4h0m-29 8.9h0m1.1-0.6h0m0.1-2.2h0m1.5-0.4h0m0.9 3.6h0m0.9-4.4h0m0 0h0m0.5-0.8h0m0.6 5h0m0.9-3.2h0m1.2-0.2h0m0.7 2.2h0m0.6-0.7h0m0.8 0.5h0m0.9-1.5h0m0.8-1.5h0m0 3.5h0m1.4-0.8h0m0.5-2.7h0m0.3 3.7h0m1.7 0.9h0m0.6-3.3h0m0.7 0h0m0.7-1.3h0m0.2 4.2h0m1.5-3.2h0m0.7 3.9h0m1.2-5.7h0m0.2 5.1h0m0.1-1.7h0m1.6-1.8h0m2.2 3.6h0m2.6-2.7h0m-26.5 4.5h0m0.1-0.1h0m0 2.5h0m0 1.3h0m0.1-1.5h0m0.5 1.6h0m0.3-5h0m0.3 5.1h0m1.2 0.3h0m0.7-5.1h0m0.7-0.2h0m0.5 2h0m0 1.6h0m0.2-1.1h0m1-0.8h0m3.7-1.8h0m0.1 2.4h0m0.6-0.4h0m0.3 2.8h0m1.1-2.7h0m2.6-0.4h0m2.6-1.2h0m0.1 0.8h0m0.9 3.9h0m0-3.8h0m0.2-0.6h0m0.8 3.3h0m1.9 1.7h0m0-1.7h0m0.6 1.4h0m0.4-4.5h0m-22.3 7.6h0m0.1 0.8h0m2.5 1.3h0m0.3-4.5h0m1.4 2.9h0m1.6-0.4h0m1.1-1.8h0m0.3 3.6h0m0-4.5h0m0.3 5.2h0m0.5 0.3h0m4.3-1.4h0m1.1-1.7h0m1.5-0.3h0m0.8-1.4h0m0.7 1.2h0m0.1-1.6h0m2 2.6h0m0.4-0.2h0m0.4 2.2h0m0.1-1.1h0m0.5-1.4h0m1.5 1.3h0m0.6 0.5h0m2 1.1h0m1-2.9h0m-25.1 5h0m0.4 0.1h0m0.6-0.5h0m1.5 4.5h0m0.6-3.8h0m1.2-1h0m0.1 2.7h0m0.8 0.1h0m2.4 0.6h0m0-2.8h0m0.4-0.6h0m0.1 1.3h0m0.1 1.6h0m3.2 0.9h0m1.3-4.4h0m2.4 3.6h0m0.6 1.9h0m0.3-1h0m1.1-0.4h0m1.1 1.8h0m0.1-4.5h0m0.4 3.7h0m0.2-0.7h0m1.8-2.7h0m1.9-0.1h0m-22.7 6.9h0m1.5-0.4h0m2.8-1.2h0m0.7 4.9h0m1.6-2.3h0m0.4-2.8h0m3.7 1h0m0.5 3.1h0m0.1 0.2h0m1.3-0.6h0m1.8 0.3h0m0-3h0m2.5 0.4h0m1.8 3.6h0m0.5-3.3h0m1.1 0h0m0.6-2.4h0m-19.3 9.8h0m1.2-2.9h0m1.3 0.7h0m1.8 4.2h0m1.6-4.8h0m0.4 3.1h0m2.9-2.4h0m0.6 4h0m0.7-5.2h0m1.8 4.2h0m0.7-2.6h0m0.9-0.4h0m1.6 0.1h0m-17 9h0m0.5-0.9h0m2.2-3h0m0.3 1.8h0m1.5-0.9h0m0.2 3.1h0m1.6-3.6h0m1.1 1.6h0m0.3-0.9h0m0 0.3h0m1 2.2h0m0.9-3h0m0.7-0.5h0m0.2 3.4h0m0.7-2h0m0.1-1.8h0m0.2 5h0m0.8-2.2h0m2.1-2.6h0m0.5 4.8h0m0.3 0h0m0-3h0m0.9 0.9h0m-16.4 3.1h0m1.9 0.6h0m0.5 0.8h0m0.5-1.3h0m0.5 0.6h0m2.8 1.2h0m0.6-2h0m2.2 0.9h0m0.4-0.5h0m2.6 1.2h0m0.9-1.5h0m1.3-0.1h0m1.4 0.6h0" stroke="#77BD87" stroke-width="4.1" stroke-linecap="round" fill="none"/>
<path d="M734 1125.7 734 1121.3 734 1116.9 734 1112.5 762.1 1112.5 762.1 1116.9 762.1 1121.3 762.1 1125.7Z" fill="#070707"/>
<path d="M746.2 1115.8 746 1109.4 745.8 1102.9 745.6 1096.4 745.4 1090 745.2 1083.5 745 1077 744.8 1070.6 744.5 1064.1 744.3 1057.6 744 1051.2 743.9 1044.7 743.8 1038.2 743.7 1031.8 743.6 1025.3 743.5 1018.8 743.4 1012.4 743.3 1005.9 743.2 999.4 743 993 742.8 986.5 742.6 980 742.4 973.6 742.3 967.1 742.1 960.6 741.9 954.2 741.8 947.7 741.6 941.2 741.5 934.8 741.3 928.3 741.3 928.3 741.5 934.8 741.6 941.2 741 947.7 738.6 954.2 736.1 960.6 735.7 967.1 735.6 973.6 735.4 980 735.2 986.5 735 993 735 999.4 735 1005.9 734.9 1012.4 734.9 1018.8 734.9 1025.3 734.9 1031.8 734.9 1038.2 734.8 1044.7 734.8 1051.2 734.8 1057.6 734.8 1064.1 734.7 1070.6 734.7 1077 734.7 1083.5 734.7 1090 734.7 1096.4 734.6 1102.9 734.6 1109.4 734.6 1115.8Z" fill="#070707"/>
<path d="M751.2 1115.8 751.3 1111.6 751.5 1107.4 751.6 1103.2 751.7 1099 751.8 1094.8 752 1090.6 752.1 1086.4 752.2 1082.2 752.4 1078.1 752.5 1073.9 752.7 1069.7 752.8 1065.5 753 1061.3 753.1 1057.1 753.3 1052.9 753.4 1048.7 753.5 1044.5 753.6 1040.3 753.6 1036.1 753.7 1031.9 753.8 1027.7 753.9 1023.5 753.9 1019.3 754 1015.1 754 1010.9 754.1 1006.7 754.2 1002.5 754.3 998.3 754.4 994.1 754.4 994.1 754.3 998.3 754.2 1002.5 754.1 1006.7 754.8 1010.9 756.4 1015.1 758 1019.3 759.6 1023.5 760.9 1027.7 760.9 1031.9 761 1036.1 761 1040.3 761 1044.5 761 1048.7 761 1052.9 761.1 1057.1 761.1 1061.3 761.1 1065.5 761.1 1069.7 761.2 1073.9 761.2 1078.1 761.2 1082.2 761.2 1086.4 761.3 1090.6 761.3 1094.8 761.3 1099 761.3 1103.2 761.4 1107.4 761.4 1111.6 761.4 1115.8Z" fill="#070707"/>
<path d="M748.7 1148.7 748.7 1143.8 748.6 1138.9 748.3 1133.9 747.9 1129 747.5 1124.1 747.1 1119.1 746.7 1114.2 746.6 1109.2 750.8 1109.2 750.6 1114.2 750.3 1119.1 749.9 1124.1 749.5 1129 749.1 1133.9 748.8 1138.9 748.7 1143.8 748.7 1148.7Z" fill="#fff"/>
<path d="M734.5 830.5h0m4.4 0.5h0m1.1-1.2h0m18.6 0.4h0m-23.2 4.3h0m0.2-0.8h0m2.3-2.2h0m0.2 4.1h0m0.6-2.8h0m1.4-0.6h0m0.1 0.2h0m19.6 0.9h0m-25.4 8.4h0m1.5-1.5h0m0.3 2.3h0m0.2-3.6h0m0.6 4h0m0-2h0m0 0.4h0m0.5-4.1h0m0.2 1.3h0m0 3.5h0m0.1-1.5h0m0.2-3.1h0m0.5 4.1h0m0.3 1h0m0-3.4h0m0.3 2.1h0m0-0.4h0m0.3 0h0m0.3-2.7h0m0.2 1.9h0m0.2-1h0m0.4 0.9h0m17.7-1.5h0m0.5 3.4h0m2.4-1.7h0m0.8 1.6h0m0.1-0.5h0m-26.4 2.5h0m1.6 0.7h0m0.3 1.6h0m0.3-0.8h0m0-0.3h0m0.4 3.1h0m0.6-3.3h0m0.2 1.1h0m18 3h0m1.8-4.6h0m1.1 4.5h0m1.2-1.4h0m0.3-3.9h0m0.2 0.4h0m0.5 0.5h0m-27.6 10.4h0m0.7-0.6h0m0.5-2.7h0m0.1-2.4h0m0.1 3h0m0.4-1.2h0m0.3 3.8h0m0.1-1.1h0m0.4-1.4h0m0.1-2.2h0m0.1 5h0m0.8-1.6h0m0.3-1.1h0m0.1-1.1h0m0.9 2.7h0m0.2-2.4h0m0.2 3.1h0m0.1-1.3h0m0.2 1.7h0m0-0.1h0m17.9-5.5h0m0.3 1h0m0.6 3.8h0m-23.2 4.2h0m0.3 0.4h0m0.2-0.7h0m0.1 0.1h0m1 2.6h0m0.9-5.1h0m0.3 0.4h0m0.4 5h0m0.1-1.5h0m0.3 1.1h0m0.3-1.6h0m0.2-3.1h0m0.2 3.2h0m19-3.1h0m0.7-0.7h0m0.7 2.3h0m-26 7.4h0m0-0.5h0m0.5 0.7h0m0.5 1.8h0m0.2-3.4h0m0.3 0.5h0m0.3 0.4h0m0.3-3.5h0m0.4 4.4h0m0-2.4h0m0.2-0.2h0m0.2-1h0m0.8 2h0m0-0.7h0m0.1-1.2h0m0.1 2.7h0m0.4-2h0m0.2 0.3h0m0.3-0.6h0m0 0.6h0m0.2-0.4h0m0.5 3.4h0m18.1-3.3h0m1.4-0.5h0m1.4-0.6h0m0 0.2h0m1.2 4.7h0m-27.8 0.9h0m1.9 0.1h0m0.2 2.5h0m0.2-0.3h0m0.5 2.1h0m0.3-4.1h0m0.3 2.1h0m0.1-1.8h0m0.3 4.5h0m0.1 0.3h0m0.3-0.3h0m0.5-0.8h0m0.1 1.3h0m0.7-3.5h0m0.3 2.9h0m0.2-1.2h0m0.2-1.4h0m0.1 1.3h0m18 1.7h0m1.2-2.3h0m0.3-3.3h0m1.6 4.3h0m1-3h0m-28.2 8.1h0m0.7-2h0m0 0h0m0.9 2.6h0m0.1-2.3h0m0.2 4h0m1.7-1.7h0m0-2.6h0m0.1-0.8h0m0.1 0.4h0m0.4 4.3h0m0.4 0.1h0m0.4-4.7h0m18.2 0.1h0m0.7 3.4h0m0.1-2.5h0m0.2-1.3h0m3.4 4.9h0m-26.3 4.4h0m0.8 2h0m0.2 0h0m1.2-2.4h0m0.4 2.3h0m0.3-2.5h0m0 2.7h0m0.2-5.1h0m0.6 3.4h0m0.1 0.5h0m0.4-3.5h0m17.4-0.2h0m0.5 0.1h0m0.2-0.8h0m0 1.1h0m0.6 4h0m1.1-1.4h0m0.6-2h0m-24.9 5.9h0m1.3 3.2h0m0.9 0h0m0.1-1.1h0m0 1.4h0m0.9-4.1h0m0.1 1.5h0m0 1h0m0 1.5h0m0.7-4.9h0m0.5 1.1h0m0.2 4.2h0m0-1.2h0m0.3-4.2h0m21.5 4.6h0m0.2-3.2h0m-26.8 6.4h0m0.6 1.1h0m0-1.7h0m0.4 2.7h0m0.6-3h0m0.9 0h0m0.2 4.2h0m0.2-1h0m0-0.6h0m0.2 0h0m0.2-1.1h0m0.5 0.5h0m1-1.2h0m0 3.7h0m0-1.5h0m0.2-3.1h0m17.1 0.7h0m0.2 3.8h0m0.2-4.6h0m1.7 4.1h0m1.1-0.6h0m0.4-0.1h0m0.2 1h0m0.8 0h0m-27.7 6.3h0m0.2-2.6h0m0.2 0.5h0m0.1-1.9h0m1.6 0.5h0m0.8 1.2h0m0.3 2.5h0m0.3-4h0m1.2-1.5h0m1.1 4.9h0m0.1-3.8h0m16.9 2h0m0-2.3h0m0.5 1.1h0m0.8 0.3h0m0.5-2.3h0m0.5 3.3h0m0.4-1.8h0m1.3 3.1h0m0.2-4.7h0m0.3 4.4h0m-27 2.4h0m0.3-0.5h0m0.7 5.2h0m0.9-0.5h0m0-2.7h0m0.2-1.2h0m0.1 4.2h0m0.4-4.4h0m0.1 2.5h0m0 0h0m0.3-1.9h0m0 4.2h0m0.3 0h0m0.1-3.8h0m0.2 2.4h0m0.1-3.5h0m0.2 4.2h0m0.1-1.8h0m0.4-0.8h0m0 1.6h0m0.7 1.3h0m0.3-4.7h0m0 3.2h0m0.3-2.1h0m17.1 0.9h0m0.8 0.6h0m0.1 0.7h0m1.1-2.8h0m1.1 4.2h0m0.4-2.8h0m-26.6 3.6h0m0.5 5.4h0m0.4-1.7h0m0.4-2.4h0m0.3-1.5h0m0.4 4.8h0m0.3-2.4h0m0.1 3.3h0m1.6-5.1h0m0.1 2.5h0m0.1 1.4h0m0.2 0.1h0m0 0.6h0m0.5-2.8h0m0.3-0.1h0m0.3-2.3h0m0.3 4.7h0m17.4-4.7h0m0.5 4.7h0m1.6-3.6h0m1.1 0.6h0m0.6 0.4h0m1.2-0.2h0m0-1.7h0m-27.9 10.9h0m0.1-2.9h0m0.2-0.7h0m0.5 2.8h0m0.1-2.7h0m0.5-0.9h0m0 0.1h0m0.9 3.3h0m0.1-3.8h0m0.2 4.2h0m0.8-0.6h0m0.1 0.2h0m0.7-2.4h0m0.2-0.1h0m0.3 3.8h0m0.4-2.1h0m0.6 2h0m0-4.1h0m0.1 2.9h0m0.1-1.6h0m0 1.5h0m0.1-1h0m16.6-1.7h0m0.2 3.2h0m1.5-0.4h0m0-2.7h0m1 3.9h0m1.3-4h0m-27.2 4.8h0m0.8 0.5h0m0.7 4.8h0m0-1.6h0m0.2-3h0m0.1 2h0m0.8-2.4h0m0.6 4.3h0m0.2-1.5h0m0.1 0.9h0m0.3-0.9h0m0.2-2.1h0m0.1-1h0m0.7 5.1h0m0.5-2.9h0m0.3 2.9h0m0.1 0.2h0m0.2-4.5h0m0.1 2.9h0m0-2.8h0m0.1 0.4h0m0.1 2.1h0m0.5-3h0m16.8 2.7h0m0.6 2.3h0m0.9-0.8h0m1.8 0.6h0m1.4-1.7h0m0.2 0h0m-28.3 3.7h0m0 3.6h0m0.2-4.1h0m0.1 4h0m0.2-3.8h0m0.2 0.9h0m0.2-1.8h0m0 1.9h0m0.6 2.6h0m1.4-3.7h0m0.1-0.5h0m0 1.7h0m0.4-1.3h0m0 3.7h0m0.2-2h0m0.1 3.3h0m0.3-3.3h0m0.5 1.7h0m0.5-3h0m0.3 2.4h0m0.3-2.8h0m0.5 4.8h0m0-4.8h0m16.7-0.7h0m0.4 1.4h0m0.1-1.5h0m1.3 0.7h0m1.2 4.8h0m1-2.6h0m1.6 1.5h0m-27.7 4.4h0m0.3-0.5h0m1.1 0.9h0m0.1 2.2h0m0-2h0m0.1 1.7h0m0.2-0.9h0m0.7-1.9h0m0.3 0.3h0m0.3 2.8h0m0.2-1.1h0m0.1 0.7h0m0.5-4.1h0m0.5 4.1h0m0.2-2.2h0m0.5 0.7h0m0 2.2h0m0.3-5.4h0m0.2 1.7h0m0.1 2.7h0m0.4-1.5h0m0 2.5h0m0.1-5.6h0m15.5 1h0m0.5 0.9h0m0.4-0.2h0m0.2 1.8h0m0 2.3h0m0.1-4.3h0m0.1-0.6h0m0.6 1.7h0m1.4-0.3h0m0.2-1.9h0m0.5 1.7h0m0.5 1.1h0m0-1.1h0m0.2-0.5h0m0.2 4.1h0m0.2-2.6h0m0.1-2.4h0m0.5 1.4h0m0.4-0.7h0m-27.8 7.8h0m0 1.9h0m0.3-2.1h0m0.6 0h0m0.7 1.6h0m0.1-2.1h0m0.1 0.2h0m0 3h0m0.1-5.4h0m0.2 0.9h0m0 2.8h0m0.1-1.1h0m0-0.1h0m0-2.7h0m0.4 3.7h0m0.1-0.9h0m0.2 1h0m0.1-1.3h0m0.6-2.8h0m0.2 5.8h0m0.1-3.2h0m0-1.3h0m0.3 4.7h0m0.1-3.3h0m0.1-1h0m0.2 0.4h0m0.4 1.3h0m0.1-0.4h0m0.2-0.6h0m0 2.3h0m0.2-3.4h0m0.6 1.4h0m0.1 2.7h0m0.1-2.5h0m0-0.3h0m0 1.5h0m15.1-0.9h0m0.8-1.3h0m0.8-1.7h0m0.9 5.5h0m0.4-4.2h0m0.2 3.5h0m0.3 0.9h0m2-5h0m0.4 0.4h0m-27.6 7.9h0m0.3-2.6h0m0.5 2.9h0m0.4-1.4h0m0.2-1.6h0m0.2 2h0m0-0.3h0m0.2 3.3h0m0.3-4.9h0m0.4 1.5h0m0.4-1.5h0m0 1.9h0m0.2 0.3h0m0.1 0h0m0.3-0.7h0m0.4 0.6h0m0.6-0.8h0m0.2 3.1h0m1.1 0.3h0m0.4-1.7h0m0.1-1.7h0m0.6 2.3h0m14.9 1.5h0m0-5.6h0m0.2 0.9h0m0.9 3.5h0m0.3-1h0m0.2 0h0m0.2 0.5h0m0.2-3.9h0m0 2h0m1.3 0.4h0m0.3 3.4h0m0.2-1.4h0m2.1-1h0m0.4-0.7h0m-28.3 4.2h0m0.5 3.2h0m0.4-1.2h0m0.2 2.7h0m0.6-4.3h0m0.1 0.2h0m0.3 1.5h0m0.1-0.3h0m0.2-1.4h0m0.5 0.2h0m1.1-1.1h0m0.6 4.9h0m0.2-5h0m0 5.3h0m0.6 0.2h0m0.4-5.4h0m0.4 3.7h0m0-1.5h0m0.3 2.5h0m0.4-1.8h0m0.3-0.1h0m14.5 0.6h0m1.5-2.3h0m0.3 0.1h0m0.7 0.2h0m0 1.9h0m0.8-2.2h0m0.5 0h0m0.5-1.3h0m0.2-0.2h0m0.1 3.1h0m0 2.3h0m0.2-4.6h0m0.6 3.4h0m0.1-2.8h0m0.3 1.2h0m0 0.3h0m0.1-1.3h0m0.4 4h0m-25.9 3.6h0m0.5 0h0m0.9-1.9h0m0.1 2.2h0m0-0.3h0m0.4-1.6h0m0.4 2.8h0m0.1-0.2h0m0.6 1.3h0m0.2-1.4h0m0.3-2.9h0m0.3 1.9h0m0 0.6h0m0.3 0.2h0m0-0.3h0m0.3-0.9h0m0.1 0.6h0m0.2-0.2h0m0.1 2.5h0m0.3-2.7h0m14.5 1.1h0m0.1-4h0m0.3 1.1h0m0.2 0.5h0m0-1h0m0.7 5.1h0m0.4-1.7h0m1.9-3.3h0m1 3.6h0m1.4-1.8h0m0.1 0.3h0m-27.8 6.1h0m0.3-1.2h0m0.2 3h0m2-2.4h0m1 3.2h0m0.3-2.3h0m0.6-2.1h0m0 2.7h0m0-1h0m0.3-1.3h0m0.3 2h0m0.1 0.8h0m0.2-3.1h0m0.2 2.4h0m0.6-0.8h0m0.9-2.8h0m0 2.9h0m0.4 2.4h0m14.1-4.7h0m0.1 2.5h0m0.1 1.7h0m0.2-2.7h0m0.1 0.2h0m0.4-0.9h0m0.9 4.2h0m0.9-0.5h0m0-0.1h0m0.3 0.2h0m0.5-5.1h0m0.3 0.1h0m0.2 2.5h0m1.7-2.8h0m0.2 5.7h0m0.1-5.1h0m0.4 1h0m0 4.2h0m-27.5 0.7h0m0.1 4.9h0m0.1 0.3h0m0.1-3.9h0m0.3-1.6h0m0.3 0.9h0m0.5 2.5h0m1.3 0.9h0m0.1-3.8h0m0 5.2h0m0.2-5.5h0m0.2 2.5h0m0.4 0.2h0m0.2 2.1h0m0.3 0.1h0m0-1.7h0m0.2 0.9h0m0-1.2h0m0.2 1.6h0m0.1 0.8h0m0.4-1h0m0.8-4.5h0m0.2 4.2h0m0.6-0.4h0m0.8-1.1h0m13.8-1.3h0m0.7 0.1h0m0.8 2.6h0m0-0.3h0m0.3-0.1h0m0.2-3h0m0 2.4h0m0.3-2.1h0m0.5 1.2h0m0.3-1.7h0m0.1 1.2h0m0.4-1.4h0m0 1h0m0.2 0.3h0m0.3 1.6h0m0.7-3.2h0m0.4 0.6h0m0.6 1.8h0m0 1.7h0m-27.5 2.7h0m0.3 3.2h0m0.2-0.2h0m0.3-3.3h0m0.5 4h0m0.2-4.4h0m0.5 4.6h0m0.1 0.9h0m0.1-3.7h0m0-0.2h0m0.7 3.9h0m0.6-3.8h0m0 2.3h0m0.9-1.5h0m0.1 0.6h0m0.3-1.2h0m0.1 0.3h0m0.1 2.4h0m0.2-4.1h0m0.6-0.4h0m0.1 5.5h0m0.5-2.2h0m0 0.9h0m0.2-4.2h0m0.1 1.1h0m1 0.2h0m13.9-1.2h0m0.5 2.5h0m0.6-0.2h0m0.4-2h0m0.1 4.5h0m0.1-2.1h0m0.4 0.9h0m0.3-1.7h0m0.1-0.2h0m3 0.7h0m0.6-2.2h0m0.1 1.3h0m0.3-1.7h0m0.2 2.8h0m0.1-0.5h0m-27.8 8.9h0m0.2-0.4h0m0-3.6h0m0.3 3.3h0m0.5-1.8h0m0.2 0.4h0m0.1-1.4h0m0.5-0.4h0m0.2 4.3h0m0.1-1.2h0m0.6-4h0m0.1 1h0m0.1 4.2h0m0.1-2.6h0m0.3-1.6h0m0.2-0.2h0m0.2 1.3h0m0.2-1h0m0-1.5h0m0.2 1.3h0m0.3 0.8h0m1.4 0.1h0m0.2 0.3h0m0 1.7h0m0.3-0.6h0m0.1-2.3h0m0.2 0.2h0m0.5 1.3h0m0.3-1h0m0-0.2h0m13.5 0.6h0m0.2 0.2h0m0.3 2.7h0m0.1-4.7h0m0.3 1.8h0m0.7 1.8h0m0.2-0.7h0m0 0.3h0m0.1-2.2h0m0.5-1h0m0.2 2.4h0m0.2-0.4h0m0.5-1.7h0m0.2 4.6h0m0.3-5.4h0m0.7 1.7h0m1.8 3.3h0m-27.7 1.8h0m0.3-0.9h0m0 1.1h0m0.4 0.9h0m0.9-1.4h0m0.9 4.1h0m0-0.8h0m0.2-0.2h0m0.2-0.4h0m0-1.9h0m0.1 1.6h0m0.1 0.1h0m0 0.4h0m0.1 0.1h0m0.8-1.3h0m0.1-0.1h0m0.2 0.6h0m0 0.5h0m0.2 0.7h0m0.2 0.7h0m0.1 0.8h0m0.2-1.3h0m0.1-2.1h0m0.2 3.1h0m0.5-1.7h0m0.4-0.2h0m0.2 1.8h0m0.5-0.2h0m0.3 0.7h0m0.1-2.3h0m0.1-2.7h0m0.3 0.2h0m0.3 1.4h0m0.1-0.1h0m0 2.6h0m13.9-1.8h0m0 0.9h0m1.6-2.2h0m0.3-1h0m0.2 1.1h0m0.1-0.1h0m1.1 4h0m0.5 0.1h0m0.7-4.2h0m0.2-1.4h0m1.3 3.2h0m-28 3.5h0m1.6 4h0m0.1-4.7h0m0.1 2.1h0m0.9 1.4h0m0.3 1.5h0m0.1-3.6h0m0 0.7h0m0.7-0.5h0m0.3 1.8h0m0.1-0.5h0m1-2.2h0m0.1 0.9h0m0.1-0.6h0m0.2 3.9h0m0.1 0.7h0m0.1-4.3h0m0.5 1.3h0m0-0.7h0m0.4-1.3h0m0.2 4.9h0m0.2-4.4h0m0.2 3.8h0m0.6-2.6h0m0.3 3h0m13-1.6h0m0.3-1.1h0m0.4 0.4h0m0.2 1.3h0m0.5-2.9h0m0.4 3.4h0m0.5-4.6h0m0.2 0.4h0m0.6 1.4h0m0.1-1.9h0m0.1 2.1h0m0.5 3.1h0m0.5-5.2h0m1.3 0.3h0m0.6 4.7h0m0.6-0.8h0m0.2-3.2h0m-28 7h0m0 1.2h0m0.2-0.8h0m0.7 0.2h0m0.6 2.1h0m0.4 0.2h0m0-5.1h0m0.1 4.9h0m0.1-2.6h0m0.2 1.2h0m0.1 0h0m0.2 1.7h0m0-1.1h0m0.1 1.5h0m0.5-5.2h0m0.2 0.1h0m0.2 4h0m0.2-3.3h0m0.1 0.1h0m0.4 0.2h0m0.6 2.4h0m1.1-3.9h0m0.3 1.4h0m0.5 4.2h0m0.3 0h0m0.2-0.2h0m0.1-3.8h0m0 3.4h0m13.7-1.8h0m0.2 1.2h0m0.1-4.1h0m0.5 2h0m0.9 2.5h0m0.3-0.8h0m0-1.6h0m0.1 1.5h0m0-0.9h0m0.2-2.7h0m0.2 4.4h0m1.1-4.7h0m2.5 2.3h0m0.4-1.2h0m0.2 0.8h0m-28.1 8.9h0m0.8-4.5h0m0.1 0.6h0m0.5 1.6h0m0.2-0.6h0m0.4 1.5h0m0.2 1.1h0m0.1 0.7h0m0.1-3.6h0m0 0.7h0m0-1h0m0.1 0.7h0m0 0.1h0m0.9 2.5h0m0.2 0.6h0m0.2-5.2h0m0.1 5.1h0m0.2-3h0m0.3-1.2h0m0.6 1.2h0m0.2-2h0m0 0.5h0m0.2 2.7h0m0.1 0.4h0m0.7-0.2h0m0.2 0.5h0m0.3 1.3h0m0.1-5.3h0m0 0.1h0m0.5 5.3h0m0.1-1.8h0m0.4-2.7h0m0.6 0.5h0m0.3-1h0m12 1.7h0m0 2h0m1.4 0.5h0m0 0h0m0.1-1.4h0m0.2-0.6h0m0.3-1.5h0m0.2 2.2h0m0.5-1.8h0m0.1 1h0m2.4 2.6h0m0.2-0.3h0m0.1-4.3h0m0 3.7h0m0.6-1.1h0m0.4-2.4h0m0.9 3.6h0m-28 7.5h0m0.1-4.9h0m0.9 2.7h0m0 2.1h0m0.3-1.5h0m0.3 0.9h0m0.2-4.6h0m0.1 2.5h0m0.3 2h0m0.3-0.9h0m0.1 1.5h0m0.2-2.1h0m0.5-2.9h0m0.2 2h0m0.3 1.7h0m0.2-1.5h0m0.4 0.1h0m0.7-2.8h0m0 1.7h0m0.7 2.1h0m1.1-0.7h0m0.2-2.5h0m0.1 0.4h0m0.5 3.1h0m1-0.8h0m11.5 1.5h0m0.4-0.3h0m0.6-4.2h0m0.3 0.4h0m0 3.1h0m0.8-2h0m0.4-0.9h0m0.1 4.3h0m0.8-5.4h0m0.7 3.8h0m0.4 0.8h0m0.5-1.4h0m0.2 2.1h0m0.1 0.2h0m0.3-1.4h0m0.7 0.1h0m0 1.7h0m0.3-0.8h0m0.1-1.2h0m0.4 1.9h0m0-3.5h0m0.1 1.6h0m0.3-0.5h0m0.2-3h0m0 3.5h0m0 1.6h0m0.3 0.3h0m-28.3 5h0m0.1-2.6h0m1.3 0.2h0m0.5-1.5h0m0.3 4.5h0m0.1-2h0m0.4-0.1h0m0.2-1.5h0m0.2 3h0m0.1-2.6h0m0.9 1.8h0m0.7-3h0m0.2 0.3h0m0.5 4.2h0m0.4-5.2h0m0.2 1.5h0m0.3 2.4h0m0.1 1h0m0.2-0.5h0m0.4-3.9h0m0.2 2.1h0m0.3-0.6h0m0.1 0.4h0m0.3 1h0m0-2.5h0m0.3 4.5h0m0.3-3.9h0m11.9 3.8h0m0-3.2h0m0.3-1.1h0m0.1 3.1h0m0.7 0.6h0m0.1 0.8h0m0.5-3.2h0m0.1-0.4h0m0.1-1.3h0m0.1 2.7h0m0.2-2.1h0m0.3 0.7h0m0.5 0.8h0m0.3 2.5h0m0.2-4.5h0m0 3.8h0m0.5-2.4h0m0.4-0.3h0m0.1 3.8h0m0.1-1.4h0m0.5-2.4h0m0.5 1.8h0m0.2-0.3h0m0.1-1.9h0m1.3-0.7h0m0.5 2.7h0m-27.8 8.3h0m0.3-4.3h0m0.1 1.8h0m0.2-1.6h0m0.5 1.5h0m0.3-1.9h0m0 4.4h0m0.2-2.7h0m0.2 0.4h0m0.9 2h0m0.1-2.6h0m0.3-1.1h0m0.9 0.5h0m0.5-0.7h0m0.1 0.9h0m0.3-1.5h0m0-0.5h0m0.1 2h0m0.2 2.4h0m0.1-1.4h0m0-3.3h0m1 3.3h0m0.1 1.1h0m0.2-0.9h0m0.3 1.4h0m0.1-4.5h0m0.6 3.4h0m0.2-0.8h0m0.1-2.3h0m0-0.4h0m0.3 5.4h0m0.2-3.4h0m0.1-1.8h0m11.3 2.7h0m0.1-0.9h0m0.1-0.5h0m0.3-0.1h0m0.2 4h0m0.3-4.6h0m0.1 3.5h0m0.2-1.3h0m0.2-0.6h0m0.9-1.2h0m0.1 3.1h0m0.5-1.4h0m0.1-0.4h0m0.5 1.7h0m0.8-2h0m1 3h0m0.5-3.6h0m0.2 2.1h0m0 0.4h0m0.1-0.4h0m0.1-0.7h0m0.2-3.4h0m0 4.1h0m0.3-2.4h0m0.7 2.4h0m0-1.4h0m0.6 1.9h0m-28.1 4.3h0m0.3-2.7h0m0.2-0.3h0m0.1 4.3h0m0.1 0.9h0m0.3-1.8h0m1.1 1.6h0m0.5-2.2h0m0.2 2.9h0m0-0.1h0m0.6-0.7h0m0.7-3.3h0m0 4h0m0.2-1h0m1-3.5h0m0.7-0.4h0m0.5 1.8h0m0.3-2.3h0m0.2 3.9h0m0.1-4h0m0.2 3.9h0m0.1-0.8h0m0.1-2.2h0m1.4 4.7h0m11.4-4h0m0 0.6h0m0.7-1.5h0m0.7 2.4h0m0.7 1.2h0m0.1 1.2h0m0.3-5.2h0m0.2 5.5h0m0.1-3.3h0m0.2 2.3h0m0.2-4.9h0m0.1 3.9h0m1.1 1.7h0m0.2-4.7h0m0.6 1.5h0m0.4 3.3h0m0.3-2.6h0m0.4-1h0m0 0.5h0m1.2 0.3h0m0.1 1.7h0m-28 3.8h0m0 2.2h0m0-4h0m0.3 4.2h0m0.7 0.2h0m0-0.3h0m0.1-2.8h0m0.3 3.4h0m0.1-2.2h0m0.6-1.4h0m0.2 1.5h0m0.4-0.8h0m0.1 2.3h0m0.1 1h0m0.3-5.6h0m0.2 4.6h0m0.1-1.7h0m0.5-2.5h0m0.1 4h0m0-0.6h0m0.3-0.4h0m0.2 0.6h0m0.4-0.5h0m0-1.8h0m0.1 2.6h0m0.1-0.1h0m0.1-1h0m0.5 1h0m1-4.1h0m0.2 3.2h0m1.3-1.1h0m0 0.5h0m0.6 1.6h0m0.1-0.8h0m0.1 0.5h0m10.8-0.3h0m0.2-2.9h0m0.2-0.2h0m0.4-0.3h0m0.1 0.5h0m0.3 1.3h0m0 2.7h0m0.2-0.8h0m0 0h0m0.8-3.5h0m0 5.3h0m0.2-2.6h0m0.3-2h0m0.6-1.1h0m0.1 3.6h0m0.4-1.1h0m0.1 0.7h0m0.5 0.2h0m0.2 0.2h0m0.4-3.8h0m0.3 1.8h0m0-1.7h0m0.2 2.4h0m0.2 2.3h0m0-4.2h0m0.4 2.9h0m0.1 0.7h0m0.1-0.4h0m0.2 1.1h0m0.2-2h0m0 1.2h0m0.1 1.8h0m0-3.4h0m0 1.9h0m0-2h0m0.4-1.1h0m0.3 0.6h0m0.3 0h0m0 0.1h0m-27.8 5.5h0m0.2 0.6h0m0 0.8h0m0.1 3h0m0.3-0.2h0m0-4.3h0m0.3 3.7h0m0.4-4.6h0m0.3-0.4h0m0 4.3h0m0.4 0.9h0m0-1.3h0m0.2-4.1h0m0 0.3h0m0.1 4.3h0m0.2 0.1h0m0.2 1h0m0.7-0.2h0m0-1.6h0m0.1-0.4h0m0.4 0h0m0.5-2.9h0m0 0.7h0m0.2 1.8h0m0.3-0.3h0m0.1 0.8h0m0.5-1.3h0m0.2 0.5h0m0.5-0.4h0m0.6-0.5h0m0.1 3.4h0m0-2.6h0m0-1h0m0.5-0.2h0m1.6 2.4h0m0.1-3.2h0m11.2 2.5h0m1-1.2h0m0.6 1h0m0.3 3h0m0.3-5h0m0.3 2.2h0m0.2-0.4h0m0.1-2.5h0m0.5 5.4h0m0.2-3.6h0m0.5-0.4h0m0.1-1.1h0m0.1 0.5h0m0.7 4.5h0m0.2-2.8h0m0.1 2h0m0.4-1.5h0m0-2.2h0m0.4 3.6h0m0.6-4.7h0m0.1 2.7h0m0.1 2.9h0m0.1-3.6h0m0.1-1.5h0m0.2 2.2h0m0.6-1.9h0m0 0.8h0m-28.1 5.1h0m0.1 2.3h0m0.4-1.6h0m0.2 2.8h0m0.2-1.8h0m0.4 0.9h0m0.1 2.2h0m0.1-1h0m0.2-1.9h0m0.4 0.6h0m0-2.3h0m0.1 0.6h0m0 1.3h0m0.1 0.4h0m0.4-0.1h0m0.1-1.1h0m0 1.5h0m0.5 0.9h0m0.1-3.4h0m0.2 0.9h0m0 0.3h0m0.2 3.8h0m0.1-0.8h0m0.6-5h0m0 2.3h0m0.8 0.6h0m0.4-2.4h0m0.3 4.3h0m0.4 0.9h0m0.5-3.6h0m0.6-0.5h0m0.3 1.7h0m0-3.2h0m0.2 0.7h0m0.1 0.8h0m0.6-0.1h0m0 2.7h0m11.2 0h0m0.6-2.2h0m0.3 3.2h0m0.3-1.1h0m0.1-0.7h0m0.3 1h0m1-3.3h0m0.2 1.9h0m0.3 0.4h0m0.4 1.3h0m0.3 0h0m0.1-2.3h0m1.3-2.6h0m0.2 3h0m0.1-1.3h0m0.8 1.7h0m0.8-1.1h0m0.1 1.2h0m0.2 0.8h0m0.3 0.1h0m0.2-1.1h0m0.3 1.6h0m0.2-0.3h0m0-1.1h0m0.1-1.3h0m0-1.7h0m-28.3 7.5h0m0.2 2h0m0.4 0h0m0.2 1.9h0m0.2-0.5h0m0.3-3.4h0m0 0.1h0m0.2 1h0m0.7 1.8h0m0.3-4.5h0m0.4 3.5h0m0.3 0.3h0m0.2-2.2h0m0.6 0.7h0m0.5-1.5h0m0.2 0.4h0m0.6-1.2h0m0.3-0.1h0m0.2 5.1h0m0 0.3h0m0.6-2.9h0m0.1 2.3h0m0.2-2.5h0m0.3-1.8h0m0.4 1.8h0m0 0.5h0m0.2-1.7h0m0.2 0.1h0m0.1 4.2h0m0.3-5.1h0m0.9 3.5h0m10.4 0.1h0m0.3 0.8h0m0.3-1.3h0m0.6-3.1h0m1.1 4.4h0m0.2-0.9h0m0-2.7h0m0.2 1.8h0m0 1.3h0m0.2-0.4h0m0.3-2.3h0m0 4.1h0m0.5-4.4h0m0.3 0.6h0m0.8 0.8h0m0.5 3h0m0.6-3.6h0m0.8 1.3h0m0.4-2.1h0m0.4 0.2h0m0.8 0.3h0m0.2 3.3h0m0 0.3h0m-27.4 4.8h0m0-1.1h0m0.1 1.5h0m0.1-1.8h0m0.1 1.3h0m0.1-3.3h0m0.3 3.2h0m0.2-0.3h0m0.2-3h0m0 1.3h0m0.2-1.3h0m0.3 0.5h0m0.3-1h0m0 0h0m0.2 4.9h0m0-1.7h0m0.1 0.6h0m1-3.8h0m0.4 1.5h0m0.7 2.2h0m0.1-1.1h0m0.4 1.9h0m0-2.9h0m0-1.6h0m0.3 0.7h0m0.1 1h0m0.2 2.9h0m0.3-1h0m0-2.5h0m0.2 2.8h0m0 0.3h0m0.4-4.5h0m0.5 0.8h0m0.5 1.1h0m0.1-1.5h0m0.2 4.8h0m1.3-4.8h0m0.2 1h0m9.5-0.3h0m0.1 2.3h0m0.6 1.6h0m0.4-1.9h0m0.9 1.7h0m0 0.1h0m0.2-4.7h0m0.4-0.2h0m0.2 5.7h0m0.7-4.3h0m0.3-1.2h0m0.3 1.9h0m0.1-0.3h0m1.1 1.5h0m0.6-0.6h0m0.1-0.6h0m0.3-1.7h0m0 2.4h0m0.4 2.6h0m0.2-1.1h0m0.1-4.1h0m0 2.9h0m0.2-1.6h0m0.2 1.8h0m0.3 1.1h0m0.2 0.2h0m0.4-2.1h0m0.5-1.1h0m-27.8 5.5h0m0.3-0.4h0m0.2 0.3h0m0.1 2.1h0m0.3 2.5h0m1.2-4h0m0 4h0m0.5-2.3h0m0.7 1.5h0m0.2-4.2h0m0.2 0.3h0m0.3-0.5h0m0.3 1.1h0m0.6 1.4h0m0.3-2.6h0m0.4 2.6h0m0.5-1.3h0m0.1 2.9h0m0.5 1.1h0m0.2-4.9h0m0.5 1.8h0m0.2 0.5h0m0-1.4h0m0.1 3.2h0m0.1-0.8h0m0.1-0.4h0m0.4-1.8h0m0.3 4h0m0.1-5.3h0m1 4.5h0m0-1.6h0m9.3-2h0m0.7 1h0m0.1-0.2h0m0-0.7h0m0.4-1.3h0m0.6 2.5h0m0.4 3h0m0.5-2.2h0m1 0.7h0m0.3-0.3h0m0.6 0.7h0m0.3-3.1h0m0.4-1.3h0m0.2 0.6h0m0.1 4.5h0m0-3.1h0m0.1 2.5h0m0-3.7h0m0 0.8h0m0.3-0.2h0m0.5 0.1h0m0.4 1.9h0m0.6-1.4h0m0 2.9h0m0.1-2.6h0m0.4 0.3h0m0.5-0.8h0m0.1 0.4h0m-27.8 7.1h0m0.1 0.7h0m0.3-0.9h0m0.1 0.7h0m0.2-0.1h0m0.1 0.8h0m0-1.9h0m0.9 0.6h0m0-0.7h0m0.6 2.3h0m0.4-0.6h0m0-1.5h0m0-1.4h0m0.7 2.6h0m0.6-2.4h0m0.2 2.8h0m0.1-3.1h0m0.5 1.1h0m0 3.2h0m0.2-1.5h0m0.5-3.6h0m0.1 4.4h0m0.5-2.2h0m0.4 1.5h0m0.3 1.2h0m0.2-4.3h0m0.2 1.9h0m0.5-1.6h0m0.2 2.2h0m0.5-3.1h0m0.3 2.9h0m0-2.6h0m0.5 4.5h0m0.2-0.4h0m0.1-1.7h0m0.5-1.5h0m8.9-0.5h0m0.1 4.5h0m0.4-1.2h0m0.1-3.1h0m0.1-0.8h0m0.2 4.7h0m0.5-3.7h0m0.2 1.4h0m0.5 1.2h0m0.1-3.9h0m0.2 3.8h0m0.5-2.7h0m1 1.8h0m0.1 1.3h0m0.1-4h0m0.5 1.8h0m0.2 1.6h0m0.1-0.2h0m0.2-1h0m0.1-0.1h0m0.2 2.8h0m0-2.9h0m0.3-2.5h0m0 5.7h0m0.5-3.1h0m0.4-2.3h0m0.1 5.3h0m0.1-0.8h0m0.2 0.3h0m0.1-2.9h0m0.6 1.1h0m0-2.8h0m0.2 4.8h0m0.6-3.6h0m0 0.4h0m0.2 2.8h0m0 1h0m0.1-2.6h0m0.2-2h0m0.4-0.7h0m-28.2 9.4h0m1-0.8h0m0.3-2.2h0m0.1-0.5h0m0.8 2.2h0m0.1 0.7h0m0-2.5h0m0 1h0m0.3-0.7h0m0.2-0.7h0m0 1.2h0m0.2-1.3h0m0.2 0.5h0m0.5 3.3h0m0.7 0.4h0m0.2-3.2h0m0.2 4.5h0m0.2-4.1h0m0.6 0.5h0m0.1-0.2h0m0-1.2h0m0.5-0.2h0m0.1 2.4h0m0.4-0.2h0m0.9 1h0m0.2 1.6h0m1.6-1.7h0m0.2-2.1h0m0-1.4h0m0.1 2.7h0m0.3-0.4h0m0.4 0.5h0m8.1 0h0m0.2 0.5h0m0 0h0m0.2-3.2h0m0.1 0.5h0m0.2 2.4h0m0.1 0.4h0m0.1 1.5h0m0.1-0.4h0m0.1-1.7h0m0.1-2.7h0m0.1 5.1h0m0-0.7h0m0.3-1.7h0m0.1 2.1h0m0.3-2.2h0m0.3-0.5h0m0 2.7h0m0.8-2.2h0m0.1 1.7h0m0.2-2.8h0m0 0.7h0m0.5-0.6h0m0.7 3.8h0m0.2-1h0m0.3-1.3h0m0.5-0.2h0m0.6 1.9h0m0 0.3h0m0.2-2.8h0m0.2 3.2h0m0-3h0m0.1 1.6h0m0.2 0h0m0.4 0.1h0m0.4-3h0m0.6 0.6h0m0.1 0.5h0m0.3-0.1h0m0.4-1.8h0m0.4 3.2h0m0.1 1.8h0m-28.2 4.6h0m0.4 0.3h0m1.2-3.2h0m0 4.3h0m0.7-0.4h0m0-1h0m0.6-2.9h0m0.4 4.2h0m0.9-3.4h0m0.3 2.7h0m0.5 0.6h0m1.1 0.2h0m0.4-0.2h0m0.2-2.7h0m0.4-2.3h0m0.1 1.9h0m0-0.1h0m0.3-0.6h0m0 4.1h0m0.5-4.4h0m0.2 3.3h0m0.6 0.5h0m0.3-1.9h0m0.2 0.9h0m0.2-3.2h0m0.6 2h0m0 2.2h0m8.7-3.8h0m0.4 2.2h0m0.1-0.1h0m0-2.8h0m0.2 4.2h0m0.1-3.2h0m0.1 0.2h0m0.2 2.8h0m0.5-2.2h0m0.2 1.9h0m0.6-4.5h0m0 2.5h0m0.9 0.9h0m0.5-2.4h0m0.9 3.1h0m0-4.1h0m0.1 2.7h0m0.1 2.6h0m0.1-1.6h0m0-1.6h0m0.2-0.3h0m0.2-1h0m0 3.2h0m0.5-1.5h0m0.4 0.1h0m0.4-1.5h0m0.1 2.1h0m0.3-1.1h0m0.2 0.2h0m1.6 1.1h0m0.1-2.4h0m0 3.7h0m0.5-4.2h0m-28.4 10.9h0m0.3-4.7h0m0 2.5h0m0.1 2.2h0m0.1 0.2h0m0.1-0.7h0m0.1-2.3h0m0.2-0.6h0m0.4-0.7h0m0.3 1.5h0m0-0.2h0m0.1 0.3h0m0.2 1.8h0m0.5-3.6h0m0.2 2.8h0m0.1-1.1h0m0.6-0.1h0m0.1 2.5h0m0-0.1h0m0.1-3.4h0m0.1 2.5h0m0.3 0.7h0m0.3 0.2h0m0.1-3.4h0m0 1.4h0m0.1-2.2h0m0.7 3.2h0m0.8-0.4h0m0.5 0.7h0m0.1-0.1h0m0-1h0m0.2 0.8h0m0.1-1.6h0m0.1-2h0m0 3h0m0.3-0.2h0m0.2-0.5h0m0.1-2.4h0m0 2.6h0m0.1 2.6h0m0.1-1.1h0m0.5-0.9h0m0.5 0.2h0m0 1.7h0m0.9-3.3h0m0.6 1.4h0m0 0.2h0m0.2 0.6h0m0.1-2.6h0m0.2 3h0m8.2-0.7h0m0.1 0.1h0m0.5 0.8h0m0.2-4.3h0m0.2 5h0m0.1-1.9h0m0.1 1.1h0m0 0.9h0m0-4.2h0m0.3-1.4h0m0.4 0.8h0m0.5-1h0m0.2 2.5h0m0.3 0.4h0m0.3 1.5h0m0.1 0.5h0m0.3 0h0m1.1-1h0m0-0.2h0m0.7 0.4h0m0.3-1.9h0m0.2 0h0m0-1.3h0m0 1h0m0.3 2.1h0m0.3-1.4h0m0.1 0.8h0m0.1 1.2h0m0.4 0.1h0m0.9 0.1h0m0.1-3.9h0m0.1 4.5h0m0.6-4.3h0m0.6 3.5h0m0.1-2.3h0m-28.1 7.5h0m0.1-0.3h0m0.5-1.7h0m0.1 1.6h0m0 0h0m0.4-2.7h0m0-0.7h0m0.5 4.9h0m0.9-3h0m0.3 2.3h0m0.1-2.8h0m0.1 0.3h0m0.1 2.9h0m0.3-0.4h0m0.2-1.8h0m1.3-0.8h0m0.1 4.3h0m0.6-3.2h0m1.2 2.7h0m0.2-4.7h0m0.5 0.2h0m0.1 2h0m0.2-1.8h0m0.3 3.5h0m0-3.7h0m0 2.6h0m0.1-0.1h0m0.5 1.8h0m0.3-2.6h0m0.1 0.8h0m0.4-0.2h0m0.1 0.9h0m8.5 1.5h0m0-4.3h0m0.4 4.2h0m1.2-3.7h0m0 0.5h0m0.2 2.4h0m1.1-2.9h0m0 0h0m0.3 1.7h0m0.4 1.6h0m0.7-1.4h0m0.2-2.7h0m0.3 4.4h0m0.1-4.9h0m0.2 5.5h0m0-4.1h0m0.6 1.2h0m0.1-0.3h0m0.6-1.9h0m0.1 3.5h0m0.1-1.1h0m0 0.1h0m0.1-0.1h0m0-2.6h0m0.5 4.8h0m0.3-0.8h0m0.3-2.4h0m0.2 2.3h0m0.2-1.6h0m0.5-1.9h0m0.4 4.6h0m0.1-5.3h0m0.7-0.3h0m0 0h0m-27.6 8.9h0m0.6 0.5h0m0-3.3h0m0.5 5.2h0m0.5-3.5h0m0.2 1h0m0 2.6h0m0.1-2.9h0m0.2-2.4h0m0.4 5.4h0m0 0.4h0m0.6-3.7h0m1-1.1h0m0.4 2h0m0 0.1h0m0.4-1.5h0m0.1 3.2h0m0.2-4.1h0m0.2 1.5h0m0.2 2.3h0m0.3-2.7h0m0.5-1.1h0m0 1.2h0m0 2.4h0m0.2-1.3h0m0.3 2.6h0m0.3-2.5h0m0.1 2.6h0m0-0.7h0m0.2-0.4h0m0.3-1h0m0.5-0.9h0m0.5 1.3h0m0.4 0.7h0m0.4-2.3h0m0 3.2h0m0.3-5.5h0m0 1.4h0m0.4 3.1h0m0.1-1.3h0m7 1.5h0m0.4-4.9h0m0.7 1h0m0.5 1.4h0m0 0.9h0m0-0.2h0m0.5 1.8h0m0-0.9h0m0 0.8h0m0-1.7h0m0.1-0.3h0m0.2 1.5h0m0.7-1.7h0m0.1 0.9h0m0.3 1.7h0m0.3-3.9h0m0.3 2.4h0m0-2.8h0m0.4 3h0m0.2 1.8h0m0.8-1.3h0m0.1-4.3h0m1.6 5.7h0m0.5-3.8h0m0.5 0h0m0.3 3.2h0m0-2.5h0m0-2.6h0m0.3 2.1h0m0 0.9h0m0.1 1.8h0m0.3 0h0m0.3-1.7h0m0.8 2.3h0m-28.4 0.6h0m0.2 0.8h0m0.6 3h0m0-3.3h0m0.6 3.5h0m0.3 0.2h0m0.1 0.9h0m0.3-0.2h0m0.3-4.3h0m0.2 0.3h0m0.1 3.2h0m1-3.8h0m0.1 0.6h0m0.2 3.2h0m0.4 0.3h0m0.8-2.7h0m0.5 2.8h0m0.4-3.4h0m1.5-0.2h0m0.3 4.9h0m0.7-2.2h0m0.1-2.6h0m0.2 3.8h0m0-1.7h0m0.3-0.9h0m0.1-0.6h0m1.1 4h0m1-1.3h0m6.4-2.9h0m0.1 2.1h0m0.3-0.6h0m0.1 1.6h0m0.1-3.6h0m0.1 4.4h0m0.1-2.5h0m0.4 1.4h0m0.1-3.6h0m0.1 2.3h0m0.1-2.6h0m0.1 0.6h0m0.2 2h0m0.1 0.4h0m1.2-0.1h0m0.1-1.9h0m0.5 3h0m0.8-1.5h0m0.8-2.9h0m0.4 3.5h0m0.1-2.3h0m0.2 2.7h0m0-2.9h0m0.2 2.3h0m0 1.6h0m0.8-4.4h0m0.2 0.1h0m0.2 3.1h0m0.9 1.1h0m0.4-0.5h0m0.4-0.9h0m0.4-1.2h0m1 3h0m-28.3 3.4h0m0.3-2.2h0m0.1-0.4h0m0.4 0.5h0m0.8-0.2h0m0.5-0.3h0m0.3 1.4h0m0.6 0.2h0m0.7-1.5h0m1.2 0.7h0m0.4 0.2h0m1-1h0m0.1 1.7h0m0.4 0.7h0m0.1-0.5h0m0.6-0.3h0m1.7-1h0m0.2 1.5h0m1.3-2h0m0.9 0.6h0m6-0.3h0m2.3 0.7h0m0-0.4h0m0.1 0.2h0m1-0.7h0m3.1 1.5h0m0 0.3h0m0.1-0.3h0m0.8 0.1h0m0.2-0.1h0m0.3-0.6h0m1.7 1.3h0m0-1.9h0m0.8 0.9h0" stroke="#070707" stroke-width="2.3" stroke-linecap="round" fill="none"/>
<path d="M584.9 1115.8H972.2" stroke="#555" stroke-opacity="0.6" stroke-width="1" stroke-dasharray="2.4 2.2" fill="none"/>
<path d="M733.7 1159.6V829.6M763.7 1159.6V829.6" stroke="#666" stroke-opacity="0.6" stroke-width="0.7" stroke-dasharray="2.3 1.8" fill="none"/>
<path d="M651.4 829.6H734.8" stroke="#BF9CCB" stroke-width="3.8" fill="none"/>
<path d="M761.1 829.6H865.7" stroke="#77BD87" stroke-width="3.8" fill="none"/>
<path d="M599.4 829.6h0m7 0h0m8.4 0h0m8.5 0h0m3.3 0h0m3.7 0h0m6.4 0h0m3.6 0h0m6.9 0h0m4.2 0h0" stroke="#BF9CCB" stroke-width="4.1" stroke-linecap="round" fill="none"/>
<path d="M865.7 829.6h0m3 0h0m3 0h0m4.5 0h0m4.6 0h0m7.5 0h0m5.2 0h0m12.8 0h0m52.7 0h0" stroke="#77BD87" stroke-width="4.1" stroke-linecap="round" fill="none"/>
<path d="M734.8 829.6H741.4M755.9 829.6H761.1" stroke="#070707" stroke-width="2.6" fill="none"/>
<text transform="translate(686.52 790.6) scale(0.9992 1)" font-size="31.88" font-weight="bold" fill="#000">4 Months</text>
<text transform="translate(529.79 796.2) scale(1.0298 1)" font-size="30" font-weight="bold" fill="#000">D</text>
<text transform="translate(606.74 959.9) scale(0.9665 1)" font-size="33.04" font-weight="bold" fill="#BF9CCB">819</text>
<text transform="translate(834.41 959.9) scale(0.9547 1)" font-size="33.04" font-weight="bold" fill="#77BD87">3023</text>
<text transform="translate(634.6 1267.2) scale(0.9539 1)" font-size="34.06" fill="#000">Log2 Fold change</text>
<text transform="translate(538.2 1090.46) rotate(-90) scale(1.0306 1)" font-size="31.59" fill="#000">-log10 (p-adj)</text>
</g>
<g id="panelE">
<path d="M1087.1 1176.9H1475.9" stroke="#777" stroke-width="1.1" fill="none"/>
<path d="M1116.1 1176.9v5.6M1183.8 1176.9v5.6M1251.6 1176.9v5.6M1319.3 1176.9v5.6M1387.1 1176.9v5.6M1454.8 1176.9v5.6M1076.6 1164.1h5.8M1076.6 1098.2h5.8M1076.6 1032.2h5.8M1076.6 966.3h5.8M1076.6 900.3h5.8M1076.6 834.4h5.8" stroke="#777" stroke-width="0.7" fill="none"/>
<text x="1115.2" y="1196.8" font-size="11.5" fill="#4a4a4a" text-anchor="middle">-10</text>
<text x="1182.95" y="1196.8" font-size="11.5" fill="#4a4a4a" text-anchor="middle">-5</text>
<text x="1251" y="1196.8" font-size="11.5" fill="#4a4a4a" text-anchor="middle">0</text>
<text x="1318.75" y="1196.8" font-size="11.5" fill="#4a4a4a" text-anchor="middle">5</text>
<text x="1386.5" y="1196.8" font-size="11.5" fill="#4a4a4a" text-anchor="middle">10</text>
<text x="1454.25" y="1196.8" font-size="11.5" fill="#4a4a4a" text-anchor="middle">15</text>
<text x="1071" y="1168.3" font-size="11.6" fill="#4a4a4a" text-anchor="end">0</text>
<text x="1071" y="1102.36" font-size="11.6" fill="#4a4a4a" text-anchor="end">2</text>
<text x="1071" y="1036.42" font-size="11.6" fill="#4a4a4a" text-anchor="end">4</text>
<text x="1071" y="970.48" font-size="11.6" fill="#4a4a4a" text-anchor="end">6</text>
<text x="1071" y="904.54" font-size="11.6" fill="#4a4a4a" text-anchor="end">8</text>
<text x="1071" y="838.6" font-size="11.6" fill="#4a4a4a" text-anchor="end">10</text>
<path d="M1251.6 1165.9 1256.9 1164.9 1259.1 1163.9 1260.8 1162.8 1262.2 1161.8 1263.5 1160.8 1264.6 1159.7 1265.7 1158.7 1266.7 1157.7 1267.6 1156.7 1268.4 1155.6 1269.3 1154.6 1270 1153.6 1270.8 1152.5 1271.5 1151.5 1272.2 1150.5 1272.9 1149.5 1273.5 1148.4 1274.2 1147.4 1274.8 1146.4 1275.4 1145.3 1276 1144.3 1277.1 1142.2 1278.2 1140.1 1279.4 1138 1280.5 1135.9 1281.6 1133.8 1282.7 1131.7 1283.8 1129.6 1284.7 1127.5 1285.7 1125.4 1286.6 1123.3 1287.5 1121.2 1215.7 1121.2 1216.6 1123.3 1217.5 1125.4 1218.5 1127.5 1219.4 1129.6 1220.5 1131.7 1221.6 1133.8 1222.7 1135.9 1223.8 1138 1225 1140.1 1226.1 1142.2 1227.2 1144.3 1227.8 1145.3 1228.4 1146.4 1229 1147.4 1229.7 1148.4 1230.3 1149.5 1231 1150.5 1231.7 1151.5 1232.4 1152.5 1233.2 1153.6 1233.9 1154.6 1234.8 1155.6 1235.6 1156.7 1236.5 1157.7 1237.5 1158.7 1238.6 1159.7 1239.7 1160.8 1241 1161.8 1242.4 1162.8 1244.1 1163.9 1246.3 1164.9 1251.6 1165.9Z" fill="#070707" stroke="#070707" stroke-width="0.8" stroke-linejoin="round"/>
<path d="M1239.4 1121.2 1239.4 1120 1239.4 1118.8 1239.4 1117.6 1239.4 1116.4 1239.4 1115.2 1239.4 1114 1239.4 1112.7 1239.4 1111.5 1239.4 1110.3 1239.4 1109.1 1239.4 1107.9 1239.4 1106.7 1239.4 1105.4 1239.4 1104.2 1239.4 1103 1239.4 1101.8 1239.4 1100.6 1239.4 1099.4 1239.4 1098.2 1225.5 1098.2 1223.7 1099.4 1221.9 1100.6 1220.1 1101.8 1218.5 1103 1216.8 1104.2 1215.3 1105.4 1213.8 1106.7 1213 1107.9 1213.4 1109.1 1213.9 1110.3 1214.3 1111.5 1214.7 1112.7 1215.1 1114 1215.5 1115.2 1215.9 1116.4 1216.3 1117.6 1216.8 1118.8 1217.2 1120 1217.6 1121.2Z" fill="#BF9CCB"/>
<path d="M1187.5 836.2h0m3.6-1.6h0m10 2.1h0m3.5-2.2h0m10 1.7h0m1.3 0.3h0m7.9 0.3h0m6.7-0.5h0m6-0.4h0m-53.3 4h0m35.3 3h0m0.5-4.9h0m5.2 3.5h0m1.1-1h0m0.7-1.8h0m1.9 2h0m2.2-1.5h0m5.9-2.1h0m1.2 3.9h0m-18.5 8h0m1.6-1.1h0m3.5-4.6h0m0.1 3h0m10.8 2.3h0m0.4-4.7h0m0.1 1.7h0m-2.6 9h0m2.2-0.5h0m-57.7 5.8h0m36.8-2.3h0m5.4 1.9h0m0.4-3.3h0m0.8-0.2h0m1.1 0h0m0.3 2.6h0m0.7-1.1h0m4.3-1h0m1.6 3.4h0m3.9-1.6h0m1.9-2.5h0m-26.5 5.6h0m3.8 2h0m3.3 1.5h0m3.6 0.2h0m3.5-1h0m6.5-0.5h0m-33.1 8.1h0m0.3-1.7h0m13.1-0.6h0m4.5-2.3h0m0.4 5h0m13.5-3.6h0m3.3-1.1h0m2.4 0.6h0m1.2 4.5h0m1-2.5h0m-15.9 3.4h0m0.7-0.1h0m0.9-0.1h0m3.4 4.7h0m0.6-4.9h0m3.6 1.3h0m2.4 3.9h0m0.3-2.7h0m2.5 0.6h0m0.5-1.2h0m1.2-0.4h0m0.9 2.2h0m-46.3 5.1h0m24.8 0.7h0m2.7 1.2h0m0.8-2.2h0m4.1 1.8h0m7.2-2.6h0m0.5 1.7h0m2-2.4h0m2.7 4.9h0m0.5-4.8h0m1.2 3.4h0m0.6-0.1h0m-53.2 3.4h0m22 1.2h0m13.7 2.4h0m4.1-3.3h0m8.7-1.6h0m5.2-0.3h0m-37.3 10.1h0m4-1.5h0m18.1-1.8h0m2.7 1.7h0m3.2-0.6h0m0.6 3.7h0m2.1-5h0m1 1h0m1.6 0.1h0m0.2 1.8h0m-16.2 3.2h0m5.4 0.7h0m0.5 1.2h0m1.7 0.3h0m2.7 2.7h0m0.1-0.9h0m1.3-3.4h0m2.7 4.2h0m0.8-1.6h0m2.9 1.7h0m0-0.8h0m0.2-0.1h0m-57.1 5.5h0m33.4 1h0m1.8-1.2h0m0.7-3.8h0m0.6 0.1h0m6.7 2.6h0m0.3-0.3h0m1 1.4h0m7-1.2h0m2.7 1.9h0m-45.1 2h0m4.1 0.9h0m19.7 0.9h0m1.9-0.3h0m5.8 0.2h0m2.2 1h0m6.4-3h0m0.6 3.9h0m6.6-1.8h0m0.1 3.2h0m0.8 0h0m-41.8 2.6h0m7.4 3.1h0m20-4h0m0.4 2.3h0m0.9 0.3h0m2 0.6h0m2.3-1.1h0m0.1-2.8h0m3.2 0.5h0m0.6 3.5h0m1.1-3h0m4-0.5h0m-44.2 7.9h0m4.1-1.8h0m8.2 3.5h0m0.7-3.5h0m13.9 0.2h0m1.9 3.2h0m0.6-4.1h0m3.3 4h0m1.2-1.5h0m6.2-3h0m2.3 5h0m0.5-2.9h0m1 0.1h0m-37.5 6.2h0m15-1.8h0m4.8 1.6h0m5.4-0.7h0m1.5 1.1h0m0.6-0.4h0m4.5 2.9h0m3.1-2.1h0m0.3 1h0m2.8-2.6h0m1.2-1.2h0m-54.7 7.3h0m18.1 1.8h0m22.3 0.9h0m8.2-0.3h0m0 0.2h0m2.1-0.1h0m0.8-1.2h0m1.7-0.5h0m0.1 1.5h0m0.4-2.8h0m0.5-0.7h0m0.3 4.8h0m-30.9 6h0m3.6-0.5h0m10.1-3.1h0m1.4-0.6h0m0.8-0.7h0m0.3 4.4h0m1.4-1.9h0m4.2-1.2h0m1 3h0m2.9-2.8h0m1.9-0.9h0m0.7 1.6h0m1.3-2.5h0m-52.9 10.5h0m1.4-4h0m8 0h0m13.2 0.2h0m9 1h0m0.3 2.7h0m8.9-1.3h0m3.4 0.3h0m0.4-2.4h0m0.2-0.6h0m0.2 3.1h0m0.2-2h0m3.2 1.5h0m1.7 1.7h0m0.9-0.3h0m0.3-2.3h0m0.5 3.3h0m0.7-5h0m1.8 4.5h0m-40.4 3.6h0m3.4 2.1h0m2.1-2.3h0m7.7 0h0m4.1 3.4h0m2-3.1h0m3.6-1.9h0m4.1 3h0m1.3-1.1h0m0.9 0.3h0m0.5 2.4h0m1.3-5.2h0m1.9 0.5h0m0.9 4.3h0m0.1-2h0m0.1-0.1h0m1.1-0.5h0m2.7-2.1h0m0.4 1.2h0m1.2-1.4h0m-51.5 11.6h0m0.6-2.6h0m7.5 2.3h0m35.7-1.8h0m1.4-1.3h0m0.8 0.8h0m1.9 2h0m2.9 0.3h0m0.8 0.3h0m-49.3 0.6h0m3.9 4.9h0m14-2.2h0m1.7-0.1h0m14.6 2.9h0m4.8-4.7h0m0.7 0.3h0m0.8-1.1h0m0.5 2.4h0m1.3 1.3h0m1.4-1.2h0m3.9 0.9h0m0.1-2.2h0m0.2 0.7h0m2.1 3.6h0m-45.6 3.3h0m12.4 0.1h0m4.7 1.6h0m11.1-1.5h0m1.3 1.4h0m2.9-0.1h0m1.5-0.5h0m6.1-3.7h0m0.2 5.3h0m1.4-0.2h0m1.1-1.6h0m0.5 0.6h0m0.1-1.2h0m1.8-1.7h0m0.1 1.6h0m0.5 1.3h0m-25.8 7.1h0m4.1-2.9h0m4.5-2.7h0m0.4 0.2h0m2.9 2.5h0m4.8 2.1h0m1.6-2.6h0m0.4-1.6h0m1 1.3h0m0.4 1.8h0m0.8 2.1h0m0.4-3.5h0m1.3-2.1h0m0.2 0.5h0m1 3.4h0m0.3-1.8h0m1.4-1h0m-46.1 6.1h0m16.2 2.1h0m9.2 0.8h0m3.6-2h0m4.3-2h0m4.6 0.4h0m1.3 0.6h0m1 0h0m1.9-0.5h0m1.5-0.4h0m0 0h0m2.8 3.2h0m-35.2 6h0m0.1-2.7h0m0.7-0.4h0m1.1 0.6h0m5.7 1.4h0m0.6 0h0m0.7-2.5h0m3.6 5.8h0m1.5-2.2h0m5.6-2.6h0m3.7-0.9h0m5.8-0.2h0m1.4 0.5h0m2.4-0.2h0m-45.8 8.6h0m6 1.7h0m2.4 1.4h0m1-4.8h0m1.6-0.5h0m0.5 3.5h0m21.8-0.6h0m4.7-1.3h0m1.4 2.9h0m2.8-3.5h0m1.6 3.9h0m0.3-1.9h0m4.1 1.2h0m-48 5.1h0m2.1 0.3h0m0.4-1.7h0m3.9-1.9h0m2.3 2.2h0m3.6-1.7h0m1.7 3.2h0m2.8-0.9h0m7.1-0.1h0m2.1-1.9h0m3.9 4.3h0m1.6-1.1h0m3.5-2.3h0m2 1.3h0m0.6-0.5h0m0.2-1.1h0m0 0.6h0m0.2-2.5h0m0.1 0.6h0m1.1 3.6h0m2.2-2.4h0m2.8-1h0m0.3 1.6h0m1.4 2.6h0m0.9-2.1h0m0.7-1.2h0m0.2 3.2h0m-46 2.5h0m1.9 0.4h0m2.8-0.9h0m16.3 0.9h0m8.7-1h0m2.3 2.8h0m1.8 1.7h0m1.5-4.6h0m0.8 2.4h0m0.1-2.5h0m4.5 4.5h0m2.7-0.8h0m1.1-1.5h0m0.6-1.7h0m0.1 4.3h0m-25.5 6.3h0m5.3-4.8h0m8-0.4h0m7 4.9h0m0.2-5.1h0m0 2.7h0m1.7 2.2h0m0.6-2h0m1.8 0.7h0m0.1-4h0m-33.7 9h0m2.5-0.5h0m2.2-0.6h0m13.3-0.5h0m1.9-1.2h0m0.4 2.1h0m5.9-0.3h0m4.1 0.5h0m1.9 1.9h0m3.3-3.6h0m0.1 0.1h0m-41.8 10.2h0m2 0h0m4.7-1h0m4.9-3.5h0m0.4 3.4h0m8.9 0.5h0m1.1 1.1h0m3.7-0.7h0m1.1-1.8h0m2.5 1.2h0m1.7-0.8h0m1.9 0h0m1.1 2.4h0m2.4-5.7h0m3.6 2h0m1.7 1.9h0m-42.7 4.9h0m1.3 2.9h0m9.7-2.4h0m4.3-0.7h0m2.8-2h0m5.2 2.5h0m2 2.3h0m5.3-4h0m0.6 2.8h0m0.2-4.5h0m3.5 5.8h0m1.6-1.3h0m0.6-4.4h0m0.3 0.9h0m3.6 2.5h0m1.1 0.7h0m-39.7 2.4h0m15 1.6h0m7.6 1.6h0m2.2-1.4h0m5-2.3h0m1.5 1.6h0m0.4 3.7h0m1.4-3.3h0m0.1-1h0m0.8 2.5h0m1.1-1.3h0m0.1 3.3h0m1.3-0.2h0m1.5-0.1h0m1.2-2.4h0m0.1-2.4h0m0 2h0m1.1 3h0m-36.7 5h0m4.9 0.7h0m9.4-1.7h0m2.9-2.7h0m1.6 2.4h0m5.1 1.9h0m7.1-0.5h0m0.4-1.8h0m0.8-0.5h0m1.2 3.4h0m3.2-2.7h0m-39.5 7.1h0m0.4-3.7h0m1.1 1.7h0m0.6 2.2h0m0.9 1h0m6.2-1.9h0m0.3-3.1h0m0.3 4h0m0.6 0h0m4.1-1.1h0m2-0.8h0m1.3-2.3h0m5.6 0.9h0m0.3 1.1h0m1.3 0h0m2.1 3.4h0m1.4-1h0m0.8-0.6h0m1.5-2.7h0m1.5-0.9h0m0 2.7h0m2-0.9h0m1.2 0.5h0m0.6-0.2h0m0.9-1.3h0m0.4 4.6h0m-34.4 3.7h0m4.4 1.6h0m3.2-4.9h0m9.3 1.9h0m0.8 2.6h0m1.9-4.4h0m0.8 1h0m4.6 0.8h0m3.6 2.5h0m0.3 0.3h0m0.7-4.2h0m0 1.1h0m5.3 0.2h0m0.2 0.7h0m1.3 1h0m-37.2 5.5h0m0.4-2.7h0m2.3 5.3h0m0.7-4.9h0m1.2 1.9h0m0.2 2.5h0m7.6-3h0m0.7 1.6h0m0.7-0.5h0m0.5 1.6h0m1.3 1h0m3.3-1.7h0m4.2-2.9h0m1.4-1h0m2 2.7h0m0.6-1.5h0m0.5 1.5h0m0.5 0.6h0m0.2 1h0m2.2-3.4h0m0.3-0.9h0m0.4 4.2h0m0.4-3.5h0m0.7 3.2h0m0.9-2.7h0m0.6 2h0m0.3-0.9h0m0.2-1.4h0m1.2 2.3h0m1.5 0.1h0m0.4-2h0m-34.7 6.6h0m1.1 1.9h0m0.9 1.1h0m3.3-0.2h0m0.8 0.8h0m1.1-3.1h0m7.8-1.1h0m2.5 0.2h0m1-1.8h0m2.6 4.8h0m1-1.6h0m0.2 1.5h0m2.2 0.6h0m1.1-1.5h0m0.4-2.3h0m0.8-1.4h0m1.3 4.6h0m0-0.5h0m0.6-2.6h0m0.4 3.4h0m0.1-3.2h0m1 3h0m2.4-2.6h0m0.9 3.1h0m0.1-4.5h0m-32.2 10.3h0m0.3 0.2h0m5.1 0.3h0m1-3.7h0m1.9 3.4h0m1.9 0.6h0m2.7-1.3h0m2.1-1h0m3.3 0.5h0m1.3 1.7h0m6.2-2.6h0m2-2.8h0m1.4 3h0m1.3 2.3h0m0.4-1.7h0m0 0.5h0m0.3-1.5h0m1.8-0.2h0m0.1-0.2h0m-33.9 4.6h0m2.5 3.3h0m2.2-2.4h0m0.1-0.8h0m1.8 3.9h0m5.7 0.2h0m1-2.2h0m0.4-2.1h0m2 3.7h0m1.4-2.2h0m0.1 2.1h0m1.1 1h0m1.6-5.6h0m0.7 2.6h0m0.4 0.4h0m1.2-0.8h0m0-1.1h0m0.9 2.3h0m0.8-0.7h0m0.7-1h0m1.1 2.3h0m1.1-1.3h0m2.8 2h0m0.4 0.8h0m1.1-5h0m0.3 5.1h0m-29 1.7h0m0.9 2.9h0m0.9-4h0m2.3 4.1h0m1.8 0.6h0m4.5-2.7h0m0 0.3h0m0.7-2.5h0m2.9 4.3h0m0-4.3h0m3.5 3.4h0m1.7-0.2h0m1.7 0.3h0m0.7-2.7h0m1.4 0.4h0m2.9-1h0m0.8 0.4h0m0.2 2.7h0m0.5 2.4h0m3-3.5h0m0.5 2.7h0m0.6 0.1h0m-30.2 2.8h0m3.2 3.6h0m0.2-0.9h0m0-3.3h0m0.8 0.1h0m1.5 3.2h0m0.7-2.3h0m1 2.4h0m1.5-2.6h0m0.5-0.5h0m1.4 3.9h0m0.6-5.4h0m0.8 1.3h0m0.5 2.6h0m0.5 0.9h0m0.1-1.7h0m1.2 0.9h0m0-3.8h0m0.9 4h0m1.6-3.3h0m0.9 4.1h0m0-2.8h0m0.4 1.5h0m0.1 1.8h0m0.4-3.9h0m0.1 1.1h0m0.2 0.6h0m0.1-1.1h0m1.4 2.7h0m0.7-0.9h0m0.1-3.6h0m1.7 5.2h0m0.3-2h0m0-2h0m0.5 3.5h0m0.4 0.3h0m1.2-0.4h0m0.1-1.2h0m0.2-3.1h0m1.2 2.1h0m0.3-1.6h0m0.6 3.1h0m0.3 0.7h0m0.1 0.6h0m0.7-4.7h0m0.3-0.8h0m0.4 4.2h0m0.7-2.8h0m-27.3 4.5h0m0.1 0.9h0m1 0.8h0m0.4 0.6h0m1-0.7h0m0.4 0.2h0m1.1 2.7h0m0.5-4.1h0m0.4 0.9h0m0.1 2.1h0m6.5-1.6h0m1.9 3.1h0m1.7 0h0m0.7-1.1h0m1.4 1.5h0m1.3-3.3h0m0.1 2.7h0m1.3-0.4h0m0.1-2.7h0m3.4 1.1h0m0.5 3.2h0m0-1.8h0m0.1 0.4h0m0.8-0.6h0m0.6-0.2h0m0.5-1.7h0m0.4-1h0m-24 10.3h0m2.6-3.7h0m0.3 3.7h0m1-4.1h0m0.5 0.2h0m0.4 0h0m0.7 2h0m0.1-3.3h0m0.2 2.5h0m1.4-1.9h0m0.5 3.6h0m0.2-1.8h0m0.4 1.4h0m1.9 1.3h0m0.7-3.8h0m0.5 2.3h0m1.3-0.4h0m0.1-1.7h0m1.4-1.5h0m0 3.1h0m0.3-0.3h0m0.4-1.2h0m0.8-1.4h0m0.6 4.1h0m0.6-0.2h0m0.1 1.5h0m1.4-4.3h0m0.5 3h0m0.1-2.4h0m1.1 2.6h0m1-2.1h0m0.6-0.4h0m0.9 1.9h0m0 0.5h0m0.2-0.6h0m0.1-3h0m0.6 3h0m0.3-2.9h0m0.6 3.2h0m0.1-1.5h0m-22.9 7.4h0m0.3 0.1h0m0.4 0.1h0m0.5-3.9h0m0.6 2.9h0m1.5 0.1h0m0.2-0.7h0m0.7 1.4h0m0.4-0.1h0m0.1-1.9h0m0.3 1.4h0m0.1-1.8h0m1.3 1.1h0m0.6-1.9h0m0.8 1.1h0m0.4 1.4h0m0.2-0.1h0m0.1 0.2h0m0.1 1.8h0m1.3-2.7h0m1.6 1.4h0m0.6 1.9h0m0.7-3.3h0m0.2 0.6h0m1.7-3h0m0.5 0.5h0m0.2 0.7h0m0.9 2.1h0m0.5 1.4h0m1.1-1.4h0m0.2 2.2h0m0.9-5.5h0m0.8 3.2h0m1 1.4h0m0.3 0.1h0m0.6 0.9h0m0-0.5h0m0.3-2.9h0m1.2 0h0m0.1 1.3h0m0.1-1.2h0m-22.5 4.8h0m1.5 0.6h0m0.8 0h0m1.5 2.5h0m0.1-0.7h0m0.3 0.2h0m0.3-1.3h0m1.6 0h0m1.2-2h0m0.2 2.5h0m0.3 1.5h0m0.4-0.3h0m0.7 0.9h0m0.1-3.4h0m0.9 1.3h0m0.5 1.1h0m1.7-0.9h0m0.5 0.4h0m1.1-2h0m0.6 1.1h0m0.2 0.9h0m0.1 1.8h0m1.5-4h0m0.2 2.9h0m0.9-0.9h0m0.1 0.4h0m0.2-3.6h0m0.4 5.5h0m0.3-2h0m0.2-1.8h0m0-1.1h0m2.6 3.1h0m-11.9 4.1h0m1.7-1.7h0m0.6 1.3h0m5.7-0.8h0m0.4 0.9h0m0.8-0.5h0m0.1-1.1h0m3.7 1.5h0" stroke="#BF9CCB" stroke-width="3.9" stroke-linecap="round" fill="none"/>
<path d="M1264.2 1121.2 1264.2 1118.3 1264.2 1115.3 1264.2 1112.4 1264.2 1109.4 1264.2 1106.5 1264.2 1103.5 1264.2 1100.6 1264.2 1097.6 1264.2 1094.7 1264.2 1091.7 1264.2 1088.8 1264.2 1085.8 1264.2 1082.9 1264.2 1079.9 1264.2 1077 1264.2 1074 1264.2 1071.1 1264.2 1068.1 1264.2 1065.2 1283.8 1065.2 1286 1068.1 1288.1 1071.1 1290 1074 1291.9 1077 1293.7 1079.9 1295.4 1082.9 1296.9 1085.8 1297.4 1088.8 1296.6 1091.7 1295.7 1094.7 1294.7 1097.6 1293.7 1100.6 1292.7 1103.5 1291.7 1106.5 1290.7 1109.4 1289.7 1112.4 1288.7 1115.3 1287.7 1118.3 1286.7 1121.2Z" fill="#77BD87"/>
<path d="M1268 835.8h0m4.6 0.5h0m0.4 0.4h0m0.2-1.7h0m17.6 1.4h0m13.6-0.9h0m19.6 1.3h0m-57.3 0.7h0m2 2.3h0m3.9-0.2h0m1.1 1.2h0m1.7-2h0m1.5 1.9h0m0-3h0m0.2 2.9h0m0-2.8h0m1.8 5.2h0m0.3-4.3h0m1.6 4.1h0m0.5-1.3h0m2.3 0.7h0m1.1-4.6h0m2.7 1.2h0m2.8 1.6h0m0.4 2.3h0m5-5.7h0m0.9 2.2h0m2.9-0.9h0m5.6 2.2h0m3.3-0.5h0m1.5-0.4h0m0.5-0.9h0m10.7 0.6h0m5.1 3.2h0m0.3-0.8h0m-58.1 6.3h0m1-0.3h0m0.3-3.4h0m3.4-1.1h0m4 5.1h0m1.3-0.6h0m1 0.6h0m3.2-2.2h0m1.7-2.9h0m5.1 4.2h0m1.9-1.4h0m0.5 2.5h0m1.3-1.9h0m3.2-3.4h0m16.2 2.5h0m4-2.5h0m1.2 5.2h0m0.8-2.3h0m4.7 0.5h0m0.4-2.1h0m-56.7 7.2h0m0.6-0.9h0m0.1 3.5h0m2.7-3.6h0m0.1 1.7h0m1.3 1.5h0m0.4-1.3h0m1.2-3.4h0m2.6 4.3h0m1.5-4.4h0m1.3 4.3h0m1.9-0.9h0m1.8-0.7h0m2.9 2.5h0m2.5 0h0m0.4-3.8h0m4.7 0.9h0m1.1-0.6h0m5.8 0.9h0m6.4 2h0m0.6-2.1h0m2 1.4h0m1.2 0.8h0m3.2-1.1h0m10.8-0.5h0m2.1 2.5h0m2.2-2.5h0m-58.9 7.7h0m0.6-0.2h0m2.8-0.3h0m1.1-0.6h0m1-2.1h0m2.5-0.9h0m10.6 5.1h0m0.7-5.2h0m3.6 4.7h0m0-5h0m0.1 5.2h0m0.1-0.8h0m2.5-2.6h0m1.3 1.6h0m0.7 1.3h0m6.4-3.1h0m17.5 3.7h0m-54.7 5.7h0m0.5-1.8h0m1-1.6h0m4.7-1.8h0m0.3 5.5h0m0.2-2.2h0m0.6 2.3h0m2.1-1.1h0m1.7 0.6h0m4-4.7h0m2 1.4h0m0.9 3.5h0m3.5-0.4h0m3.7 0.2h0m0-2.6h0m0.2-1.9h0m4.6 4.5h0m3.7-3.4h0m3.2 0.2h0m0.3 3h0m2.1 0.5h0m3.8-0.7h0m2.2-4.5h0m2.4-0.2h0m5.8 0.2h0m7.4 4.6h0m-58 4.4h0m1.1-3.2h0m1.3 1.1h0m1.9 0.2h0m0.8 1.7h0m0.2-2.2h0m3.7 0.4h0m1.3 3.6h0m0.8-3.6h0m0.8-1.2h0m2.8 5.8h0m8.5-3.3h0m4.4-1.2h0m1.4 0.5h0m5.7-0.4h0m1.7 3.1h0m2.9 1.2h0m0.8-1.8h0m0.9-2.3h0m8.6-0.3h0m0.1 3.3h0m6.7-1.8h0m-58.9 8.2h0m2.1-3.4h0m0.8-0.5h0m6 3.2h0m0.9 1.3h0m1.8-2.9h0m1.1-2.6h0m4.1 1h0m0.5 2.1h0m0.5-2.2h0m8.3 4.1h0m1.7-0.1h0m0.7-0.8h0m2.6-0.9h0m0.1-2.5h0m2.6 0.2h0m1.4 2.1h0m16.1-0.5h0m2.4 0.5h0m2.9 1.7h0m-56.7 6.8h0m1-4.7h0m2.9 3.7h0m0.4-3.3h0m2.5-0.2h0m0.6 3.6h0m0.1-2.3h0m1.3 3.2h0m4.1-3.1h0m1 2.9h0m0.7 0h0m0.9-3.3h0m2.1 3.7h0m0.3-1h0m1.8-4.4h0m2.5 5h0m6.5-1.5h0m2.5-1.9h0m3-1.5h0m8 2.1h0m14.5-1.8h0m1 4.5h0m-56.8 0.9h0m1 0.2h0m11.2 1.1h0m2.8 3.2h0m0.6-0.8h0m1.6-0.4h0m3.4 2.3h0m2.6-3.7h0m2.2 2.4h0m3.8-2.2h0m0.9 2.7h0m0.2-3.7h0m0.5 1.2h0m5.2 3h0m1.1-5.5h0m1.8 2.6h0m0.3 2.6h0m2.3-3.3h0m0.3-0.7h0m2.2 2h0m2.9 2.1h0m2.6-3.6h0m0.8 2.1h0m-51.2 4.3h0m1.4 2.3h0m0.1-2.3h0m0.9 2.7h0m0.2 0.4h0m0.2-0.8h0m0.3-0.9h0m4.1-1.3h0m0.3 1h0m0.2-0.2h0m3.6 0.9h0m0.6-1.1h0m0.9-1.1h0m9.1 1.3h0m10.1-1.8h0m4.9 2h0m7.9-2.5h0m0.3-0.4h0m0.5 1.3h0m1.4 1.5h0m11.4 1.6h0m0.9-2.9h0m-59 8.1h0m0-3.2h0m0.7 0h0m0.9 1.5h0m1.7 2.8h0m1.2-1.9h0m0.2-0.7h0m0.4 2h0m2.3-0.5h0m2.3-0.8h0m8-2.6h0m0 2.2h0m4.5-0.1h0m0.2 1.7h0m1-1.2h0m1.5 0.6h0m2.6-0.1h0m0.7 2h0m0.2-2.8h0m2.7 2.3h0m0.1-5.3h0m0.7 2.7h0m3.3 0.7h0m1-2h0m2.7 2.2h0m0 2.2h0m4.8-5.1h0m0.3 1.3h0m1.9 3.8h0m6.8-1.5h0m-52.5 5.6h0m1.6-1.6h0m0 3.7h0m0.3-4h0m4.6-0.1h0m1 0.6h0m2.9 2.6h0m1.1-3.1h0m3.6-1.1h0m0.4 5h0m0.5-4.8h0m1.6 0.4h0m2.6 3.2h0m1.7-3h0m8-1.3h0m2.2 4.7h0m0.2-1.6h0m1.8 0.6h0m2.6-0.4h0m2.9-2.9h0m2.9 0.5h0m2.1 1.1h0m4.9-2.3h0m2.6 2.1h0m0.8 0.7h0m0.1-0.6h0m2.1 0.2h0m0.6-2.5h0m0.4 1.7h0m-56.7 6h0m0.3-1.6h0m2.8 5.3h0m3.5-2.6h0m0.2-1.1h0m0.4 3.1h0m0.9-4.7h0m3 5.3h0m1.5-2.2h0m1.1-1h0m0.3-0.8h0m1.8-0.3h0m2.2-1h0m1.4 5.2h0m0.8-3.4h0m1.6-0.3h0m0.2 0.1h0m0.7 0.6h0m0.7 3.3h0m1.5-3.1h0m1-0.3h0m1.6-2.1h0m7.9 2.5h0m0.6 3.4h0m7.4-4.4h0m2.3 1.6h0m2.3 1h0m0.2-0.7h0m6.6-1.5h0m0.1 3.1h0m0.3-1.4h0m1.1-2.2h0m-56.2 10.5h0m2.2-3.6h0m2 3.3h0m1.8 0.2h0m0.2-3.8h0m0.4-0.2h0m3.4 2.5h0m0.3-1.3h0m1.1-0.4h0m1.3 1h0m0.6-0.3h0m0.1-1.1h0m1.3 0.6h0m1 3h0m1.3-4.8h0m0.3 4.8h0m0.7-0.3h0m0.3 0h0m0.9-2.8h0m1.9 1.5h0m1.7 1.5h0m0.9-0.1h0m1.5 0h0m0.6-2.7h0m0.5 1.6h0m9-0.7h0m0.1-0.1h0m0.5 0.8h0m7.8-0.6h0m10.8-0.8h0m1.2 1.8h0m-56.1 6.9h0m1.6-3.7h0m1.1 1.1h0m0.7 0.5h0m0.8 0.4h0m1-2.2h0m0.8 2.1h0m0.9 1h0m0.1 0.4h0m0.6-3.1h0m2.9 0.1h0m3.2-0.6h0m1.5 3.2h0m0.2-2.7h0m2.3 0.2h0m2.6-0.7h0m1 2h0m7.3-3.4h0m2.7 1.4h0m0.1 3.4h0m0.1 0.2h0m0.2-2.8h0m1.5 1.7h0m1 0.7h0m2.5-2.5h0m0.1-1.8h0m1.2-0.7h0m1.2 0.9h0m1.2 2.8h0m0.5 0.5h0m1.1 0.5h0m4.8-0.4h0m-46.8 1.7h0m0.3 4.9h0m0.9-4.1h0m0.2 0.8h0m2.6 1.9h0m2-0.4h0m3.1-2.5h0m0.2 1.7h0m0.2 3.2h0m0.7-3.5h0m0.5 0.4h0m0.4 2.2h0m0.5-0.2h0m1.1-4.4h0m0.2 4.3h0m0 0.9h0m0.6-3.9h0m3.8 3.1h0m0-1.7h0m0.1-1.3h0m0.4-0.7h0m2.4 0h0m0.7 4.2h0m0.2-4.5h0m2.9 1.8h0m3.8 2.7h0m1.8-2.2h0m26.6-0.5h0m-55.9 7.8h0m0-0.5h0m0 2.1h0m0.6-1h0m0.1-4.5h0m0.2 1.3h0m1 4.1h0m3-0.6h0m0.2-4.2h0m0.9 2.8h0m0.1 0.3h0m1.3-3.4h0m0 2.1h0m1.1-2.6h0m2.5 5.8h0m0.5-4.1h0m2.7 3.4h0m2.4-0.3h0m0.2-4h0m0.4 1.2h0m5.6-1.9h0m0.3 4.4h0m2.7-1.7h0m1.2-2.8h0m0.5 3.3h0m5.5-1.1h0m0.1 0.4h0m1.9 2.6h0m3.6-4.5h0m2.7 0.6h0m0.9 0.3h0m1.2 0.7h0m0.1-1.4h0m0.9 4.7h0m1.3-3.8h0m0.8-0.2h0m3 0.2h0m-49.8 9h0m0.8-2.2h0m0.2-0.2h0m1.3 0.3h0m0.3-2.2h0m1.2-0.4h0m0 5.1h0m0.5-0.4h0m0.1-4.1h0m0.6 3.5h0m1.4-1.6h0m1.3 2.1h0m0.5-0.2h0m2.2-0.8h0m0.3-2h0m0.6-1.4h0m3 1.1h0m0.7-0.5h0m2.3 3.1h0m0.4-3.2h0m3.1 4.1h0m2.3-4.8h0m0.1 0.3h0m6.6 2.6h0m0.1 1.4h0m3.6-0.4h0m0.3-3.2h0m1.3 1.6h0m1.7 1.6h0m0.5 0h0m1.3-2.2h0m1.2 2.1h0m0.7 1.2h0m1.4 0.2h0m0.8-3.7h0m12.3 0.9h0m-54.8 6.6h0m0.7-2.9h0m1.2 2.2h0m0.1-0.3h0m0.6-0.2h0m0.2 0h0m1.5 1.2h0m1 0.2h0m0.6 0h0m0.5-1.6h0m0.4 0h0m0.1 2.7h0m1.8 1.4h0m0.1-2.5h0m0.3 2.5h0m2.2-0.2h0m0.3 0.2h0m0.5-5.3h0m2.5 1.2h0m0.4-0.4h0m0.1 3.2h0m0.1-2.7h0m2.7 2.7h0m0.9-0.9h0m5.2-1.7h0m1.7 1.1h0m9.9 2.2h0m6.6-5.1h0m1.4 1.4h0m3.3 1.2h0m0.6 2h0m0.2 0.6h0m2.3-5h0m2.1 3h0m0.6-0.1h0m-51.7 4.7h0m0.4 2.5h0m0.1-3.7h0m0.6 2.3h0m3-0.5h0m1.4-2h0m1.7 4.4h0m5-3.5h0m1.7 1.8h0m0.8 1h0m3.2 1.1h0m2-2.1h0m1.2 1.5h0m1.2-3.1h0m1.4-0.7h0m0.3 3.8h0m3-2.7h0m2.1 3.5h0m0.4-2.7h0m0.3 2.4h0m1.6-1.7h0m5.2-0.1h0m2.5 0.4h0m2.3 0h0m1.8 2.1h0m1.2-1.3h0m2.8-3.2h0m0.5 3.1h0m1.6 1.2h0m0.5-1.9h0m0.7-2.7h0m0.1 2.8h0m1.4 0.7h0m0.4 0.5h0m-53.1 2.1h0m0.7 2.3h0m1.5-0.8h0m0.4 0.7h0m1.1 0.6h0m1 1.5h0m0.7-4.5h0m0.3 4.9h0m0.8-1.9h0m1-3.7h0m1.1 3.8h0m1-2.2h0m0.1 3.1h0m0.6 0.9h0m0-2.1h0m2.8-2.3h0m1.5 2.2h0m1.8-0.7h0m5.2 0.4h0m2.5 0.5h0m2.3-3.7h0m2.1 5h0m4.2-3.3h0m1.1 3.6h0m0.4-1.9h0m1.5 2h0m0.1-0.4h0m2-1.3h0m1.2-0.1h0m1.9-2.2h0m0.1-1.4h0m0.5 3.2h0m1.1-0.1h0m0.4-0.9h0m1.9 1.1h0m1 0.1h0m0.5-3.1h0m1.1 3h0m0.4-3h0m0.4 1.4h0m0.4-0.1h0m1.4 0h0m0.3 0.6h0m0.4-1.8h0m-46.2 8.4h0m0.2-2.1h0m0.6 4.9h0m1.6-3.6h0m0.1 1.9h0m1.6-2h0m5.3-1.7h0m5.2 4.8h0m1.5-3.1h0m0 2.3h0m0.7-2.8h0m1.9-1.4h0m1.6 3h0m1.9-3h0m1.1 5.1h0m0.5-2.7h0m0.1-1.4h0m1.3-0.7h0m3.2 1.2h0m2.3 0.2h0m2.3 2.7h0m0.1-4.4h0m0.7 0.7h0m3.4 2h0m0.7 1.9h0m0.7-3.5h0m2.6-1h0m0.8 0h0m0.3 5.5h0m2.6-1.2h0m0.9-1.6h0m0.7 2.7h0m0.3-2.1h0m1.1-0.9h0m-52.7 6.2h0m0-0.7h0m0.1 1.7h0m0.1 0.4h0m1.1-1.9h0m2.8 0.9h0m7.3 2.4h0m2.7-5.2h0m1.2-0.3h0m2.3 5.5h0m0.8-1.3h0m0.9-2.5h0m2.1 2.4h0m0.4 0.6h0m3.3-1.6h0m4.9-0.4h0m0.8 1.7h0m0.1 1h0m0.9-4.6h0m1.2 2.5h0m1.8 2.2h0m0.4 0h0m2.3-5.1h0m0.5 2.3h0m0-0.4h0m0.3 0.5h0m3.1-2.7h0m0.1-0.2h0m3.1 5.6h0m0.5 0.2h0m1.1-3.8h0m1.8 3.9h0m2.2-5.8h0m1 2.9h0m0.7-2.1h0m-50.9 6.5h0m0.4-0.6h0m1.7 2.8h0m1.3-1h0m0 0.6h0m0.6-0.8h0m0.7-0.9h0m0.9 2.7h0m1-1h0m0.6-0.9h0m0.5 0h0m0.6 2.1h0m0.3-0.2h0m1.2-2.7h0m0.5-1.4h0m4.7 4.3h0m0.1 0.6h0m1.9-4.4h0m0.3 3.1h0m0.4 0.6h0m1.2 1.3h0m1.9-1.2h0m0.2-3.5h0m1.3 4.3h0m3.5 0.4h0m0.6-3.4h0m0.2-2.3h0m0.2 0.4h0m1.5 5.4h0m0.2-1.8h0m0.2-3.9h0m2.4 3.6h0m0.2 1.7h0m0.1-1.9h0m0.3-0.3h0m1.8 0.6h0m0.6 1.2h0m2.2-0.9h0m2.7-3.3h0m0.6 4.1h0m0.1-1.3h0m1.6-3h0m4 2.2h0m0.5 2.8h0m1.2-1.9h0m1.8-2.2h0m0.8-0.9h0m-50.2 5.8h0m1.9 5.3h0m0.4-4.4h0m0.1 4.6h0m0.1-4.5h0m0.4 1.7h0m0.8-2.8h0m0 0.2h0m0.4 1.1h0m0.9 1h0m0.2 3h0m1.5-0.7h0m0.2-2.6h0m0.9-1.9h0m0.3 3.9h0m0.3 0h0m0.8 0.6h0m0.3-4.4h0m0.4 2.7h0m0.7-0.2h0m1.2-2.6h0m2.2 3.9h0m1.7-1.4h0m1.5 1.8h0m0.6 0.1h0m2.2 0h0m0.9-1.8h0m0.7-2.8h0m1.2 4.4h0m1.9-1.9h0m3.1 0.9h0m0.4 1.8h0m0.5-4.7h0m3.2-0.3h0m2.7-0.3h0m0.4 3.7h0m2.2 0.8h0m1.4-0.5h0m3.4-0.7h0m0.7 1.9h0m0.4-1.6h0m2.4 0h0m0.4-2.5h0m0.7 0.7h0m0.8-0.2h0m0.1-1.5h0m1.4 4.1h0m0 1.1h0m0.6-4.4h0m-49.6 9.7h0m0.3-2.5h0m0.2-1.3h0m0.3 0.3h0m0.1 3.5h0m0.6-2.7h0m0.5-0.5h0m1.2 4.5h0m0.1-1.9h0m0.2 1.7h0m0.9-4.1h0m0.3 0.8h0m0.7 3.3h0m3-4.1h0m0.6 1.2h0m1.6 1.2h0m1-0.3h0m0.3-0.5h0m3.7-2.2h0m0.3 4.4h0m0.6 0.4h0m0.7-0.8h0m3 0.8h0m0.3-2.3h0m0.4 1.4h0m2-1.8h0m1.3 1.5h0m0.8-1.9h0m1.6 1.3h0m0.2 0.2h0m2.9-0.5h0m2.3-0.4h0m0.7-1.8h0m0.2-0.6h0m0.3-0.8h0m1.1 4.1h0m0-1.2h0m1.1-0.2h0m0-0.7h0m2.9-0.7h0m2 0.2h0m1.1-1.1h0m0.3 5.3h0m0-4.9h0m1 2.6h0m2.4-2.3h0m1.6 1.6h0m0.3-2.5h0m0.3 3.8h0m-47.1 7.4h0m0.3-1.5h0m0.6-1.3h0m0.5 3h0m0.5-3.8h0m1 1.8h0m0.1-2.9h0m1.7 0.3h0m0.3-0.1h0m1.3 0h0m0.9 0.2h0m0.3 1.2h0m0.4 1.2h0m0 1.2h0m0.9-3.8h0m1.3-0.2h0m0.1 1.2h0m3.3-1h0m0.6 1.9h0m0.1 1.6h0m0.6-1.3h0m0.3-3h0m0.4 1.4h0m0.1-0.5h0m0.7 0h0m2.3 0.3h0m0.8 1.4h0m1.7-0.6h0m0.2 2h0m0.6-3.5h0m0.7 3.9h0m2.8 1.3h0m0.6-0.2h0m1-1.5h0m0.7-0.3h0m0.9 0.6h0m1.1 0.4h0m2 0.3h0m0.5-3.2h0m0 3.5h0m0-2.2h0m0.2-3.1h0m1.7 1.6h0m1.6 3.1h0m0.1-4.7h0m3.2 0.9h0m0.3 4.4h0m2.9-2.3h0m0.1 0.9h0m2.1-2.3h0m0.1 1.7h0m1 0.4h0m0.6-0.6h0m1.8-3h0m0.1 4.5h0m-47.5 4.4h0m0.1 1.3h0m1.5-1.3h0m0.3 2.5h0m0.8-3.9h0m0.7 1.9h0m0.1 0.6h0m0.4 0.7h0m0.6 0.3h0m1.5 0.1h0m0.7-3.6h0m0.6-0.8h0m0.1 0.2h0m0.8 0.6h0m0.2-1.8h0m0.4 3.3h0m0.8 0.5h0m1.5-0.4h0m2.1 1h0m0.4 0.7h0m2.9-3.7h0m0.1 4.2h0m0.2-0.9h0m2.5-3.2h0m0.9 0.9h0m0.9-0.4h0m0.3 0.3h0m0.2 1.2h0m0.1-1.1h0m1 1h0m0.1-2.6h0m1.4 1.6h0m2.4-1.1h0m0.1 1.5h0m1.5-0.4h0m0 3.2h0m1.1-4.7h0m4.4 3.2h0m0.7 0.1h0m1.7 0.9h0m0.3-0.1h0m1.8 0.7h0m0.2-2.9h0m0.6-0.2h0m3.5 1.8h0m0.2-1.9h0m0 1.8h0m1.5-0.2h0m1.6-1.6h0m0.9 2.4h0m0.4-1.7h0m0.5-1.8h0m-48.3 6.2h0m0.9 3.5h0m3.4-0.1h0m0.1-4.9h0m1.2 5.8h0m0.4-2.5h0m1.8-0.6h0m1 0.4h0m1.3 2.4h0m0-0.7h0m0.3-0.1h0m1.7 0.5h0m0.6-2h0m3.1-0.3h0m0.2-1h0m0.4 2.8h0m0.4-3.4h0m0.4 1.5h0m0.3 1.4h0m2.8 0.8h0m1.7-3h0m2.1 3h0m0.4 0h0m1.4-4.6h0m1.8 0h0m0 4.5h0m3.9-2.7h0m0.2 0.9h0m0.1 1.1h0m0.1 0.6h0m3.5-3.4h0m1 2.1h0m2 1.4h0m0-4.5h0m0.7 2.5h0m0.7 1.3h0m0.5-2.4h0m0.7 3.2h0m1.5-2h0m0.1-0.7h0m0.2-2.2h0m0.3 3.9h0m0.3-3.4h0m0.7 3.2h0m1-3.6h0m0.4 3.1h0m1-3h0m-47.2 10.8h0m0.2-2.9h0m1.3-0.6h0m2.1 1.3h0m0.5-1.4h0m0.7 0.2h0m1.3 1.3h0m0.1-0.6h0m0 0.1h0m0.8-0.9h0m0.1 1.9h0m0.4 1h0m0.6-0.8h0m0.9-0.2h0m0.9-1.5h0m1.6-1.1h0m0.7 4.8h0m0.3-2.2h0m0.7-2.1h0m0 2.8h0m0.3-3h0m1.2 0.9h0m0 1.2h0m0.1-1.9h0m0.3 3.2h0m1.9-1.4h0m1.1 0.1h0m1-0.4h0m0.9 2.9h0m0-1.8h0m0.4 0.2h0m3.3-0.4h0m0.1 0.3h0m1-3.2h0m0.7 4.5h0m0.2-4.1h0m0.2-0.2h0m0.8 1.8h0m0.2-1.3h0m0.3 2.7h0m0.3 0h0m0.8-3.5h0m0.9 2.5h0m1-1.6h0m1.6-0.2h0m0.9 2.6h0m5.9-1.5h0m0.5 1.7h0m0.2 1h0m1.7-2.1h0m0.1-0.1h0m1.1-1.8h0m2.1 3.2h0m1.6-1.4h0m0.3-1.6h0m0.1 2.8h0m0.2 0.2h0m-46 6.3h0m0.2-2h0m0.8 2.1h0m0-1.1h0m1.3 0h0m0.4-1.1h0m0.4-0.7h0m0.7-0.7h0m0.3 1.3h0m0.4 2h0m0.4-2.1h0m1.9 1.9h0m0.3-2.4h0m3.3 0.6h0m0.6-0.9h0m1.9-1.5h0m0.4 2.2h0m1.4-0.1h0m1.9-1.1h0m0.2 3.5h0m0.4-4.9h0m1 0.7h0m1.2 2.1h0m3.8-1.9h0m0 4.3h0m0.1-2h0m2.3 0.7h0m1.1 1.6h0m1.1-3.8h0m0.3 1.1h0m0.2-0.1h0m0.3-1h0m0.3 1.3h0m0.6-1.6h0m0.4-0.1h0m0.1 2h0m0.8-0.7h0m1.1-0.2h0m4 1.4h0m0.4 1.4h0m0.4-3.7h0m1.1 1.3h0m6 2.8h0m-42 2.8h0m0.7 0h0m3.3 3.5h0m0.2-2.8h0m1.1 2.4h0m0.3-4.2h0m2.1-0.7h0m0.3 5.1h0m1.3-1.7h0m0.1-0.4h0m0.4-1.8h0m1 0.6h0m0.1-1.8h0m0-0.4h0m1.1 0.4h0m1.8 4.8h0m0-3.7h0m2.6-0.9h0m1 1.3h0m1.3 3.2h0m0.2-1.9h0m1.1 0.1h0m1.2-2.7h0m0.1 1.8h0m0.7-0.6h0m1.5 0.4h0m3.2 2.9h0m0.5-4.1h0m1 4.7h0m0.7-1.1h0m1.6-0.5h0m1 0.7h0m1.7-1.9h0m0.7 1.9h0m0.2-0.2h0m0.5-2h0m0.2-2h0m0 0.7h0m0.8 2.9h0m2-0.3h0m1 0.7h0m0.9-3h0m0.2 1.2h0m2.1 2.8h0m0.2-3.3h0m-44 8.9h0m0.2-4.9h0m0-0.4h0m0.9 0.5h0m0 2.3h0m5.2-2h0m0.6 0.4h0m0.1-0.9h0m0.8 0.2h0m0.1 2.3h0m0.6 1.1h0m0.6-3h0m0.3 4.1h0m0.1-0.7h0m0 0.5h0m0.6-0.4h0m0.4-0.7h0m0.8 1.9h0m0.4-3.8h0m0.8 0.8h0m1.8 2.3h0m0.1-3.6h0m0.5-0.5h0m0.1 3.7h0m0.9-1h0m0.1-2.9h0m1 4h0m0.6-3.8h0m1.5 4.7h0m0.1-0.6h0m2.7-1.3h0m0.2-3.6h0m2 4.7h0m1.2 0.1h0m0.3-4.6h0m0.9 3.8h0m0 0.4h0m0.8-1.6h0m0.3-2.5h0m0 2.1h0m3 0.8h0m0.6-2.2h0m0.1 4.9h0m0.4-4.5h0m0.5 4.5h0m0.3-5.5h0m1.3 1.7h0m0.7 1.9h0m0.3 0.6h0m1.3-1.8h0m0.3 2.1h0m0.5-4.3h0m1 3.5h0m0.6-4h0m2.6 1h0m1 2.5h0m1-2.6h0m0.6 0.6h0m0.5 0.4h0m-43.8 6.2h0m0.5 0.2h0m0.5 1.4h0m1.4-3h0m0.2 3.4h0m1.2-3.4h0m0.2 0.1h0m0.8-0.3h0m1 1.1h0m0.7 2.6h0m0.1-1.1h0m0 1.2h0m1.4-3.2h0m0.4 0.4h0m0 2.1h0m0.9 1.3h0m0.4 0.2h0m0.8-4.7h0m0.8 3.3h0m0.9-0.6h0m0.1-1.2h0m0.2 2.8h0m5.7 0h0m0.1-2.4h0m0.3-1.1h0m0.2-0.4h0m0.6 3.9h0m0.1-2.2h0m0.1 1.6h0m1.3-3.3h0m1.6 1.9h0m1 2.3h0m0.8-4h0m0.5 2.1h0m0-2.8h0m0.7 1.2h0m1.2-1h0m0-0.2h0m0.9 2.1h0m0.3 0.7h0m1.5 0.4h0m0.4-2.3h0m0.2 0.8h0m2.1 0.5h0m0.3 2.7h0m1.2-3.8h0m1.1-0.6h0m0.8 3.1h0m1.7-3.8h0m0 3.8h0m0.3 0.5h0m0.8-3.3h0m0.6 4.1h0m0.2 0.6h0m3.1-5.6h0m-42.8 9.6h0m0.2-2.1h0m0.4 0.5h0m0.1-2h0m0.8 0.5h0m0.2 2.6h0m0.1-2.6h0m0.4-0.3h0m1.1 5h0m0.2-2.6h0m0-1.6h0m0.6 1.2h0m0.9 2h0m3.4-1.9h0m3.1-2.1h0m0 2.9h0m1.8 0.6h0m2.8-1.9h0m0.3 2.9h0m0.1-2.6h0m1.8 2.7h0m0 0.5h0m1.3-4h0m0.9 0.7h0m1.8 2.7h0m0.9-0.9h0m2.5-2.2h0m0 2.8h0m0.3-0.9h0m0.3-1.6h0m0.1 3.3h0m0.7-4.9h0m0.7 4.2h0m1.3-0.3h0m1.2-1.3h0m0.2 0.8h0m1.3 0.1h0m0.9-0.1h0m0.1 0.1h0m2.2 0.1h0m0.8-4.1h0m0.2 0.4h0m0.2 5.1h0m3.1 0.1h0m0.5-4.2h0m0.8-1.3h0m0.3 1.9h0m-39.4 6.3h0m0.2-0.4h0m1.8 2.4h0m0.2-0.5h0m0.5-3.2h0m0.7 3.5h0m0.5 0.4h0m0.3 1h0m0.4-5.2h0m0.7 2h0m1.6 2.6h0m0.4-2.3h0m0.8 1.6h0m0.1 1.3h0m0.6-0.1h0m2.8-2h0m0.5 2.4h0m0.6-4.2h0m0.9 0h0m1.7 1.4h0m0.4 0.8h0m0.4-3.5h0m0.7 3.1h0m2.2-3.5h0m0.6 4.7h0m2.1-2h0m1.3-0.8h0m0.2 3.6h0m1.2-0.7h0m0.3-2.7h0m0.1-1.3h0m0-0.5h0m0.4 0.7h0m0.3 3.7h0m0.3 1h0m1.2-2.5h0m0 0.9h0m0.4-3.6h0m0.3 2.4h0m1-1h0m1-1.2h0m1.3 4.6h0m1.1-5.2h0m0.3 1.6h0m1.3 1.1h0m0.7-0.3h0m0.6-1.8h0m0.6 4.9h0m0.2-1.9h0m0.1 0.1h0m0.4-0.2h0m1-0.8h0m0.2 2.7h0m0-2.8h0m0.2 2.3h0m0.5-0.6h0m0.4 0h0m-38.9 3.7h0m0.5 0.5h0m1.7 2.6h0m0-4.4h0m0.8 1h0m0.3 0.6h0m0.3-0.1h0m1.2 3.4h0m1.3 0h0m4.6-1.3h0m0.9 1.3h0m0.6-2.5h0m0.3 0.4h0m1.1-3.3h0m0.5 2.1h0m1.6 0.6h0m0.4-1.3h0m1.2 3.1h0m1.2-1.4h0m0.7 1.6h0m0.3-1h0m0.1-2h0m0.3-2.1h0m0.2 0.3h0m1.4 0.6h0m0.2 1.9h0m0 1.4h0m1.5 1h0m0.2-1.5h0m0.5-2.1h0m0.2 0h0m1.4 1h0m0.2 2.5h0m0.4-4.9h0m0.4 5.7h0m0.7-5.1h0m0.5 2.9h0m2.1 0.2h0m0.3-1h0m0.7 1.1h0m0.1-2.2h0m0.7 0h0m1.5-1.3h0m0.8 0.4h0m0.1 0.4h0m0.4 0.8h0m0-0.2h0m0.2 1.7h0m0.6 0.6h0m0.8-4.1h0m0.6 5.7h0m1.4-5.1h0m-39.1 7.1h0m1.8 1.7h0m0.2-3.4h0m0.2 5.9h0m0.1-3.3h0m0.4 0.8h0m0.4-1.8h0m0.9 4h0m0-2.5h0m0-0.5h0m0.3 0.1h0m2.3 0.9h0m0.2 1h0m0.8 0.6h0m0-4.8h0m1.2 1.7h0m2.3-0.5h0m0.5 4.1h0m0.2-1.4h0m0.5-1.4h0m1 1.2h0m1.5 0.8h0m0.9-0.5h0m0.4 0.3h0m1.1-1.5h0m0.8-3.1h0m0.6 2.7h0m0.3-1.8h0m0.8 2.3h0m0.1 1.1h0m0.5-3.8h0m1.4 3.3h0m0.8 1.5h0m1.3 0.1h0m0.5-4.8h0m0.2 5h0m0.1-2.9h0m0.1-1.1h0m0.9-0.8h0m1-0.6h0m0.3 2.7h0m0.7 1.7h0m0.9-3.9h0m0.8 0.9h0m0.6-1.4h0m0.6 1.7h0m1.2-1.6h0m0.4 3.5h0m1-3.3h0m0.1 2.7h0m1.5-0.6h0m0.2-2.4h0m1.1 5.5h0m0.4-4.1h0m0.6-1.2h0m0.2 3.7h0m-37.1 6.2h0m0.4-3.7h0m3.1 3.3h0m0.2-2.1h0m0.3-0.2h0m0.2 0.5h0m1.1 3.6h0m0.3-5.8h0m0.4 3.1h0m0.7-2.7h0m1 2.8h0m0.9-1.3h0m1-1.7h0m1.1 2.9h0m1.3-1.8h0m1.1 3.6h0m0.7-3.2h0m0.9 0.6h0m0.4 0.2h0m1.4 1.6h0m1-3.1h0m1.5 2h0m0.8-2.4h0m0.1-0.3h0m0.6 1.1h0m1.3 3.7h0m0.8 0.2h0m2.1-2.9h0m0.5-2h0m0.1-0.5h0m0.9 5.8h0m0.5-2.2h0m0.2 0.2h0m0.1 1.7h0m0.2-2.9h0m0 1.1h0m0.5-1.5h0m0.6-0.8h0m0.3 0.2h0m0.6 3h0m0.2-3.9h0m2.4 1h0m0.1 1.2h0m0.9 1.8h0m0 0h0m0.3 0h0m0.4-4.6h0m0.7 2.1h0m0.1 1.2h0m-34 3.5h0m0.7-0.9h0m0.2 4h0m0.1-1.9h0m2.1 0.1h0m0.8-1.3h0m1 5h0m0.1-1.5h0m1.2-3.2h0m0 3.5h0m0.8-4.6h0m0.8 5.9h0m0.1-5.4h0m0.3 2.5h0m0.1-1.3h0m0.5-0.1h0m1.7 2.5h0m1.6-1.8h0m0.8 2.6h0m1.2-3.6h0m2-1.2h0m0 1.5h0m0.6-1.3h0m0.7 2.2h0m0.7 0.7h0m0.8-0.6h0m0.3 0.5h0m0.5-1.3h0m0.5-1.5h0m0.5 2.7h0m0.4-3h0m0.2 5.5h0m0.3-3h0m0.2-2h0m1 0.7h0m0.5-0.6h0m1.4-0.6h0m0.3 4.8h0m1.2-0.3h0m0.1-1.6h0m0.3-1h0m0.2 2.3h0m0.4 0.9h0m0.4-4.2h0m0-0.9h0m1.2 3.4h0m0.2 0.3h0m0.4-3.2h0m0.4-0.4h0m0.3 4.7h0m0.1-0.5h0m0.2 0.2h0m1-0.7h0m0.4-0.9h0m0.1 0.4h0m2.7-3.3h0m-33.5 9.5h0m2.3-0.5h0m0.1 1.5h0m0.8-4.3h0m1 4.4h0m0.7-0.2h0m0.5 0.7h0m0.9-5.1h0m0.4 0h0m0.5 3.2h0m4 0.1h0m0.3 0.3h0m0.6-1.5h0m0.8-1.1h0m1.3 2.6h0m1.2-2.6h0m0.4 0.9h0m0.4-1.5h0m1.8 1.5h0m2.4 1.7h0m0.4-1.1h0m0.7 1.2h0m0.1-0.4h0m0.7-2.2h0m0.5 1.4h0m1-2.4h0m1.4 4.6h0m0.6-2.7h0m0.1 2.7h0m0.3-3h0m0.4 3.5h0m0-0.7h0m0.1 0.1h0m0.8-1.6h0m1.9-1.8h0m1.4 3.2h0m-31.5 3h0m0.2 1.5h0m0.3-2.2h0m0.2 3.7h0m0.6-1.5h0m1.2 0.8h0m0.4-0.4h0m0.6-2.6h0m0.2 1.1h0m0.2-1h0m1.1 2.4h0m0.1 2h0m0.8-2.5h0m0.1-1h0m0.3-0.4h0m2.1 0h0m0.4 1.3h0m2.1 1.9h0m2.5-3.9h0m0.3 1.3h0m1.9 0.5h0m0.2 0.8h0m0.3-1.1h0m0.2 0.2h0m1-0.6h0m0.5 2h0m1 1.7h0m1.3-1.3h0m0.1-0.5h0m2.3-0.9h0m1.7 0.9h0m0.1-2.7h0m1.1 4h0m0.6-1.2h0m1.3-1.9h0m1.5 0.1h0m0.2 3h0m0.7-2.1h0m-29 3.2h0m1.2 3.2h0m0.3-2.5h0m0.5-0.5h0m0.7 4.2h0m0.4-2.6h0m1.6-0.8h0m0.7-0.3h0m0.4 2.6h0m0.6 1.5h0m4.7 0.4h0m0.7-3.3h0m0.3 3h0m0.2 0h0m2.1-1.7h0m0.1 0.9h0m1.8 0.5h0m0.2-2.3h0m3.8-1.3h0m0.6 2.3h0m0.6 0.1h0m0.6-0.9h0m0.5 1.6h0m0.3 0.6h0m1.3-0.6h0m0.2-3.7h0m0.5 3h0m0.2-0.4h0m0.4-2.4h0m0.7 1.3h0m0.2-1.3h0m0.4 3.5h0m0.2-0.3h0m-27.8 3h0m1.5 5h0m2.2-1.7h0m0.1-4.1h0m0.4 0.1h0m0.1-0.2h0m0.1 4.9h0m2.9-4h0m0.3 4.4h0m1-3.7h0m3.3 1.7h0m0.4 2.5h0m2.1-1.4h0m0.5 0.5h0m0.6-4.1h0m2.4 1.3h0m1.4 3.8h0m0.3-1.2h0m1.5-0.6h0m0.3-0.6h0m2.2 0.4h0m0.4-1h0m1.8-0.2h0m0.2-2.3h0m-25.9 6.1h0m0.1 4.9h0m0.4-3.6h0m0.6-0.9h0m2.3-0.7h0m2.4 1.5h0m1.1 2.6h0m0.4-2.6h0m0 1.4h0m1.6 0.8h0m1.8-3.1h0m1.2 4.8h0m1.9-3.3h0m0.4 0h0m0-1.6h0m1.1 0.7h0m0 2.6h0m1-0.8h0m0.9-2.9h0m0.8 2.1h0m0.6 1.1h0m0.1-3.4h0m1.1 0.7h0m0.3 1h0m0.5 0.5h0m2.5 2.1h0m1.3-4.2h0m-23.6 6.8h0m1.6 4.5h0m1.6 0.4h0m0.1-2.6h0m0.4-1.6h0m0.4 0.1h0m0.2 0.7h0m0 0h0m1.7-2h0m1.6 2.7h0m1.1-0.4h0m0-1.8h0m0.4 3.3h0m0.1-2.3h0m0.5 0.6h0m1.5-1.1h0m0 4.5h0m1.6-1.8h0m0.5 1.5h0m0.7-1.5h0m0.3-4.1h0m0 5h0m0.1 0.8h0m0.4-5.7h0m1.7 0.9h0m0.4 4.3h0m1 0.4h0m0.9-0.6h0m1.4-0.6h0m1.1-4.2h0m0.6 0.5h0m0.7-0.7h0m-23.3 9.4h0m0 1.3h0m0.3 0h0m0.4-0.5h0m0.4-1.5h0m0.6 1.5h0m0.9-2.9h0m0.3-0.9h0m1.3 0.4h0m0.6 2.7h0m1.1-0.8h0m1.1-1h0m0.9-0.9h0m0 3.3h0m0.5 0.6h0m0-2.9h0m0.8 2.5h0m0.2-3.9h0m0 1.9h0m0.3 3.1h0m0.3-2.5h0m1.1 2.5h0m1.7-3.8h0m0.1 4.1h0m0.2-1.9h0m1.5 1h0m0.8-3.7h0m0.4 4.6h0m0.2-5.6h0m0.3 2.5h0m1.9 2.1h0m0.1-2.6h0m0.4-0.3h0m0.4 1h0m1 0.5h0m0.6-2.6h0m-21.3 5.6h0m1 0.6h0m0.4-0.7h0m0.9 0.7h0m5.8 0.9h0m0.3-1.2h0m1.8 0.6h0m4.7 0.6h0m0.6-0.2h0m0.6-1.7h0m2.2 1.5h0m0.9-0.7h0" stroke="#77BD87" stroke-width="3.9" stroke-linecap="round" fill="none"/>
<path d="M1238.6 1131.1 1238.6 1126.7 1238.6 1122.3 1238.6 1117.9 1263.9 1117.9 1263.9 1122.3 1263.9 1126.7 1263.9 1131.1Z" fill="#070707"/>
<path d="M1250.3 1121.2 1250 1111.3 1249.7 1101.5 1249.4 1091.6 1249.1 1081.7 1248.7 1071.8 1248.4 1061.9 1248.1 1052 1247.9 1042.1 1247.7 1032.2 1247.5 1022.3 1247.3 1012.4 1247.1 1002.5 1246.9 992.7 1246.7 982.8 1246.6 972.9 1246.5 963 1246.3 953.1 1246.1 943.2 1245.9 933.3 1245.7 923.4 1245.4 913.5 1245.3 903.6 1245.2 893.7 1245.2 883.9 1245.1 874 1245.1 864.1 1245 854.2 1245 844.3 1244.9 834.4 1239.6 834.4 1239.6 844.3 1239.5 854.2 1239.5 864.1 1239.5 874 1239.4 883.9 1239.4 893.7 1239.4 903.6 1239.4 913.5 1239.4 923.4 1239.3 933.3 1239.3 943.2 1239.3 953.1 1239.3 963 1239.3 972.9 1239.2 982.8 1239.2 992.7 1239.2 1002.5 1239.2 1012.4 1239.2 1022.3 1239.1 1032.2 1239.1 1042.1 1239.1 1052 1239.1 1061.9 1239.1 1071.8 1239.1 1081.7 1239 1091.6 1239 1101.5 1239 1111.3 1239 1121.2Z" fill="#070707"/>
<path d="M1254.5 1121.2 1254.7 1115.3 1254.8 1109.4 1255 1103.5 1255.2 1097.6 1255.4 1091.7 1255.6 1085.8 1255.8 1079.9 1256 1073.9 1256.2 1068 1256.4 1062.1 1256.6 1056.2 1256.8 1050.3 1256.9 1044.4 1257 1038.5 1257.1 1032.6 1257.3 1026.6 1257.4 1020.7 1257.5 1014.8 1257.6 1008.9 1257.7 1003 1257.9 997.1 1258 991.2 1258.1 985.3 1258.1 979.4 1258.2 973.4 1258.2 967.5 1258.3 961.6 1258.5 955.7 1258.6 949.8 1258.6 949.8 1258.5 955.7 1258.3 961.6 1258.2 967.5 1258.2 973.4 1258.8 979.4 1260.2 985.3 1261.6 991.2 1263.1 997.1 1263.6 1003 1263.6 1008.9 1263.6 1014.8 1263.6 1020.7 1263.6 1026.6 1263.7 1032.6 1263.7 1038.5 1263.7 1044.4 1263.7 1050.3 1263.7 1056.2 1263.7 1062.1 1263.7 1068 1263.7 1073.9 1263.7 1079.9 1263.7 1085.8 1263.8 1091.7 1263.8 1097.6 1263.8 1103.5 1263.8 1109.4 1263.8 1115.3 1263.8 1121.2Z" fill="#070707"/>
<path d="M1252.4 1150.9 1252.2 1146.4 1252 1141.8 1251.8 1137.3 1251.6 1132.8 1251.3 1128.2 1251 1123.7 1250.8 1119.2 1250.7 1114.6 1254.1 1114.6 1254 1119.2 1253.8 1123.7 1253.5 1128.2 1253.2 1132.8 1253 1137.3 1252.8 1141.8 1252.6 1146.4 1252.4 1150.9Z" fill="#fff"/>
<path d="M1240.4 835.9h0m1.1-0.1h0m0.4 0h0m0.1 0h0m0.6-0.1h0m0.7 0.1h0m0.1 0.8h0m0.1-1.5h0m0.8-0.6h0m0.1 2.1h0m15.9-0.4h0m0.4-1.7h0m-21.8 7h0m0.4-0.2h0m0.7-0.1h0m0.1 1.8h0m0.1-0.3h0m1.2-2.9h0m0.2-0.3h0m0-2.2h0m0.5 3.1h0m0-1.3h0m0.2 2.6h0m0.2-2.1h0m0.1-0.4h0m0.1 0.6h0m1 1.9h0m0.2-3.7h0m0.3 1.7h0m16.4-2h0m0.2 2.3h0m2.8-0.1h0m-24.8 8.1h0m1-0.8h0m0.3-3.5h0m0.3 3.6h0m0-0.3h0m0.1 1.9h0m0.1-5.1h0m0.5 1.4h0m1 0h0m0.7-1.6h0m0.1 1.1h0m0.3 2.1h0m0 0.9h0m0.1-1.9h0m0.3-0.9h0m0 3.4h0m0.5-0.1h0m0.3-2.8h0m15.8 2.9h0m0.3 0.1h0m0.9 0.3h0m1.9-5.4h0m0.1 3.8h0m0.3 1.6h0m0.7-2.2h0m-25.1 8.4h0m0.1-3.9h0m0.1-0.2h0m0.1-1.4h0m0.6 3.3h0m0.2 0.7h0m0.4-3.4h0m0.4 3.3h0m0.2-3.9h0m0.2 4.4h0m0-2.9h0m0.1 1.9h0m0.3-0.9h0m0.1 0.6h0m0-3.3h0m0.1 2.1h0m0.1 1.2h0m0.3 2.2h0m0.2-2.3h0m0.4-0.2h0m0.1 0.2h0m0.1-2.2h0m0.1 2.2h0m0.2 2.5h0m0.1-2.9h0m0.1-2.2h0m0.3 1.1h0m0-1.7h0m16.4 2.7h0m0.3 0.4h0m0.1-0.7h0m1.3 0.5h0m0.3 0.5h0m0-0.8h0m1.3-2.6h0m0.2 4.5h0m0.2-4.2h0m-25.6 6.1h0m0 1.1h0m0.7 3h0m0.3-1.9h0m0.1 2.1h0m1.2-1.6h0m0.1-0.5h0m0.1 1.6h0m0-2.5h0m0.2 2.3h0m0 1.7h0m0.5-4.2h0m0.3-0.5h0m0.1 3.8h0m0.2-0.6h0m0.1-0.5h0m0-0.6h0m0.1-0.7h0m0.5 3.4h0m0.1-4.3h0m0.1-0.8h0m0.1 1.3h0m0.4 2h0m0.3-1.4h0m0.1 1.5h0m0.1 0.5h0m0.1-4h0m16.4 2.3h0m0.2 0.5h0m1.5-1h0m0.2 0.6h0m0.3 0.3h0m0.4 1h0m0.7-3.7h0m-24.9 5.4h0m0.7 5.6h0m0.5-1.1h0m0.1-1.8h0m0.3 0.5h0m0-1.6h0m0.8-0.9h0m0.2 5.1h0m0.4-4.9h0m0.1 0.8h0m0-0.9h0m0.1 3.7h0m0.2 1.3h0m0.2-1.4h0m0.3 0h0m0.1 0.8h0m0.1-5h0m0.1 2.9h0m0-3.1h0m0 0.1h0m0.1 5.2h0m0.5-3h0m0 2.6h0m0.2-3.8h0m0.3 3.3h0m16.1-1.1h0m0 1.1h0m0.4 1h0m0-0.5h0m1.1-2.4h0m0.2-1.9h0m1.1 1.1h0m0.1 1.5h0m0.6 1.4h0m-25.4 3.3h0m0.4-1h0m0.1 2.1h0m0.7-0.3h0m0.6 1.7h0m0.2-2.2h0m0.4 1.3h0m0.3-0.1h0m0.1-1.4h0m0.4 3.1h0m0.3-1.9h0m0.2 0.6h0m0.2-3h0m0.3 4.9h0m0.3-5.5h0m0.5 2.7h0m0-1.1h0m0.2-0.8h0m0.2-0.3h0m0 0.9h0m0.5 1.4h0m15.5 2.2h0m0.2-0.6h0m0.3-1.3h0m0.2 0.5h0m0.6-0.2h0m0.7-0.7h0m0.1 0.4h0m1.1 0.4h0m0.7-0.4h0m-24.8 3.8h0m0.4-1h0m0.4 2.2h0m0.5 0.7h0m0-1.4h0m0.7-0.3h0m0.1 1.8h0m0.5 1.8h0m0.7-2.9h0m0.1 2.4h0m0.3 1.3h0m0-4.1h0m0.1-0.3h0m0.3 2.4h0m0.2-1.8h0m0.2 3.7h0m0.3-2.7h0m0.1-0.1h0m0 0.1h0m16.4-1.3h0m0.1 2h0m1.6-3.1h0m0.3 5.1h0m0.1-4.7h0m0.1 1.4h0m0.1 3.4h0m0.1-1.3h0m1.4-1.1h0m-25.1 6.8h0m0.3 1.1h0m0.7-2.6h0m0.8 0.3h0m0-0.6h0m0.1 0.4h0m0.8 0h0m0.2-1.8h0m0.2 3.7h0m0.4-0.6h0m0.1-2.6h0m0 4.4h0m0.1-5.7h0m0.2 0.6h0m0.6 0.2h0m0 2.7h0m0.2 1.2h0m16.4-3.7h0m0.8 4.6h0m0.8-4.8h0m0.2 2.7h0m0.9-0.6h0m0.3-0.4h0m0.1 1.7h0m0.8 1.4h0m-25.2 2.3h0m0.6 2.7h0m0.5-0.7h0m1.2 1.5h0m0.1-3.4h0m0.7-0.4h0m0.1 1.2h0m0.2 1.6h0m0.1 1h0m0.4-5.6h0m0.6 1h0m0.2 3.2h0m0.2 1.7h0m0.5-1.3h0m0.2 0.1h0m16.6 1.1h0m0.9-0.5h0m0.4-2h0m1.2-1.5h0m-24.1 7.1h0m0.2 1.5h0m0.3 0.1h0m0-0.3h0m0-0.8h0m0.2-1.5h0m0.2 0.9h0m0.1-2h0m0.5 3h0m0.5-0.2h0m0.1-2.1h0m0.2-0.3h0m0.1-1.2h0m0.2 0.6h0m0.3 0.5h0m0.5 0.9h0m0.2-0.2h0m0.4 0.1h0m0.4 0.8h0m0.3 3.1h0m0.3-0.2h0m0.1-0.7h0m15.4-3.8h0m0.8 1.8h0m0.1 1.5h0m1.2-2.3h0m0.4-1.4h0m0 4h0m0.1 0.8h0m0.2-5.5h0m0.2 4.7h0m0.9 1h0m-25.5 5.4h0m0.3-0.5h0m0.4-0.1h0m0.5 0.5h0m0-4.9h0m0.1 2h0m0.3 1.8h0m0-2h0m0.8-0.4h0m0.2 3.8h0m0.1-2.2h0m0.1 2.1h0m0.1-3.8h0m0.6-0.4h0m0.7 0h0m0.3 2.4h0m0.3-2.1h0m0.4 2.2h0m0.1 1h0m0.7 1.4h0m0.2-1.8h0m15.4 0.5h0m0.2 1h0m0.7-4.3h0m0.7-1.1h0m0.3 5.1h0m0.1-3.7h0m0.5 4h0m0.5-4.4h0m0.3 4.5h0m0.1-3.8h0m0 2.5h0m-24.7 2.4h0m0.3 1.3h0m1.8 2.3h0m0.5-4.4h0m0 4.7h0m0.1 0.1h0m0.6-4.5h0m0 5.4h0m0.1-4.8h0m0.1 2.1h0m0-1.6h0m0.1 2.5h0m0.5 0h0m0-2.3h0m0.1 0.3h0m0.8 1.5h0m0.2 1.4h0m0 0.4h0m0.1-1.1h0m0.2-0.9h0m0 2.3h0m0.3-4.7h0m15.2 3.6h0m0.9-3.3h0m0.5 0.7h0m1.2 2.1h0m0.5-1h0m0.1-3h0m0.4 3.3h0m0.8 1.8h0m-25.4 5.4h0m0.2-2.6h0m0.4-1.6h0m0.4 2.3h0m0.4-2.2h0m0.1 4.5h0m0.1-2.6h0m0.2-1.6h0m0.2 4.5h0m0.1-2h0m0.2-1.8h0m0 2h0m1 2h0m1.3-3.2h0m0.3-0.3h0m16 2.9h0m0.8-2.6h0m0.6 2.3h0m0 1h0m0-1.5h0m0.4 1.8h0m1-0.6h0m0-2h0m0.2 0.4h0m0.1-2.1h0m0.8 3h0m-24.9 5.7h0m0.8-1.4h0m0.4 2.7h0m0-0.1h0m0 0.6h0m0-3.6h0m0.9 3.3h0m1.2-1.2h0m0-4h0m0.3 2.6h0m0.5-0.9h0m0.1-0.7h0m0.1 3.1h0m0.1 0.2h0m0.8-2h0m0.1-2.7h0m0.2 3.8h0m0.6-2.8h0m15-0.1h0m0.3 1.4h0m0.2 1.9h0m1.6-3h0m0.4 0.8h0m0.4-0.2h0m0.8 1.8h0m0.3 0.9h0m0.1 1.2h0m0.2-5.2h0m0.1 0.8h0m0.1 0.2h0m-25.7 5.8h0m0.4 2.2h0m0.4-2.5h0m0.1 1h0m0.1 3.2h0m0.7-5.3h0m0 5.8h0m0.2-4.8h0m0.1 0.9h0m0.6 1.3h0m0.1 2h0m0.5-4.2h0m0.4 0.2h0m0.5-0.9h0m1.2 5.3h0m0.1-2.9h0m0 3.2h0m0.1-4h0m0.5 1h0m15.5 0h0m0.3 0h0m0.8-0.6h0m0.1 0.4h0m0.3 0.6h0m0.3 0.4h0m0.3 1.7h0m0.3-1h0m1.2-0.6h0m-23.8 4.9h0m0 2h0m0.6 1h0m0.1-4.3h0m0.3 1.8h0m0.1-1h0m0.3-2.2h0m0.9 3h0m0.1 1.7h0m0.5-4.4h0m0 4.2h0m0.3-2.9h0m0.4 4.3h0m0.1-4.9h0m0 3.7h0m0.4-2.4h0m0.3-2.3h0m0.2 2.3h0m0 2h0m0.1-1.7h0m0-0.4h0m0.4 3.6h0m0-4.3h0m0.2 4.3h0m14.6 0.1h0m0.4-3.1h0m0.2-1.7h0m0 1.2h0m0.7 0h0m0.7 1.7h0m1.1 1.2h0m0.7-4.1h0m-25 10.3h0m0.3 0.4h0m0.6-2.2h0m0-0.6h0m0.6-2.1h0m0.7-0.4h0m0.9 0.4h0m0.3 3.4h0m0.1 0.5h0m0.8-3.9h0m0.2 4.8h0m0.4-1.8h0m0.1-0.3h0m0-2.9h0m0.2 4.4h0m0.3 0h0m0-0.1h0m0.3 0.3h0m0.6-4.4h0m14.7 2.1h0m0.3 0.2h0m0 0h0m0.1-1.6h0m0.6 1.6h0m0.4 1.4h0m2.4 0.2h0m0.2-1.5h0m0.2-1.7h0m0.3 3.9h0m0.1 0.2h0m-25.5 2.3h0m0.2-1.7h0m0 0.8h0m0.9-0.8h0m0.2 5.3h0m0.4-1h0m1.5-4.1h0m0.1-0.5h0m0 0.4h0m0.1 4.9h0m0.1-3.5h0m0.7-1.7h0m0.2 3.6h0m0.1-1.8h0m0 3.6h0m0.1-3.8h0m1.6-0.6h0m0.3 1.5h0m0-1.7h0m0.1 1h0m14 3.1h0m0.1 0h0m0.2-3.8h0m0.1 2.6h0m0.3 0.9h0m0 0.7h0m0.9-1.6h0m0.6 1.2h0m0-1.7h0m0.7-0.3h0m0.6 0.4h0m0.4 1.1h0m0.4-1.9h0m0.7 1.3h0m-25.8 3.7h0m0.2 0.5h0m0.4-0.3h0m0 1.7h0m0.1-1.2h0m0.6-1.6h0m0.3 0.7h0m0.2-0.8h0m0.4 1.4h0m0.4 0.3h0m0.3 2.1h0m0.2-1.6h0m0.5 0.4h0m0.5-0.9h0m0 1.1h0m0.1 1.4h0m0.4-2.1h0m0.4 1.9h0m0.1 0.5h0m0.8 0.5h0m0.2-5.5h0m0.5 3.5h0m0.2-0.5h0m0 2.3h0m13.7-5.1h0m0.2 0h0m0.1 2.7h0m0.7-2.4h0m1.4 2.3h0m0.3 1h0m0 1h0m0.2-4.5h0m0.2 2.9h0m0.3 2.4h0m0.7-2.6h0m0.8 2.1h0m0.3-4.4h0m0.1 3.3h0m-25.5 5.8h0m0.6-3.5h0m0.1-0.1h0m0.1 4.2h0m0.1 0.1h0m0.3-1.1h0m0.8 1.8h0m0-3.6h0m0.3 0.7h0m0-2.1h0m0.5 1.5h0m0.2-0.5h0m0.3 0h0m0 2.9h0m0.5-1.7h0m0.1 3.5h0m0.1-2h0m0 0.9h0m0.2-4h0m1.9 3.1h0m0.1-1.6h0m14.4 2.6h0m0.1-3h0m0.4 1.1h0m0.3 0.5h0m0-1.2h0m0.5 0.6h0m0.3 1h0m1.4-1.4h0m0.1-2.5h0m0.1 5.1h0m0.7-2.9h0m0.4 2.5h0m0.3 0.3h0m0.3-1.5h0m-25.2 3.3h0m1.3 4h0m0-3.9h0m0.3 1.3h0m0.9-0.9h0m0.5 2.3h0m0.1-0.4h0m1.3 1.8h0m0.2-3.4h0m0.1 1.1h0m0.2-2.4h0m0.2 4.8h0m0.4-3.5h0m0.5 1.3h0m0.4 0.3h0m13.2 2.3h0m0.3-3.7h0m0.2-0.7h0m0.1 0.7h0m0.1-0.7h0m0.1 2.8h0m0-0.3h0m0.8 0.9h0m0.1-4.3h0m0.1 2.8h0m0.8-1.3h0m0.7 1.4h0m0-2.8h0m0.3-0.3h0m0.5 3.2h0m0.5 1.5h0m0.1-3.1h0m0.1-0.1h0m0.4 0.5h0m0.2 3.2h0m-25.3 5.1h0m0.5 1.1h0m0.9-1.2h0m0.1-1.6h0m0.5 1.6h0m0.4 0.3h0m0-0.7h0m0.3-2.7h0m0.2 0.9h0m0.5 2.9h0m0.3 0.6h0m0.9 0.1h0m0.1-4.1h0m1.5 1.7h0m0.1 2.5h0m0.2-0.4h0m13.4-2.3h0m0.8-0.8h0m0 3.5h0m0.5-1h0m0.6-1.7h0m0.1-3.1h0m0.5 0.5h0m0.3-0.3h0m0.1 4.5h0m1-0.9h0m0.3-0.5h0m0.7 1.5h0m0.2-3.5h0m0-0.7h0m-24.4 7.1h0m0.6 1.3h0m0.6 1.8h0m0.4-0.1h0m0.4-2.5h0m0.3-2.1h0m0.3 1.3h0m0.2 0.1h0m0.8 1.1h0m0.1 3.4h0m0.3-2.8h0m0.2-1.5h0m0 0.5h0m0.3 1.6h0m0.1-2h0m0.2 2.3h0m0.3-0.7h0m0.1-2.8h0m0 3.2h0m0.5-1.6h0m0.4 1.3h0m0.1-2.1h0m0.2 3.4h0m12.8 0.5h0m0.1-0.4h0m0.1 0.1h0m0.2-3.5h0m0.2 1.8h0m0.3-1.4h0m0.2-1.1h0m0.1-0.3h0m0.1 4.9h0m0.7-4.9h0m0 3h0m0.1 2.5h0m0.1-5.8h0m0.1 0.8h0m0.2 2.7h0m1.3 1.1h0m0.3 0.2h0m0.1-2.9h0m0.4 2.5h0m0-0.3h0m-24.6 7.4h0m0.6-3h0m0.6 1.7h0m0.1-0.6h0m0.4 0.6h0m0-2.5h0m0.1-0.1h0m0.4 2.1h0m0.1-3.6h0m0.4 2h0m0.1 1.3h0m0.7 1.8h0m0.2-1.8h0m0 1h0m0.5 1.4h0m0.2-3.6h0m0.1-0.4h0m0.1 0.4h0m0.3 2.5h0m0.2-1h0m0-2.5h0m0.2 3.4h0m1.2-3.2h0m13.3 2.9h0m0.1-1.5h0m0.1-1.6h0m0.2 0.3h0m0.9 0.4h0m0.3 2.4h0m0.4 1.1h0m0.4-2.3h0m0-2.1h0m2 0.7h0m0.3 3.5h0m0.6-0.7h0m0.1-2h0m-25.2 6.9h0m0.6-2.7h0m0.1-0.7h0m0.1 0.5h0m0 3.5h0m0.4-2h0m0.5 1.4h0m0.9 2.2h0m0.2-3.3h0m0.2 0.5h0m0.1 2.8h0m0.1-2.2h0m0.6 2.3h0m0-0.1h0m0.4-0.9h0m0-1.1h0m0.2-3.1h0m0.2 1.1h0m0.2 1.9h0m0.3-3.4h0m0.1 0.9h0m0.8 3.6h0m13.8 0.5h0m0.1-1.4h0m0.6-0.9h0m0.3-0.1h0m0.8-2.8h0m0.5 0.2h0m0.8 5.2h0m0.2-2.4h0m0.3-0.2h0m0.5-0.4h0m0 2.1h0m0.7 0.9h0m-24.7 5.5h0m0.2-2h0m0.5 1.3h0m0.3-1.8h0m0.7-0.8h0m0.1 0.6h0m0.1-1.6h0m0.6 0.5h0m0.3 3.3h0m0.3-0.6h0m0-3h0m0.2 1.3h0m0.5 0.7h0m2.3 1.1h0m0.3-3.7h0m1.2 5.6h0m12.5-2.3h0m0.1 1.1h0m0.2 1.1h0m0.5-3.1h0m0.1 2.9h0m0.1-2.8h0m0.1 2.3h0m0 0.2h0m0.3 0.4h0m0.5-0.4h0m0.1-1.8h0m0.1-0.6h0m0.6-2.1h0m0.5 3h0m0.8-2.6h0m0.7 1.7h0m0.4-0.5h0m0.3-0.5h0m-25.4 9h0m0.3-3.2h0m0.3 0.4h0m0.2 1h0m0.2 2.4h0m0.1-4h0m0-1.1h0m0.1 5.6h0m0.2-4.5h0m0 3.8h0m0.4-0.6h0m0-3.5h0m0 0.3h0m0.1 1.7h0m0.3 0.3h0m0.1-0.3h0m0 2.6h0m0.7-4.3h0m0.1 3.8h0m0-1.6h0m0.2-1.2h0m0.5 2.8h0m0.6-2.3h0m0.1-2.8h0m0 0.3h0m1.2 1.6h0m0.5-0.7h0m0.1 2.7h0m0.1 0.5h0m0.1 0.9h0m0.2-1.3h0m0 1.1h0m0.7-2.7h0m0.1-2.1h0m0 5.2h0m12.7-4.7h0m1.3 3.6h0m0-4.3h0m0.4 3.3h0m0.2 1.1h0m0.9-0.6h0m0.4-2.3h0m0.2 2.7h0m0.4-3.9h0m0.1 0.1h0m0 1.9h0m0.5 0.1h0m0.6 0.4h0m0 2.8h0m0.3-0.6h0m0.1-2.3h0m-25.7 4.6h0m0-0.3h0m0.7 3.6h0m0.2 0.5h0m0.1-2.1h0m0.1-3.1h0m0.6 5.2h0m0.6-3.6h0m0 1.1h0m0.2-2.5h0m0 3.8h0m0.4-0.2h0m0.4-2.5h0m0.5 2.8h0m0 1.4h0m0.2-3.1h0m0.4-0.6h0m0.1-1.8h0m0.1 2.9h0m0 0.4h0m0.5-0.8h0m0.6 2.7h0m0.2-4.3h0m0.2 1h0m0.7-1.2h0m0 2.5h0m0.2-1.3h0m0.1 1.9h0m0.6-3.1h0m0.1 1.6h0m11.9-2.2h0m0.7 3h0m0.1-0.4h0m0.1 2.2h0m0.3-0.4h0m0 0.7h0m0.2-3.2h0m0.4 1h0m0.1 1.3h0m0.8 1.1h0m0-2.6h0m0.1 1.4h0m0.5-4.2h0m0 5.7h0m0.1-4.3h0m0.2 2.9h0m0.1-0.3h0m1.3-2.6h0m0 0.6h0m0.4 0.2h0m-25.1 4.9h0m0.2 4.5h0m0-4.6h0m0.1-1h0m0.5 0.9h0m0.1 2.2h0m0.2 0.1h0m0.4 1.3h0m0.1-2.5h0m0.1 2.1h0m0.1-4.2h0m0.2 5.2h0m0.5-3.7h0m0.1-1.6h0m0.4 0.8h0m0.1 0.7h0m0.3 1.9h0m0.5-0.5h0m0.7-2.5h0m1.6 2.1h0m0.1 2.5h0m0.3 0.3h0m0.3-2.2h0m0.5 0.1h0m12.1 2.3h0m0.3-4.6h0m0 3.5h0m0.1-3.5h0m0.6 4.9h0m0.1-5.2h0m0.6 5h0m0.8-5.3h0m0.1 2.7h0m0.1 2.2h0m0.2 0.4h0m0.1-3.5h0m0.9 0.2h0m0.1 2.8h0m0-2.2h0m0.5-0.5h0m0.2 2.8h0m0-4.7h0m0.1 5h0m0.1-3.7h0m0.1 2.9h0m0.2-1.3h0m0.2 2.2h0m0.3 0.4h0m0.1-0.3h0m0-4h0m0.2 1.9h0m0.2 2h0m-25.5 4.1h0m0.2-3.3h0m0.3 2.1h0m0.2 3.4h0m0.9-5.6h0m0.7 3.1h0m0.4-1.6h0m0.8 0.8h0m0.2 2.7h0m0.3-0.8h0m0.1-2.2h0m0.6-1.4h0m0.2 4.5h0m0.1-0.9h0m0.1-2.7h0m0.1 3h0m0.2-1.5h0m0.3 0.2h0m0.1 1.5h0m0.1-2.3h0m0 1h0m0.1 1.6h0m0.8-3.4h0m0.1 1.8h0m0.1-1.3h0m0.7 2.2h0m11.6-1.9h0m0.3-1.7h0m0 2.4h0m0.6 1h0m0.3-2.1h0m0.3-0.8h0m0.1-1.4h0m1.1 5.3h0m0.3-1.8h0m0.1-0.4h0m0.1 2.6h0m0.4-0.5h0m0.1-4.4h0m0.4 1.9h0m0.9 1h0m0-0.9h0m0 0.1h0m0.2 2.4h0m0.2-3.8h0m0.1-1.5h0m0.3 2.9h0m0.3 2.5h0m0.1-0.6h0m-25.7 1.9h0m0.2 1.9h0m0.2-1.6h0m0.2 3h0m0.1-1.1h0m1.2-1.2h0m0.9 4h0m0.1-0.8h0m0.1-2.6h0m0.2 2.7h0m0.1-4.9h0m0 0.7h0m0.1 0.2h0m0.6 1.7h0m0 1.9h0m0.2-0.4h0m0.7 0.4h0m0.2-0.6h0m1.2-1.3h0m0.2 0.3h0m0 2.1h0m0.1-1.4h0m1.3 0.1h0m11.3 0.4h0m0.1-3h0m0.8 2.2h0m0-1.5h0m0.1 2.7h0m0.2-0.7h0m0.1-3.3h0m0.1 0.8h0m0.6 1.1h0m0.1-2.2h0m0 1.3h0m0 2.4h0m0.3 1.4h0m0.2-0.4h0m0.6-0.5h0m0.3-4.6h0m0.1 0.8h0m0.4 3.2h0m0-2.4h0m0.3 0.5h0m1.1 3.5h0m0.3-1.6h0m0.5-1.6h0m-25.4 6.4h0m0 0.7h0m0-0.7h0m0.3 0.9h0m0.1-3.4h0m0.4 0h0m1.3 4.1h0m0-3.7h0m0.1 2.4h0m0.5 0.3h0m0.1-0.7h0m0.1 0.8h0m0.7 0.7h0m0-2h0m0.2 3h0m0.3-2.7h0m0.2-1.6h0m0.4 0.7h0m0.2 3h0m0.2-3.3h0m0.1 3.7h0m0.3-2.8h0m0.6-0.6h0m0 2.6h0m0.2-2.2h0m0.2-1.5h0m0.5-0.1h0m0.2 0.5h0m0.7 1.6h0m0.1-1.1h0m0.1 2.8h0m0.2-2.6h0m0 3.4h0m11.5-1.4h0m0-3.4h0m0.1 3.3h0m0.1-2.8h0m0.2 0.1h0m0.2 0.5h0m1.8 1.8h0m0.3-0.6h0m0.1 3.2h0m0.5-4.5h0m0.3 2.1h0m0.1-2.1h0m0.2 1.6h0m0.4 0.7h0m0-0.3h0m0.1 0.5h0m1-1.8h0m0.2 0.2h0m-24.7 8.1h0m0.2-0.2h0m0.2-3.9h0m0.1 1.8h0m0.6 1.7h0m0.6 0.9h0m0.1-0.7h0m0-0.9h0m0.8 1.8h0m0.6-2.6h0m0.2 1.3h0m0.1 2.5h0m0.2-0.4h0m0.3-3.1h0m0.2-2.1h0m0.3 3.2h0m0-2.1h0m0.1 1.8h0m0.5-0.6h0m0.2 3h0m0.9-5h0m0.4 5h0m0.1-1.9h0m0.4 1.1h0m0.1 0h0m0.5-2.2h0m10.6 1.4h0m0.2-0.3h0m0.1 0.5h0m0.2-1.4h0m0.2 3h0m0.1-3.7h0m0.2-1.9h0m0.1 2.2h0m0.7 2.1h0m0.1-4.2h0m0.5 1.6h0m0.2 1.6h0m0.6 0.4h0m0.9-2.4h0m0.1-1.5h0m0.1 4.9h0m0 0.9h0m0.2-0.9h0m0.3-2.4h0m1.1-1.8h0m0.1 1.5h0m0.2-1.5h0m0-0.7h0m-25.2 9.2h0m0.3-2.1h0m0.4 2.2h0m0.2-2.2h0m0-0.5h0m0.3 2.8h0m0 2.6h0m0.9-2.8h0m1.2 2.6h0m0.1-3.5h0m0.5 0.3h0m0.3 1.9h0m0-1.9h0m0.3 2.7h0m0.4-3.8h0m0.2-1.4h0m0.4 4.3h0m0.1 0.7h0m0.2-0.4h0m0.1 0.7h0m0.3 0.1h0m0.1-4.9h0m0.1 3.5h0m0.3-1.4h0m0-1.5h0m0.1 3.7h0m0.1 0.5h0m0.2 0.4h0m0.6-3.5h0m0.3-1.1h0m0.3-1h0m0.2 1.7h0m10.7 2.4h0m0.3-1h0m0.6 1.2h0m0.1-3.8h0m0.2 2.8h0m0-0.9h0m0.5 1.7h0m0.9-1.8h0m0.3 3.4h0m0.3 0h0m0.3-4.9h0m0.1 3.4h0m0-2.3h0m0.1-1h0m0.2 0.1h0m0.9 4h0m0.1-1.6h0m0.4 1.5h0m1-3.4h0m0.1 2h0m-25.5 4.1h0m0.8 1.4h0m0.3 0.8h0m0.2-0.5h0m0 0.4h0m0.4-3.7h0m0.2 2h0m0 2.5h0m0.2-3.3h0m0.3 2.6h0m0.1 0.6h0m0.3-1.8h0m0.2-1.2h0m0.1 3.9h0m0.1-5h0m0.2-0.3h0m0 2.3h0m0.2-1h0m0.1 1.7h0m0.6 0.1h0m0-3.1h0m0.1 4.2h0m0.2-2h0m0 1.8h0m0.1-2.6h0m0 1h0m0.2-1.7h0m0.3 0.8h0m0.4-1h0m0.2 0.5h0m0.4 2.3h0m0.1-2.8h0m0.3 3.7h0m0.2-0.2h0m0.4-3.6h0m0.1 4.5h0m1 0.9h0m0-3.2h0m0.4 2.6h0m9.9-5h0m0.9 1.7h0m0.6 2.4h0m0.2 0.4h0m0.1-2.5h0m0.2 0.2h0m0.4 1.4h0m0.6-3.5h0m0.2 0.5h0m0.9 4.9h0m0-0.6h0m0.6-4.7h0m1.1 2.9h0m0.1 0.6h0m0-2.6h0m0.1-0.1h0m0.1 4.5h0m0.4-2.9h0m0 0.4h0m0.1-2.7h0m0 0.6h0m0.2 1.5h0m0-2.7h0m0.3 3.6h0m-25.8 4.9h0m0.6-1.1h0m0.7-1.4h0m0.7 3.7h0m0.2-0.4h0m0.2 0.1h0m0.2 2.3h0m0.6-0.3h0m0.1-1.8h0m0.2 0.9h0m0 0.7h0m0.1-1.8h0m0.1-3.2h0m1.4 1.4h0m0.2 3.5h0m0.3-1.9h0m0 0.6h0m0.4-3.3h0m0.4-0.4h0m0 2.8h0m0.1-2.5h0m0.4 3.1h0m0.3-2.8h0m0.2 2.2h0m0.1-2.6h0m0.4-0.3h0m0.1 0.1h0m0.1 2.5h0m0.1 0.1h0m0-0.3h0m0.1 2.4h0m0.3 0.4h0m10.2-4h0m0.6 1.6h0m0.2-2.3h0m0.6 1.6h0m0.1-0.6h0m0.2 2.5h0m0.2-3.1h0m0.1-0.7h0m0.1 3.4h0m0.5-3.4h0m0 3.9h0m0.6-0.8h0m0.1 2.1h0m0-2.4h0m0.1-2.2h0m0 3.9h0m0.1-3.5h0m0 4.2h0m0.2-1.5h0m0-0.5h0m0.4 1.1h0m0.1 0h0m0-1.6h0m0.3-1.6h0m0.1 3.7h0m0.7-1.8h0m0.3 0.9h0m1 1.7h0m0.1-5.4h0m0 4.6h0m0.3-4.3h0m0 1.7h0m-25.8 7h0m0.2-2.3h0m0.1-0.4h0m0.2 4.7h0m0.5-1.8h0m0.1-0.7h0m0.4 0.9h0m0.1-2.1h0m0 1.8h0m0-2.7h0m0.2 4h0m0.2 0.8h0m0.2-1.6h0m0.1-0.7h0m1.1-1.7h0m0 0.8h0m0 1.2h0m0.1-3.5h0m0 2.3h0m0.6 2.2h0m0-0.4h0m0.3-3.4h0m0.2 4h0m0.3-0.8h0m0.2-0.4h0m0.1-1.4h0m0.3 3.6h0m0.1-0.9h0m0.1-0.4h0m0.3-3.7h0m0.1 1.7h0m0-2.5h0m0.4 0.8h0m0.4 4.9h0m0.2-2.7h0m0-1.8h0m0 3.2h0m0.2-1.1h0m0 1.1h0m0.2-0.7h0m0 1.2h0m0.1-1.6h0m0.2 0.4h0m0.2 0.4h0m0.3-1h0m0-1.2h0m0.1 2.4h0m0.1-1.4h0m0-1.3h0m0.3 1.7h0m9.7-0.7h0m0-1.5h0m0.1-0.4h0m0.1 2.2h0m0.2 2.2h0m0-1.7h0m0.3-2.7h0m0.6 4.8h0m0.5-4.9h0m0.8 0.7h0m0.2 2.5h0m0.1-0.9h0m0.3-2.7h0m0.1 5.3h0m0.3-2.9h0m0.7 1.1h0m0-0.6h0m0.2-1h0m0.1-0.5h0m0.2-1.3h0m0.2 3.4h0m0.2 0.1h0m0.1-2.6h0m0.1-0.4h0m0.2 1.4h0m0 0.8h0m0-2.3h0m0.2 0h0m0.2 2h0m0.4 1h0m0.1-2.2h0m0.8 1.6h0m-25.7 4.2h0m0.4 2h0m1.5-2.9h0m0.3 3.6h0m0.2-3.6h0m0.1 3.7h0m0.5 0.8h0m0.1-3h0m0.1 0.5h0m0.7-1.3h0m0-1.2h0m0.3 2.6h0m0 1.4h0m0.1-2.2h0m0 3.3h0m0.6-4.7h0m0.1 3.1h0m0.9-1.2h0m0.1 1.3h0m0.6-1.1h0m0.4 0.3h0m0-1.9h0m0.8 4.7h0m0-4.1h0m0 0.2h0m0.5 1h0m0.1-2.3h0m0.1 1.5h0m0.4 2.4h0m9.2 1.6h0m0-0.7h0m0.1-2.9h0m0.2 3.1h0m0.2-3.7h0m0.2 2h0m0-1.3h0m0.1 3h0m0.2-2.8h0m0.4-0.8h0m0.6 3.5h0m0.2-0.2h0m0.5-4.8h0m0 4.2h0m0.2 0.1h0m0.7-3h0m0.8-1.3h0m0.2 1.1h0m0.5 0.9h0m0.4-0.3h0m0.1 2.3h0m0.2-4.2h0m0.2 3h0m0.3-1.7h0m0.1 4.3h0m0-1.9h0m0.4 1.4h0m0.6-1.6h0m0.2-0.7h0m-25.4 7.7h0m0.1-3.7h0m0.7 4.7h0m0.2-0.3h0m0.1-1.5h0m0.7-2.5h0m0.3 3.3h0m0-2.6h0m0.1 0.4h0m0.4-1.5h0m0.1 1.9h0m0.3 3.1h0m0.7-3.2h0m0.2 0.3h0m0.1-0.3h0m0.1-1.7h0m0.1 3.1h0m0.2-4.1h0m0.2 2h0m0.1 2.1h0m0-0.9h0m0.3 0.2h0m0.5 0.3h0m0.2-2.1h0m0.5 3.9h0m0.1-3.1h0m0.4 2h0m0.2-0.6h0m0.4-3.2h0m0.3 4.6h0m0.3-3.9h0m0 3.2h0m0.1-3.4h0m0.6 3.6h0m0.3-4.5h0m8.8 2.8h0m0.1 0.1h0m0.5-0.1h0m0.5 1.5h0m1.6 1.1h0m0.2-3.2h0m0.1 0.9h0m0.5-1.2h0m0.1-0.3h0m0-1.1h0m0.8 5.2h0m0.1-5.7h0m0.4 0.3h0m0.3 5h0m0.5-5.3h0m0 5.6h0m0.1-2.9h0m0.2 2.7h0m0.3-3.8h0m0 3.7h0m0.3-4h0m0.6 4.2h0m0.4-3.8h0m-24.8 8h0m0.2-2.3h0m0.6 1.1h0m0.1 2.9h0m0.3-1h0m0.7-0.7h0m0.5 1.6h0m0.6-2.9h0m0-1.9h0m1 1.4h0m0.1-0.7h0m0.1 3.8h0m0.6-3.2h0m0.1-1.3h0m0.2-0.3h0m0.3 3.5h0m0.5-1.8h0m0.7-1.4h0m0 0.8h0m0.1 3.1h0m0.4-3.7h0m0 0.4h0m0 2.1h0m1.4 0.8h0m0.1-2.5h0m0 3.7h0m0.1-3.2h0m8.1 2h0m0.9 0.3h0m0.4-3h0m0.1 1.4h0m0.4-0.3h0m0 1.3h0m0.4 0.7h0m0.7 1.1h0m0.1-4.2h0m0.4 1.5h0m0.4-1.2h0m0.6 0.9h0m0.2 0.5h0m0.1-2.8h0m0.9 4.9h0m0.5-4.6h0m0.9 2.2h0m0.4-2h0m0.6 3.9h0m-25.2 3.8h0m0.3 2.2h0m0.4-3.5h0m0.7 0.3h0m0.1 0.8h0m0.1 0.7h0m0.4 1.8h0m0.2-3.2h0m0.2-0.1h0m0 3.6h0m0.1-0.8h0m0.3-2.1h0m0.5-1h0m0.1 1.5h0m0 2.4h0m0.6-1.8h0m0.1 2.3h0m0.9-4.2h0m0.2-0.8h0m0.1 1.4h0m0.5-0.9h0m0.1-1.1h0m0.3 4.5h0m0.1 0.7h0m0.3 0.7h0m0.5-4.2h0m0.7 3h0m0.4 0.6h0m0.1-3.2h0m0.1 2.1h0m0.1-0.3h0m0.5 0.8h0m8.2-4.4h0m0.3 1.7h0m1.2 0.7h0m0.2-2.7h0m0.2 1h0m0 2.1h0m0.4-0.6h0m0.4 1.6h0m0-2.4h0m0.2-0.7h0m0.3 1.3h0m0.1 3h0m0.5-0.8h0m0.1-1.1h0m0.7 2h0m0.4-3.5h0m0.6-1.9h0m0.3 0.2h0m0 3.3h0m0.1-1.5h0m0.1 2.3h0m0.8-2.6h0m0.2 3.7h0m0.5-3.7h0m0-0.2h0m0.4-0.8h0m-25.5 9.2h0m0.2-2.7h0m0 0.5h0m0.2 4h0m0.1-4h0m0.1-0.5h0m0.3 4h0m0.6-0.4h0m0.8 0h0m0.4-3.4h0m1.3-0.3h0m0.1 1.9h0m0.1-3h0m0.3 1.6h0m0.3 2.3h0m0.1-2.1h0m0 3.3h0m0.3-0.4h0m0-3.2h0m0.2 3.6h0m0.5-1.4h0m0.1-3.3h0m0.1 2.2h0m0.1-1.2h0m0.5-1.2h0m0.1 2h0m0-0.3h0m1.4 0.5h0m0.1 2.9h0m0.2-4.5h0m0.4 3.3h0m0.4 0.6h0m0.1-0.5h0m7.7 1.2h0m0.1-3.3h0m0.3-1.1h0m0.6 0.6h0m0.1 3.9h0m0-1.7h0m0.1 0.2h0m0.4-3h0m0.3 2.1h0m0.1-1.4h0m0.4 3.5h0m1.3-0.6h0m0-3.9h0m0.3 2.4h0m0.7 1.7h0m0.2 0.3h0m0.5-0.1h0m0.7-2.4h0m0.6-1.8h0m0.1 1.2h0m0.8-1.2h0m0-0.2h0m0.1 3.1h0m0.1 1.2h0m0.1-4.4h0m0.1 2.8h0m0.3-1.8h0m0.1-1h0m-25.1 5.5h0m0.2 2.5h0m0-1.6h0m0.6 0.8h0m0 1.7h0m0.4-0.5h0m0.4 1h0m0.1-1.1h0m0.3-1.4h0m1.1 2.7h0m0.3-1.7h0m0.1-1.8h0m0.1 0.8h0m0.2-0.7h0m0.1 0.9h0m0.3 2.6h0m0.6 1.3h0m0.4-1.5h0m0.1 1.6h0m0 0.1h0m0.3-3.7h0m0.5-1h0m0 3.5h0m0.3-4.1h0m0.6 1.6h0m0.1 2.6h0m0.4-4.6h0m0.1 4.9h0m0.5-0.2h0m0.4-2.1h0m0.4 0.8h0m0.1-2.3h0m0.7 4.5h0m6.8-0.2h0m0.6-0.4h0m0.3-3.3h0m0.2 2.2h0m0.2-0.1h0m0.3-0.3h0m0.2-3.3h0m0.6 4.2h0m0.1-0.7h0m0.8-2.1h0m0.2 3.9h0m0.1-1.8h0m0.4-1.9h0m0.6 1.6h0m0.1-2.9h0m0.2 0.7h0m0.2 1.7h0m0.1 2.8h0m0.5 0h0m0.2-1.5h0m0.2-3.2h0m0.1 1.2h0m0.5 3.6h0m0.2-4.2h0m0.5 3h0m0.2-1.9h0m1-1h0m-25.3 4.7h0m0.2 0.6h0m0 0.5h0m0.1 1.9h0m0-1.4h0m1.2 0.8h0m0-0.8h0m0.3-1h0m0.1 1.9h0m0.7-0.1h0m0.1-2.7h0m0 4h0m0.3 0.3h0m0.3-4.2h0m0.3 1.5h0m0 3.3h0m0-3.4h0m0.9 0.2h0m0.2-0.2h0m0.2 1.8h0m0-2.3h0m0 0.3h0m0.2 1.9h0m0.5-0.2h0m0.2 1h0m0.5 0.1h0m0.1 0.9h0m0.5-0.8h0m0-0.6h0m0.6-0.3h0m0.1-3.5h0m0.2 3.1h0m0.1-0.4h0m0.1 2.4h0m0.1-1.6h0m0.1-3.4h0m0 2.8h0m1.1 2.5h0m0-1.1h0m0-1.2h0m0.1-1.3h0m0.3-0.8h0m0 3.5h0m7 0.2h0m1.1-3.6h0m0 2.2h0m0.1-0.2h0m0.6-0.4h0m0.3-0.3h0m0.3 3h0m0.3-4.1h0m0 2.6h0m0.1 0.4h0m0.1-0.5h0m0.1-2.7h0m0.3 0.8h0m0.1 1.4h0m0.2 0.3h0m1.2-2.1h0m0.2 3.9h0m0-0.9h0m0.1-0.6h0m0.3-0.9h0m0-0.9h0m0.1 2.4h0m0.3-3.5h0m0 2.9h0m0-3.8h0m0 5.7h0m0-3.8h0m0.4 1.7h0m0.1-0.7h0m0.3-1.7h0m0.3-0.2h0m0.2-1h0m0.5 4.8h0m0.2-3.6h0m0.1 0.1h0m0.1 3.4h0m0.2-4.3h0m-25.3 8.2h0m0.3-1.4h0m0 3.9h0m0.1-2.5h0m0.2 0.8h0m0.2-3.4h0m0.1 1.7h0m0.2 2.2h0m0.2-0.2h0m1.2-0.3h0m0.2-2.8h0m0.4 5.1h0m0.7-1.3h0m0.1-2.2h0m0.3 0.5h0m0.1-1.4h0m0 2.3h0m0.2-1.8h0m0.2 2.6h0m0-0.2h0m0.7 0h0m0.3 1.3h0m0.1-5.2h0m0.5 1h0m0.1 0.4h0m0.7 0.5h0m0.1-1.4h0m0.6 1.9h0m0.7-0.8h0m0-1.7h0m0 2.6h0m0.1-1.6h0m0.4 4.2h0m1.1-3.1h0m7.7 2.6h0m0.1-0.8h0m0.3-1.9h0m0.1 0.8h0m0.2 2.9h0m0.5-2.2h0m0.1-0.1h0m0-1.9h0m0.5 3.7h0m0.2-1.1h0m0.4 0.3h0m0-1.6h0m0.5-1.3h0m0.2 1.8h0m0.5-3.1h0m0.5 0.2h0m0.1 4.3h0m0.8-3.8h0m0.4 3.4h0m0.1-4.2h0m0.4-0.1h0m0 3.9h0m0.2-0.6h0m0.1-1.9h0m0.2-0.1h0m0.2 2.8h0m0.3-4.2h0m0.4 5.3h0m0.1-4.9h0m0 0.3h0m0.2 4.2h0m0.1-1.5h0m0.3 0.9h0m-25.9 4.5h0m0.6 1.1h0m0-2.2h0m0.9-1.3h0m0.3 5h0m0.4 0h0m0-4.7h0m0.6 3h0m0.4 0.6h0m0.4-0.8h0m0.1-0.8h0m0.1-2h0m0.3 3.9h0m0.3-1.8h0m0.1-2.7h0m0.2 0.6h0m0.6 3.9h0m0.4-4.5h0m0.2 3.5h0m0.2-3.1h0m0.3 3.9h0m0.2-2.8h0m0.1 3.1h0m0-3.1h0m0.1 0.5h0m0.1 0.1h0m1 0.4h0m0.2 0.4h0m0.1 1.2h0m0.1 1h0m0.1-1.2h0m0.6-2.9h0m0.1-1h0m0.3 2.9h0m0.2-2.1h0m0.1 3.5h0m0.5 0.7h0m0.2-2.6h0m6.3 0.8h0m0.1 1.8h0m1.1-3h0m0-0.9h0m0-0.2h0m0.3 4.2h0m0.8-2.6h0m0.2 3.2h0m0-4.3h0m0.3 2.4h0m0.4-0.4h0m0.4-1.7h0m0.6 3.9h0m0.2-1.6h0m0.8-1.6h0m0.4 1.5h0m0-3.5h0m1.9-0.2h0m0.9 0.8h0m0-0.9h0m-24.5 10.5h0m0.1-2.2h0m0.1-1h0m0 0.4h0m0.2-1.6h0m0.1 1h0m0.2-1.2h0m0.2 0.7h0m0.1-0.4h0m0 2.6h0m0.1 1.4h0m0.6-2.8h0m0.2 1.6h0m0.3-1.2h0m0.6 0.3h0m0.5-1h0m1-0.1h0m0.3 3.1h0m0.7-4h0m0.1 5.1h0m0.1-4.1h0m0.6 1.9h0m0.5 2.1h0m0-5.4h0m0.5 4.7h0m0.3-1.5h0m0.1-1.4h0m0.2 0.7h0m0.2 0h0m0.2-1.6h0m0.1 1.1h0m0.1 1.5h0m0.1-3.4h0m0.1 5.2h0m0.2-2.8h0m0.1-1.2h0m0.3 4.1h0m0.4-2h0m0.1-2.6h0m0.4-0.3h0m0.5 3.1h0m5.7-2.5h0m0.5 3.6h0m0.1-0.2h0m0.2-0.6h0m0.2 0.9h0m0-1.6h0m0.1 0.5h0m0.2 1.5h0m0.2-5.2h0m1.8 5.1h0m0.1-3h0m0.5 2.3h0m0.2-3.1h0m0.1 0.5h0m0.1 3.7h0m0.3-4.1h0m0.2 4.1h0m0.3-4.5h0m0.3 3.1h0m0.1-3.3h0m0.2-0.9h0m0.6 2.4h0m0.5-0.1h0m0-1.8h0m0.2 2.4h0m0.3-1.6h0m0.2 2.5h0m0.1 2.1h0m0.1-1.7h0m0-4.1h0m0.1 5h0m0-1.3h0m1-0.1h0m0.1-1.4h0m0.1 2.9h0m0.1-3.9h0m-25.3 5.7h0m0.2 0.4h0m0.4 0.8h0m0-1.4h0m1.9 0.2h0m1.3 1.1h0m4.6-0.3h0m0-0.7h0m7.7 0.5h0m0.7 0.3h0m0.1-1.3h0m0.5 0h0m0.7 0.3h0m1.8-0.1h0m1.5 0.1h0m0 1.1h0m0.3 0h0m2.6-1.5h0m0.6 1.3h0" stroke="#070707" stroke-width="2.3" stroke-linecap="round" fill="none"/>
<path d="M1087.1 1121.2H1474.4" stroke="#555" stroke-opacity="0.6" stroke-width="1" stroke-dasharray="2.4 2.2" fill="none"/>
<path d="M1238.3 1165.1V834.4M1265.4 1165.1V834.4" stroke="#666" stroke-opacity="0.6" stroke-width="0.7" stroke-dasharray="2.3 1.8" fill="none"/>
<path d="M1145.9 834.4H1238.6" stroke="#BF9CCB" stroke-width="3.7" fill="none"/>
<path d="M1264.6 834.4H1370.4" stroke="#77BD87" stroke-width="3.7" fill="none"/>
<path d="M1101.2 834.4h0m19 0h0m3.1 0h0m10.1 0h0m12.5 0h0" stroke="#BF9CCB" stroke-width="3.9" stroke-linecap="round" fill="none"/>
<path d="M1370.4 834.4h0m5.9 0h0m3.3 0h0m3.4 0h0m10.9 0h0m4 0h0m2.7 0h0m3.4 0h0m57.6 0h0" stroke="#77BD87" stroke-width="3.9" stroke-linecap="round" fill="none"/>
<path d="M1238.6 834.4H1245.3M1259.4 834.4H1264.6" stroke="#070707" stroke-width="2.6" fill="none"/>
<text transform="translate(1181.18 794.6) scale(0.9867 1)" font-size="32.32" font-weight="bold" fill="#000">6 Months</text>
<text transform="translate(1008.7 796.2) scale(0.9735 1)" font-size="30" font-weight="bold" fill="#000">E</text>
<text transform="translate(1088.11 956.6) scale(1.0018 1)" font-size="33.04" font-weight="bold" fill="#BF9CCB">1112</text>
<text transform="translate(1341.31 956.6) scale(0.9525 1)" font-size="33.04" font-weight="bold" fill="#77BD87">3748</text>
<text transform="translate(1129.31 1271.3) scale(0.9524 1)" font-size="34.06" fill="#000">Log2 Fold change</text>
<text transform="translate(1032.4 1094.66) rotate(-90) scale(0.99 1)" font-size="32.83" fill="#000">-log10 (p-adj)</text>
</g>
</svg></body></html>
